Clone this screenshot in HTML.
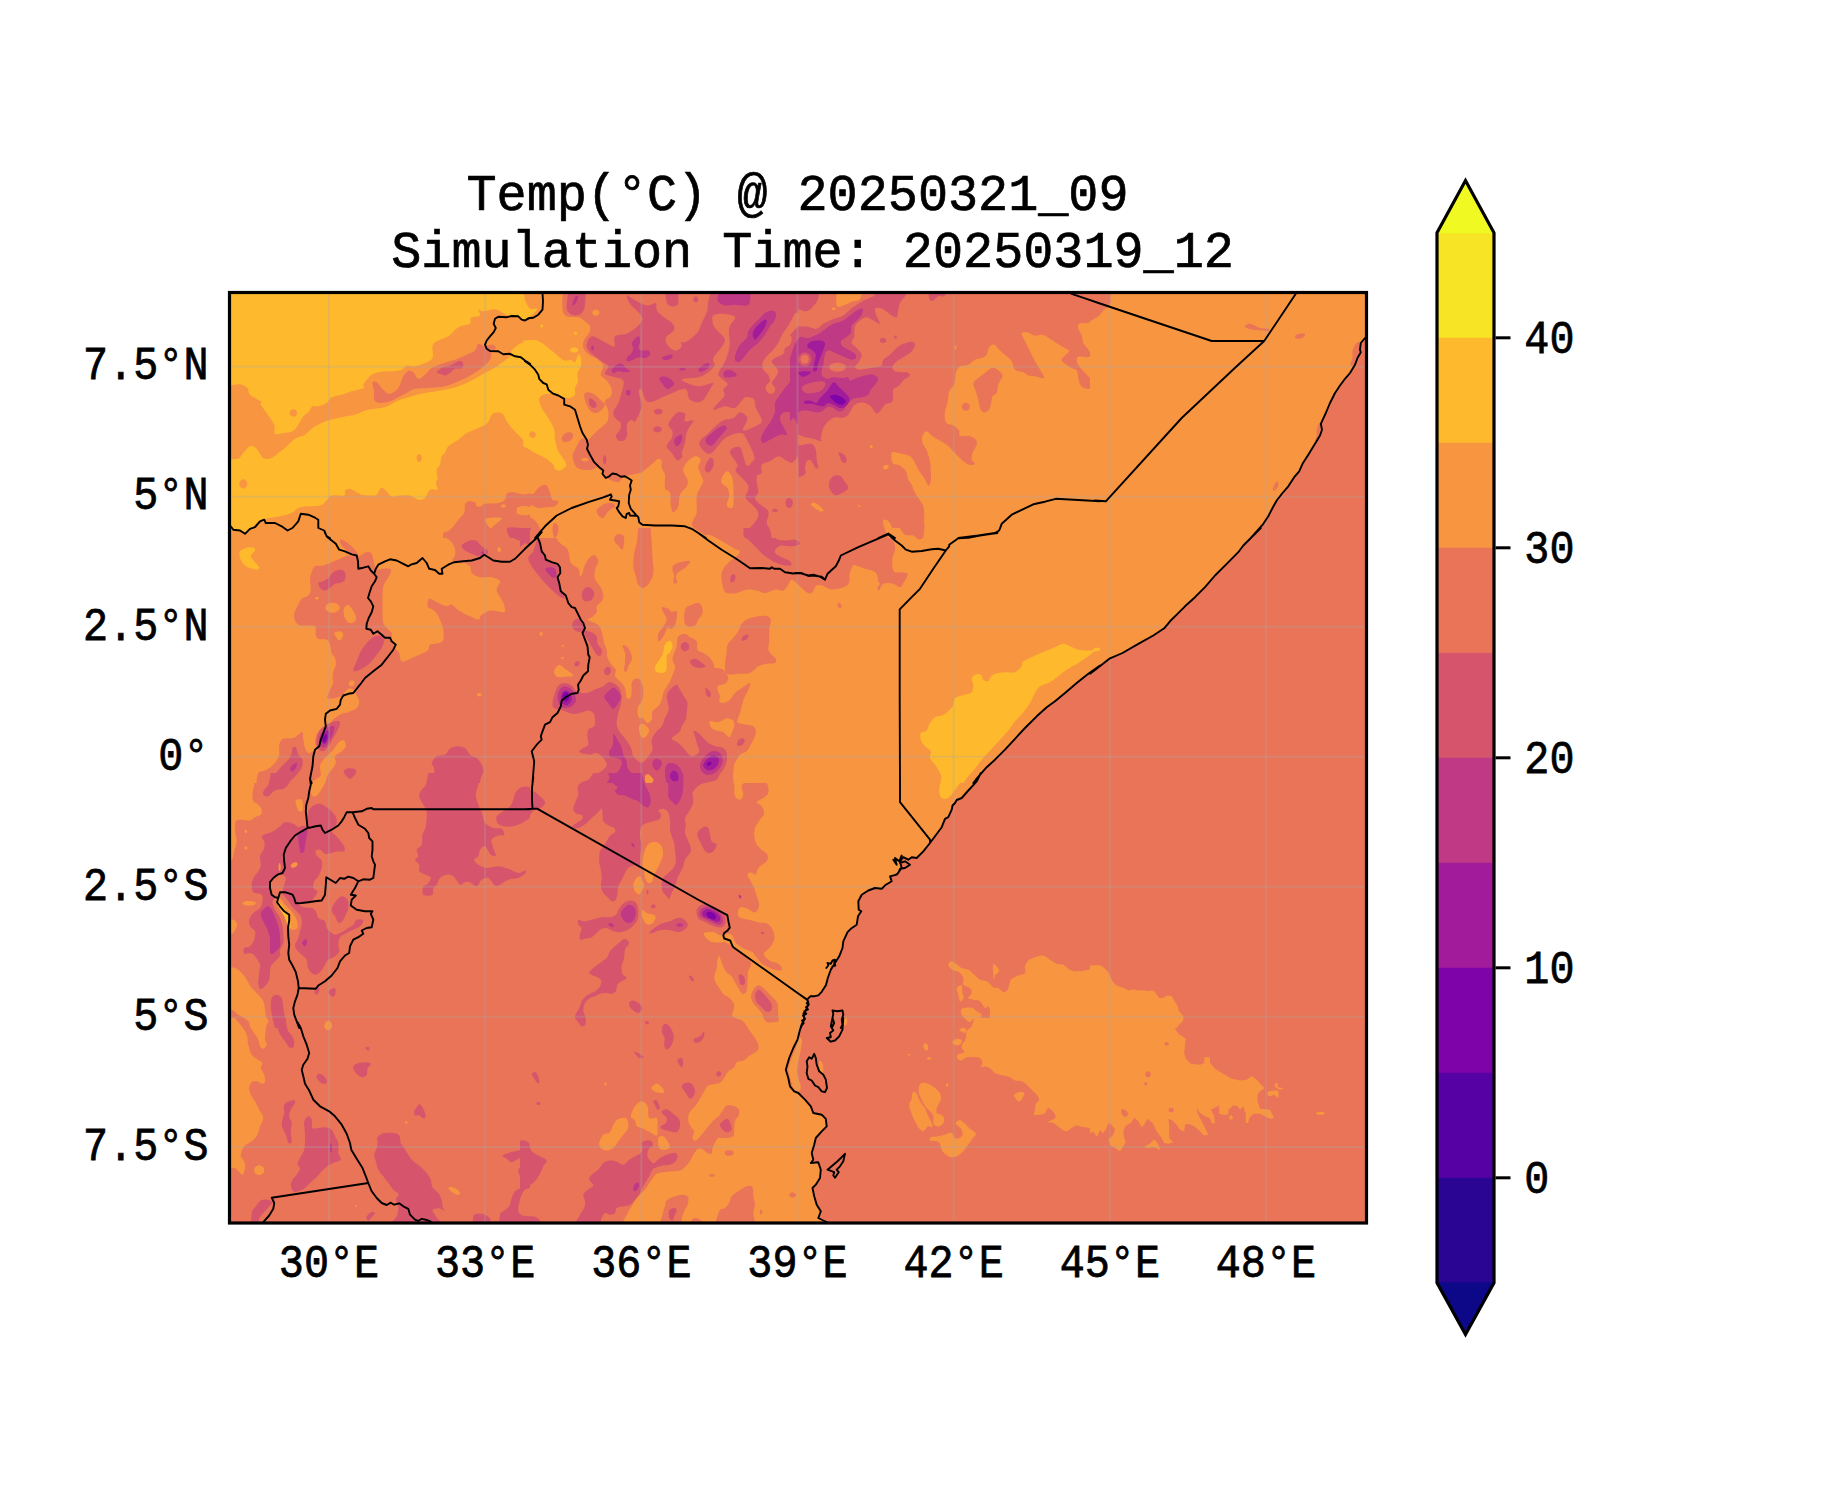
<!DOCTYPE html>
<html><head><meta charset="utf-8"><title>Temp</title>
<style>
html,body{margin:0;padding:0;background:#fff;}
svg{display:block}
text{font-family:"Liberation Mono",monospace;fill:#000;stroke:#000;stroke-width:0.7px}
</style></head><body>
<svg width="1833" height="1500" viewBox="0 0 1833 1500">
<rect x="0" y="0" width="1833" height="1500" fill="#ffffff"/>
<defs><clipPath id="cp"><rect x="229.5" y="292.5" width="1137.0" height="930.5"/></clipPath></defs>
<g clip-path="url(#cp)">
<rect x="229.5" y="292.5" width="1137.0" height="930.5" fill="#ea7457"/>
<g fill="#f89540"><path d="M220 283L530 283L530 538L220 538L220 283Z"/><path d="M520 283L563.3 283C563.3 283 561.9 302.4 562.5 308C563.1 313.6 564 314.8 566.7 316.3C569.3 317.9 575.3 316.3 578.3 317.2C581.4 318 583.1 319.8 585 321.3C586.9 322.9 589.3 324.4 590 326.3C590.7 328.3 590.1 330.8 589.2 333C588.2 335.2 585.1 337.2 584.2 339.7C583.2 342.2 582.5 345.5 583.3 348C584.2 350.5 586.9 352.9 589.2 354.7C591.4 356.5 594.3 357 596.7 358.8C599 360.6 602.6 362.9 603.3 365.5C604 368.1 600.1 372 600.8 374.7C601.5 377.3 605.7 378.8 607.5 381.3C609.3 383.8 611.1 387.2 611.7 389.7C612.2 392.2 611.9 394.4 610.8 396.3C609.7 398.3 605.4 398.8 605 401.3C604.6 403.8 607.9 408 608.3 411.3C608.8 414.7 608.5 418.8 607.5 421.3C606.5 423.8 604.3 424.7 602.5 426.3C600.7 428 598.6 429.5 596.7 431.3C594.7 433.1 592.5 435.6 590.8 437.2C589.2 438.7 588.1 440.4 586.7 440.5C585.3 440.6 583.9 437.6 582.5 438C581.1 438.4 579.6 441.1 578.3 443C577.1 444.9 576 447.4 575 449.7C574 451.9 572.4 453.6 572.5 456.3C572.6 459.1 574.2 464.1 575.8 466.3C577.5 468.6 579.9 469.1 582.5 469.7C585.1 470.2 589 470.1 591.7 469.7C594.3 469.2 596.4 466.9 598.3 467.2C600.3 467.4 601.7 469.4 603.3 471.3C605 473.3 605.8 477 608.3 478.8C610.8 480.6 615.8 482.4 618.3 482.2C620.8 481.9 621.1 478.4 623.3 477.2C625.6 475.9 628.9 475.4 631.7 474.7C634.4 474 637.8 473.8 640 473C642.2 472.2 642.8 471.3 645 469.7C647.2 468 651.1 464.8 653.3 463C655.6 461.2 656.9 459.1 658.3 458.8C659.7 458.6 661.1 459.8 661.7 461.3C662.2 462.9 661.1 465.8 661.7 468C662.2 470.2 664.4 471.3 665 474.7C665.6 478 664.2 484.9 665 488C665.8 491.1 669 489.9 670 493C671 496.1 670.3 503.1 670.8 506.3C671.4 509.5 672.1 512.2 673.3 512.2C674.6 512.2 677.2 509.3 678.3 506.3C679.4 503.4 678.6 498 680 494.7C681.4 491.3 685.4 488.8 686.7 486.3C687.9 483.8 688.1 482.2 687.5 479.7C686.9 477.2 683.8 473.8 683.3 471.3C682.9 468.8 683.6 466.9 685 464.7C686.4 462.4 689.7 459.4 691.7 458C693.6 456.6 695.1 456.1 696.7 456.3C698.2 456.6 700.6 458 700.8 459.7C701.1 461.3 698.5 464.1 698.3 466.3C698.2 468.6 699.2 470.5 700 473C700.8 475.5 703.3 478.8 703.3 481.3C703.3 483.8 701.1 485.5 700 488C698.9 490.5 697.2 492.2 696.7 496.3C696.1 500.5 697.2 509.1 696.7 513C696.1 516.9 694 517.4 693.3 519.7C692.6 521.9 691.1 524.1 692.5 526.3C693.9 528.6 699 531.1 701.7 533C704.3 534.9 708.3 538 708.3 538L520 538L520 283Z"/><path d="M599.5 312.7C599.5 313.3 599.2 314 598.8 314.4C598.4 314.9 597.6 315.3 597 315.5C596.3 315.7 595.4 315.7 594.7 315.5C594 315.3 593.3 314.9 592.9 314.4C592.4 314 592.2 313.3 592.2 312.7C592.2 312.1 592.4 311.4 592.9 310.9C593.3 310.4 594 310 594.7 309.8C595.4 309.6 596.3 309.6 597 309.8C597.6 310 598.4 310.4 598.8 310.9C599.2 311.4 599.5 312.1 599.5 312.7Z"/><path d="M666.7 368.8C666.7 369.1 666.3 369.5 665.7 369.7C665.1 370 664.1 370.2 663.2 370.3C662.3 370.4 661.1 370.4 660.1 370.3C659.2 370.2 658.2 370 657.6 369.7C657 369.5 656.7 369.1 656.7 368.8C656.7 368.5 657 368.2 657.6 368C658.2 367.7 659.2 367.5 660.1 367.4C661.1 367.3 662.3 367.3 663.2 367.4C664.1 367.5 665.1 367.7 665.7 368C666.3 368.2 666.7 368.5 666.7 368.8Z"/><path d="M722.5 476.3C723.5 474.4 726 471.3 727.5 471.3C729 471.3 730.7 474.1 731.7 476.3C732.6 478.6 733.1 479.9 733.3 484.7C733.6 489.4 733.9 500.8 733.3 504.7C732.8 508.6 731.1 508 730 508C728.9 508 726.8 506.6 726.7 504.7C726.5 502.7 729 499.1 729.2 496.3C729.3 493.6 728.8 490.2 727.5 488C726.2 485.8 722.5 484.9 721.7 483C720.8 481.1 721.5 478.3 722.5 476.3Z"/><path d="M837.5 283L864.2 283C864.2 283 861.8 295.8 860 298.8C858.2 301.9 855.8 300.4 853.3 301.3C850.8 302.3 847.8 304 845 304.7C842.2 305.4 837.9 309.1 836.7 305.5C835.4 301.9 837.5 283 837.5 283Z"/><path d="M835.7 308.8C835.7 309.1 835.5 309.4 835.3 309.6C835.1 309.8 834.7 310 834.3 310.1C833.9 310.2 833.4 310.2 833 310.1C832.7 310 832.3 309.8 832 309.6C831.8 309.4 831.7 309.1 831.7 308.8C831.7 308.6 831.8 308.3 832 308C832.3 307.8 832.7 307.6 833 307.6C833.4 307.5 833.9 307.5 834.3 307.6C834.7 307.6 835.1 307.8 835.3 308C835.5 308.3 835.7 308.6 835.7 308.8Z"/><path d="M1100 317.2C1100 317.2 1097.2 320.4 1095 321.3C1092.8 322.3 1089.3 322.6 1086.7 323C1084 323.4 1080.6 322.9 1079.2 323.8C1077.8 324.8 1077.9 326.9 1078.3 328.8C1078.8 330.8 1080.8 333.1 1081.7 335.5C1082.5 337.9 1082.2 340.6 1083.3 343C1084.4 345.4 1086.9 347.6 1088.3 349.7C1089.7 351.8 1091.9 354.2 1091.7 355.5C1091.4 356.8 1088.9 357 1086.7 357.2C1084.4 357.4 1080 356 1078.3 356.7C1076.7 357.4 1076.5 359.7 1076.7 361.3C1076.8 362.9 1077.8 364.4 1079.2 366.3C1080.6 368.3 1082.9 370.8 1085 373C1087.1 375.2 1089.9 377.9 1091.7 379.7C1093.5 381.5 1095.7 382.5 1095.8 383.8C1096 385.2 1094 386.8 1092.5 387.7C1091 388.5 1088.6 389.2 1086.7 388.8C1084.7 388.5 1082.2 387.3 1080.8 385.5C1079.4 383.7 1079 380.5 1078.3 378C1077.6 375.5 1078.1 372.3 1076.7 370.5C1075.3 368.7 1072.5 368.8 1070 367.2C1067.5 365.5 1062.5 362.4 1061.7 360.5C1060.8 358.6 1063.8 357.1 1065 355.5C1066.2 353.9 1069.7 352.5 1069.2 351C1068.6 349.5 1064.6 348.2 1061.7 346.3C1058.8 344.5 1054.7 341.9 1051.7 340C1048.6 338.1 1046.1 335.7 1043.3 335C1040.6 334.3 1037.5 336.2 1035 335.8C1032.5 335.4 1030.6 333.1 1028.3 332.7C1026.1 332.2 1022.2 331.9 1021.7 333.3C1021.1 334.8 1023.6 338.3 1025 341.3C1026.4 344.3 1028.3 348 1030 351.3C1031.7 354.7 1033.3 358.3 1035 361.3C1036.7 364.4 1038.5 366.9 1040 369.7C1041.5 372.4 1045 376.9 1044.2 378C1043.3 379.1 1037.6 376.8 1035 376.3C1032.4 375.9 1030.3 376.2 1028.3 375.5C1026.4 374.8 1025.6 373.1 1023.3 372.2C1021.1 371.2 1016.9 371.5 1015 369.7C1013.1 367.9 1013.1 363.6 1011.7 361.3C1010.3 359.1 1008.6 358.1 1006.7 356.3C1004.7 354.5 1002.1 352.4 1000 350.5C997.9 348.6 996 345.2 994.2 344.7C992.4 344.1 990.4 345.5 989.2 347.2C987.9 348.8 987.9 352.9 986.7 354.7C985.4 356.5 983.6 357.2 981.7 358C979.7 358.8 977.2 358.6 975 359.7C972.8 360.8 970.8 363.6 968.3 364.7C965.8 365.8 962.1 364.9 960 366.3C957.9 367.7 956.8 369.9 955.8 373C954.9 376.1 955.3 381.6 954.2 384.7C953.1 387.7 950.3 388.3 949.2 391.3C948.1 394.4 948.2 399.7 947.5 403C946.8 406.3 945.4 408.6 945 411.3C944.6 414.1 944.6 417.6 945 419.7C945.4 421.8 946.1 422.9 947.5 423.8C948.9 424.8 951.4 424.4 953.3 425.5C955.3 426.6 958.1 428.8 959.2 430.5C960.3 432.2 958.2 434.5 960 435.5C961.8 436.5 967.4 435.6 970 436.3C972.6 437 974.7 438.3 975.8 439.7C976.9 441.1 977.2 442.4 976.7 444.7C976.1 446.9 973.3 450.5 972.5 453C971.7 455.5 971.2 457.9 971.7 459.7C972.1 461.5 975.3 462.9 975 463.8C974.7 464.7 971.9 465.4 970 465C968.1 464.6 965.8 463.3 963.3 461.3C960.8 459.3 957.8 455.8 955 453C952.2 450.2 949.4 446.9 946.7 444.7C943.9 442.4 940.8 441.2 938.3 439.7C935.8 438.1 933.6 436.9 931.7 435.5C929.7 434.1 928.2 431.3 926.7 431.3C925.1 431.3 923.2 433.6 922.5 435.5C921.8 437.4 921.8 440.5 922.5 443C923.2 445.5 925.4 447.4 926.7 450.5C927.9 453.6 929.3 457.9 930 461.3C930.7 464.8 930.7 468 930.8 471.3C931 474.7 931.2 479 930.8 481.3C930.4 483.7 929.4 486.1 928.3 485.5C927.2 484.9 925.8 480.6 924.2 478C922.5 475.4 920 472.4 918.3 469.7C916.7 466.9 915.6 463.6 914.2 461.3C912.8 459.1 912.1 457.6 910 456.3C907.9 455.1 904.6 454.5 901.7 453.8C898.8 453.1 894.2 451.5 892.5 452.2C890.8 452.9 891.2 456.1 891.3 458C891.5 459.9 891.9 462.6 893.3 463.8C894.8 465.1 897.9 464.2 900 465.5C902.1 466.8 904.4 469 905.8 471.3C907.2 473.7 907.4 477.4 908.3 479.7C909.3 481.9 910.6 482.4 911.7 484.7C912.8 486.9 913.6 490.4 915 493C916.4 495.6 918.6 498.3 920 500.5C921.4 502.7 922.6 504 923.3 506.3C924 508.7 924 511.9 924.2 514.7C924.3 517.4 924 520.2 924.2 523C924.3 525.8 925.1 528.8 925 531.3C924.9 533.8 923.3 538 923.3 538L1100 538L1100 317.2Z"/><path d="M956.5 347.7C956.5 348.1 956.4 348.5 956.3 348.8C956.2 349.2 956 349.4 955.8 349.6C955.6 349.7 955.4 349.7 955.2 349.6C955 349.4 954.8 349.2 954.7 348.8C954.6 348.5 954.5 348.1 954.5 347.7C954.5 347.3 954.6 346.8 954.7 346.5C954.8 346.2 955 345.9 955.2 345.8C955.4 345.6 955.6 345.6 955.8 345.8C956 345.9 956.2 346.2 956.3 346.5C956.4 346.8 956.5 347.3 956.5 347.7Z"/><path d="M872.8 446.7C872.8 447 872.7 447.4 872.5 447.6C872.4 447.9 872.1 448.2 871.8 448.3C871.5 448.4 871.1 448.4 870.9 448.3C870.6 448.2 870.3 447.9 870.1 447.6C869.9 447.4 869.8 447 869.8 446.7C869.8 446.3 869.9 446 870.1 445.7C870.3 445.4 870.6 445.2 870.9 445.1C871.1 445 871.5 445 871.8 445.1C872.1 445.2 872.4 445.4 872.5 445.7C872.7 446 872.8 446.3 872.8 446.7Z"/><path d="M888.7 466.1C888.8 466.5 888.8 467.1 888.5 467.5C888.3 468 887.9 468.5 887.4 468.8C886.9 469.1 886.2 469.4 885.7 469.4C885.1 469.5 884.4 469.4 884 469.2C883.5 469 883.2 468.6 883 468.2C882.9 467.8 882.9 467.2 883.1 466.8C883.3 466.4 883.8 465.9 884.3 465.5C884.7 465.2 885.4 465 886 464.9C886.6 464.8 887.2 464.9 887.7 465.1C888.1 465.3 888.5 465.7 888.7 466.1Z"/><path d="M860.5 506C860.5 506.2 860.4 506.4 860.2 506.5C860.1 506.6 859.8 506.7 859.6 506.8C859.3 506.8 859 506.8 858.8 506.8C858.5 506.7 858.2 506.6 858.1 506.5C857.9 506.4 857.8 506.2 857.8 506C857.8 505.8 857.9 505.6 858.1 505.5C858.2 505.4 858.5 505.3 858.8 505.2C859 505.2 859.3 505.2 859.6 505.2C859.8 505.3 860.1 505.4 860.2 505.5C860.4 505.6 860.5 505.8 860.5 506Z"/><path d="M810.8 504.7C810.7 503.7 812.6 502.2 814.2 502.5C815.7 502.8 818.4 505 820 506.3C821.6 507.7 823.7 509.7 823.7 510.5C823.7 511.3 821.4 511.8 820 511.3C818.6 510.9 816.5 509.1 815 508C813.5 506.9 811 505.6 810.8 504.7Z"/><path d="M882.8 521.3C883 519.7 884.6 519.4 885.8 519.7C887 519.9 888.8 521.3 890 523C891.2 524.7 891.9 527.7 893.3 529.7C894.7 531.6 896.9 533.3 898.3 534.7C899.7 536.1 901.7 538 901.7 538L888.3 538C888.3 538 885.9 532.4 885 529.7C884.1 526.9 882.7 523 882.8 521.3Z"/><path d="M1110.8 283L1368.3 283C1368.3 283 1368.9 326.3 1368.3 335.5C1367.8 344.7 1366.2 336.8 1365 338C1363.8 339.2 1361.7 341.1 1360.8 343C1360 344.9 1360 348.1 1360 349.7C1360 351.2 1361.2 350.8 1360.8 352.2C1360.4 353.6 1358.5 355.9 1357.5 358C1356.5 360.1 1356.2 362.2 1355 364.7C1353.8 367.2 1351.7 370.6 1350 373C1348.3 375.4 1346.7 376.8 1345 378.8C1343.3 380.9 1341.7 383.1 1340 385.5C1338.3 387.9 1336.7 390.1 1335 393C1333.3 395.9 1331.5 399.7 1330 403C1328.5 406.3 1327.4 409.5 1325.8 413C1324.3 416.5 1321.5 421.1 1320.8 423.8C1320.2 426.6 1322.1 427.7 1322 429.7C1321.9 431.6 1321.2 433.1 1320 435.5C1318.8 437.9 1316.9 440.6 1315 443.8C1313.1 447 1310.4 451.3 1308.3 454.7C1306.2 458 1304 461.1 1302.5 463.8C1301 466.6 1300.6 469.1 1299.2 471.3C1297.8 473.6 1296 474.7 1294.2 477.2C1292.4 479.7 1290.3 483.7 1288.3 486.3C1286.4 489 1284.4 490.6 1282.5 493C1280.6 495.4 1278.3 498 1276.7 500.5C1275 503 1273.9 505.4 1272.5 508C1271.1 510.6 1269.9 513.7 1268.3 516.3C1266.8 519 1265.3 521.3 1263.3 523.8C1261.4 526.3 1258.8 529 1256.7 531.3C1254.6 533.7 1250.8 538 1250.8 538L1090 538L1090 321.3C1090 321.3 1096.1 318.1 1098.3 316.3C1100.6 314.5 1101.5 312.3 1103.3 310.5C1105.1 308.7 1107.9 307.3 1109.2 305.5C1110.4 303.7 1110.6 303.4 1110.8 299.7C1111.1 295.9 1110.8 283 1110.8 283Z"/><path d="M220 528L443.3 528C443.3 528 443.8 534.1 445 536.3C446.2 538.6 449.2 539.4 450.8 541.3C452.4 543.3 454 545.6 454.7 548C455.4 550.4 455.4 553.4 455 555.5C454.6 557.6 451.4 559.5 452.5 560.5C453.6 561.5 458.7 560.7 461.7 561.7C464.6 562.6 468.3 564.4 470 566.3C471.7 568.2 470 571.2 471.7 573C473.3 574.8 476.7 576.5 480 577.2C483.3 577.9 488.3 576.5 491.7 577.2C495 577.9 499.2 579.2 500 581.3C500.8 583.4 496.4 586.6 496.7 589.7C496.9 592.7 500.4 597.2 501.7 599.7C502.9 602.2 503.8 602.6 504.2 604.7C504.6 606.8 506.2 611.2 504.2 612.2C502.1 613.1 495.4 610.1 491.7 610.5C487.9 610.9 483.9 613.1 481.7 614.7C479.4 616.2 480.3 619.4 478.3 619.7C476.4 619.9 473.1 617.7 470 616.3C466.9 614.9 463.1 613.3 460 611.3C456.9 609.4 453.9 605.5 451.7 604.7C449.4 603.8 448.9 606.6 446.7 606.3C444.4 606.1 441.1 604.2 438.3 603C435.6 601.8 431.8 598.8 430 598.8C428.2 598.8 427.8 601.6 427.5 603C427.2 604.4 427.1 605.8 428.3 607.2C429.6 608.6 433.1 609.2 435 611.3C436.9 613.4 438.6 616.6 440 619.7C441.4 622.7 442.8 626.3 443.3 629.7C443.9 633 444 637.4 443.3 639.7C442.6 641.9 441.4 642.2 439.2 643C436.9 643.8 431.8 643.6 430 644.7C428.2 645.8 429.4 648.3 428.3 649.7C427.2 651.1 426.1 651.6 423.3 653C420.6 654.4 414.7 656.6 411.7 658C408.6 659.4 406.8 660.9 405 661.3C403.2 661.8 401.8 661.9 400.8 660.5C399.9 659.1 400.1 655.1 399.2 653C398.2 650.9 396.2 650.2 395 648C393.8 645.8 392.2 642.2 391.7 639.7C391.1 637.2 392.5 634.9 391.7 633C390.8 631.1 388.1 629.7 386.7 628C385.3 626.3 384 625.5 383.3 623C382.6 620.5 382.6 616.9 382.5 613C382.4 609.1 382.4 604.1 382.5 599.7C382.6 595.2 382.5 589.8 383.3 586.3C384.2 582.9 386.2 581.2 387.5 578.8C388.8 576.5 390.4 573.8 390.8 572.2C391.3 570.5 391.5 569.4 390 568.8C388.5 568.3 384 568.8 381.7 568.8C379.3 568.8 377.5 571.3 375.8 568.8C374.2 566.3 373.2 556.6 371.7 553.8C370.1 551.1 368.3 552 366.7 552.2C365 552.3 363.1 554 361.7 554.7C360.3 555.4 360.6 556.2 358.3 556.3C356.1 556.5 351.1 555.2 348.3 555.5C345.6 555.8 344.4 556.9 341.7 558C338.9 559.1 334.7 560.9 331.7 562.2C328.6 563.4 326.1 564.8 323.3 565.5C320.6 566.2 316.9 565.2 315 566.3C313.1 567.4 312.5 569.9 311.7 572.2C310.8 574.4 310.1 576.8 310 579.7C309.9 582.6 311.1 587 310.8 589.7C310.6 592.3 309.9 594 308.3 595.5C306.8 597 303.3 597.3 301.7 598.8C300 600.4 299.4 602.6 298.3 604.7C297.2 606.8 295.7 609.1 295 611.3C294.3 613.6 293.6 615.8 294.2 618C294.7 620.2 296.2 623.4 298.3 624.7C300.4 625.9 303.9 625.2 306.7 625.5C309.4 625.8 313.5 624.8 315 626.3C316.5 627.9 315.3 632.6 315.8 634.7C316.4 636.8 316.5 638 318.3 638.8C320.1 639.7 324.7 638.7 326.7 639.7C328.6 640.6 329.2 642.4 330 644.7C330.8 646.9 330.8 650.8 331.7 653C332.5 655.2 334.3 656.1 335 658C335.7 659.9 336.1 662.4 335.8 664.7C335.6 666.9 333.9 669.1 333.3 671.3C332.8 673.6 332.5 676.1 332.5 678C332.5 679.9 333.8 681.1 333.3 683C332.9 684.9 331 687.2 330 689.7C329 692.2 326.7 696.6 327.5 698C328.3 699.4 332.6 698.4 335 698C337.4 697.6 339.4 697 341.7 695.5C343.9 694 346.4 689.8 348.3 688.8C350.3 687.9 351.9 688.6 353.3 689.7C354.7 690.8 355.7 693.6 356.7 695.5C357.6 697.4 359.2 699.2 359.2 701.3C359.2 703.4 358.5 706.2 356.7 708C354.9 709.8 350.8 711.2 348.3 712.2C345.8 713.1 343.9 712.9 341.7 713.8C339.4 714.8 336.7 716.8 335 718C333.3 719.2 332.8 719.9 331.7 721.3C330.6 722.7 329.7 724.9 328.3 726.3C326.9 727.7 325.1 728.6 323.3 729.7C321.5 730.8 318.9 730.8 317.5 733C316.1 735.2 314.9 740.2 315 743C315.1 745.8 318.6 748.3 318.3 749.7C318.1 751.1 315 750.8 313.3 751.3C311.7 751.9 309.7 753.6 308.3 753C306.9 752.4 305.8 750.2 305 748C304.2 745.8 303.8 742.3 303.3 739.7C302.9 737 303.3 733 302.5 732.2C301.7 731.3 299.9 733.7 298.3 734.7C296.8 735.6 295.8 737.3 293.3 738C290.8 738.7 285.7 737.7 283.3 738.8C281 739.9 279.9 742 279.2 744.7C278.5 747.3 279.9 751.6 279.2 754.7C278.5 757.7 277.1 760.5 275 763C272.9 765.5 269.4 768 266.7 769.7C263.9 771.3 260 770.8 258.3 773C256.7 775.2 256.7 783 256.7 783L220 783L220 528Z"/><path d="M339.7 607.7C339.7 608.6 339.1 609.8 338.3 610.6C337.5 611.4 336.1 612.1 334.7 612.4C333.4 612.7 331.6 612.7 330.3 612.4C328.9 612.1 327.5 611.4 326.7 610.6C325.9 609.8 325.3 608.6 325.3 607.7C325.3 606.7 325.9 605.5 326.7 604.7C327.5 603.9 328.9 603.2 330.3 602.9C331.6 602.6 333.4 602.6 334.7 602.9C336.1 603.2 337.5 603.9 338.3 604.7C339.1 605.5 339.7 606.7 339.7 607.7Z"/><path d="M344.2 608C344.9 606.7 346.9 604.7 348.3 605C349.7 605.3 351.2 607.8 352.5 609.7C353.8 611.6 355.4 614.4 355.8 616.3C356.3 618.3 356.1 620.2 355 621.3C353.9 622.4 350.8 623.6 349.2 623C347.5 622.4 345.9 619.7 345 618C344.1 616.3 343.8 614.7 343.7 613C343.5 611.3 343.4 609.3 344.2 608Z"/><path d="M334.2 633C334.8 632 338.5 631.2 340 631.3C341.5 631.5 343.1 632.6 343.3 633.8C343.6 635.1 342.4 637.7 341.7 638.8C341 639.9 340.1 640.8 339.2 640.5C338.3 640.2 337.2 638.4 336.3 637.2C335.5 635.9 333.6 634 334.2 633Z"/><path d="M353.6 685.2C353.1 685.6 352.5 686 351.9 686.1C351.4 686.2 350.7 686.2 350.2 685.9C349.8 685.7 349.3 685.2 349.1 684.8C348.8 684.3 348.8 683.6 348.9 683.1C349 682.5 349.4 681.9 349.8 681.4C350.2 681 350.8 680.7 351.4 680.6C351.9 680.4 352.6 680.5 353.1 680.7C353.6 681 354 681.4 354.3 681.9C354.5 682.4 354.6 683.1 354.4 683.6C354.3 684.2 354 684.8 353.6 685.2Z"/><path d="M319 598.3C319 598.6 318.8 598.9 318.6 599.1C318.4 599.3 318 599.5 317.6 599.6C317.2 599.7 316.8 599.7 316.4 599.6C316 599.5 315.6 599.3 315.4 599.1C315.2 598.9 315 598.6 315 598.3C315 598.1 315.2 597.8 315.4 597.5C315.6 597.3 316 597.1 316.4 597.1C316.8 597 317.2 597 317.6 597.1C318 597.1 318.4 597.3 318.6 597.5C318.8 597.8 319 598.1 319 598.3Z"/><path d="M481.7 694.7C481.7 695 481.5 695.4 481.2 695.6C480.9 695.9 480.4 696.2 479.9 696.3C479.5 696.4 478.9 696.4 478.4 696.3C477.9 696.2 477.4 695.9 477.1 695.6C476.9 695.4 476.7 695 476.7 694.7C476.7 694.3 476.9 694 477.1 693.7C477.4 693.4 477.9 693.2 478.4 693.1C478.9 693 479.5 693 479.9 693.1C480.4 693.2 480.9 693.4 481.2 693.7C481.5 694 481.7 694.3 481.7 694.7Z"/><path d="M500.8 549.7C500.8 550.2 500.7 550.8 500.5 551.2C500.3 551.7 500 552 499.7 552.2C499.4 552.4 499 552.4 498.7 552.2C498.3 552 498 551.7 497.8 551.2C497.6 550.8 497.5 550.2 497.5 549.7C497.5 549.1 497.6 548.5 497.8 548.1C498 547.7 498.3 547.3 498.7 547.1C499 547 499.4 547 499.7 547.1C500 547.3 500.3 547.7 500.5 548.1C500.7 548.5 500.8 549.1 500.8 549.7Z"/><path d="M323 704.2C323 704.4 322.9 704.7 322.7 704.9C322.5 705 322.2 705.2 321.8 705.3C321.5 705.3 321.1 705.3 320.8 705.3C320.5 705.2 320.2 705 320 704.9C319.8 704.7 319.7 704.4 319.7 704.2C319.7 703.9 319.8 703.7 320 703.5C320.2 703.3 320.5 703.1 320.8 703.1C321.1 703 321.5 703 321.8 703.1C322.2 703.1 322.5 703.3 322.7 703.5C322.9 703.7 323 703.9 323 704.2Z"/><path d="M340 741.3C341.2 740.6 343.2 739.7 344.2 740.5C345.1 741.3 346.2 744.5 345.8 746.3C345.4 748.1 343.5 749.7 341.7 751.3C339.9 753 336 754.4 335 756.3C334 758.3 336.4 760.8 335.8 763C335.3 765.2 333.2 767.4 331.7 769.7C330.1 771.9 327.8 774.1 326.7 776.3C325.6 778.6 325 783 325 783L318.3 783C318.3 783 320.6 777.4 320.8 774.7C321.1 771.9 319.6 768.8 320 766.3C320.4 763.8 321.9 761.6 323.3 759.7C324.7 757.7 326.7 756.3 328.3 754.7C330 753 331.9 751.3 333.3 749.7C334.7 748 335.6 746.1 336.7 744.7C337.8 743.3 338.8 742 340 741.3Z"/><path d="M556.7 528C556.7 528 556.1 535.5 556.7 538C557.2 540.5 558.3 541.3 560 543C561.7 544.7 565.1 546.1 566.7 548C568.2 549.9 568.5 552.2 569.2 554.7C569.9 557.2 569.3 560.6 570.8 563C572.4 565.4 576.8 566.6 578.3 568.8C579.9 571.1 579.3 575.6 580 576.3C580.7 577 581.7 574.9 582.5 573C583.3 571.1 583.8 567.3 585 564.7C586.2 562 588.3 558.7 590 557.2C591.7 555.6 593.6 554.8 595 555.5C596.4 556.2 598.3 559 598.3 561.3C598.3 563.7 595.6 566.8 595 569.7C594.4 572.6 594.2 576.1 595 578.8C595.8 581.6 598.6 583.7 600 586.3C601.4 589 603.1 592.2 603.3 594.7C603.6 597.2 602.8 599.4 601.7 601.3C600.6 603.3 597.5 604.5 596.7 606.3C595.8 608.1 597.5 610.4 596.7 612.2C595.8 614 593.2 615.9 591.7 617.2C590.1 618.4 586.9 618.7 587.5 619.7C588.1 620.6 592.9 621.8 595 623C597.1 624.2 598.8 625.2 600 627.2C601.2 629.1 601.8 632 602.5 634.7C603.2 637.3 603.5 640.5 604.2 643C604.9 645.5 606.1 647.2 606.7 649.7C607.2 652.2 606.7 655.5 607.5 658C608.3 660.5 610.3 662.7 611.7 664.7C613.1 666.6 615.3 667.7 615.8 669.7C616.4 671.6 614.3 674.4 615 676.3C615.7 678.3 618.3 679.4 620 681.3C621.7 683.3 623.9 685.2 625 688C626.1 690.8 625.7 696.5 626.7 698C627.6 699.5 630 698.6 630.8 697.2C631.7 695.8 631.5 692 631.7 689.7C631.8 687.3 631.1 684.8 631.7 683C632.2 681.2 633.6 679.4 635 678.8C636.4 678.3 638.8 678.4 640 679.7C641.2 680.9 641.9 684.1 642.5 686.3C643.1 688.6 643.5 690.5 643.3 693C643.2 695.5 642.5 699.1 641.7 701.3C640.8 703.6 639 704.4 638.3 706.3C637.6 708.3 637.4 711.1 637.5 713C637.6 714.9 638.3 717.2 639.2 718C640 718.8 641.1 717.2 642.5 718C643.9 718.8 646 722.7 647.5 723C649 723.3 650.8 721.6 651.7 719.7C652.5 717.7 651.4 713.6 652.5 711.3C653.6 709.1 656.8 708.3 658.3 706.3C659.9 704.4 660.8 701.9 661.7 699.7C662.5 697.4 662.6 694.9 663.3 693C664 691.1 664.7 689.9 665.8 688C666.9 686.1 668.8 683.8 670 681.3C671.2 678.8 672.5 675.5 673.3 673C674.2 670.5 675.1 668.6 675 666.3C674.9 664.1 672.6 661.9 672.5 659.7C672.4 657.4 673.5 655.2 674.2 653C674.9 650.8 676.1 648.8 676.7 646.3C677.2 643.8 676.8 639.9 677.5 638C678.2 636.1 679.6 635.4 680.8 634.7C682.1 634 683.5 633.4 685 633.8C686.5 634.2 688.1 635.9 690 637.2C691.9 638.4 695.4 639.2 696.7 641.3C697.9 643.4 696.4 647.7 697.5 649.7C698.6 651.6 701.5 651.9 703.3 653C705.1 654.1 706.7 654.7 708.3 656.3C710 658 712.2 661.1 713.3 663C714.4 664.9 713.3 666.9 715 668C716.7 669.1 721.1 668 723.3 669.7C725.6 671.3 728.1 675.6 728.3 678C728.6 680.4 726.7 682.6 725 683.8C723.3 685.1 719.6 684.5 718.3 685.5C717.1 686.5 717.2 687.9 717.5 689.7C717.8 691.5 719.7 694.4 720 696.3C720.3 698.3 718.6 700.2 719.2 701.3C719.7 702.4 721.5 703.3 723.3 703C725.1 702.7 728.1 701.3 730 699.7C731.9 698 733.1 694.9 735 693C736.9 691.1 739.2 689.7 741.7 688C744.2 686.3 748.9 682.7 750 683C751.1 683.3 749.3 687.2 748.3 689.7C747.4 692.2 745.3 695.2 744.2 698C743.1 700.8 742.4 703.8 741.7 706.3C741 708.8 740.7 710.8 740 713C739.3 715.2 737.8 718 737.5 719.7C737.2 721.3 736.8 722.2 738.3 723C739.9 723.8 744.2 724.1 746.7 724.7C749.2 725.2 751.8 725.2 753.3 726.3C754.9 727.4 755.7 729.4 755.8 731.3C756 733.3 755 735.8 754.2 738C753.3 740.2 752.1 742.4 750.8 744.7C749.6 746.9 748.5 749.7 746.7 751.3C744.9 753 741.7 753.3 740 754.7C738.3 756.1 737.6 758 736.7 759.7C735.7 761.3 734.7 762.4 734.2 764.7C733.6 766.9 733.5 769.9 733.3 773C733.2 776.1 733.3 783 733.3 783L830 783L830 589.7C830 589.7 825.6 587 823.3 586.3C821.1 585.6 818.3 584.7 816.7 585.5C815 586.3 814.7 589.9 813.3 591.3C811.9 592.7 810 594.1 808.3 593.8C806.7 593.6 805 591.2 803.3 589.7C801.7 588.1 800.3 586.3 798.3 584.7C796.4 583 793.3 579.7 791.7 579.7C790 579.7 789.7 582.9 788.3 584.7C786.9 586.5 785.6 589.7 783.3 590.5C781.1 591.3 778.1 589.2 775 589.7C771.9 590.1 768.1 592.9 765 593C761.9 593.1 759.7 591.1 756.7 590.5C753.6 589.9 750 589.2 746.7 589.7C743.3 590.1 740 592.4 736.7 593C733.3 593.6 728.9 593.8 726.7 593C724.4 592.2 724.2 590.2 723.3 588C722.5 585.8 721.9 582.2 721.7 579.7C721.4 577.2 721.1 575.2 721.7 573C722.2 570.8 723.6 568.3 725 566.3C726.4 564.4 728.1 563 730 561.3C731.9 559.7 735 558 736.7 556.3C738.3 554.7 740.6 552.7 740 551.3C739.4 549.9 735.8 549.4 733.3 548C730.8 546.6 727.8 544.7 725 543C722.2 541.3 719.4 539.4 716.7 538C713.9 536.6 711.1 534.9 708.3 534.7C705.6 534.4 702.5 536.3 700 536.3C697.5 536.3 694.7 536.1 693.3 534.7C691.9 533.3 691.7 528 691.7 528L556.7 528Z"/><path d="M710 721.3C711.2 720.5 715.6 722.7 718.3 722.2C721.1 721.7 724.2 718.6 726.7 718.3C729.2 718.1 732.1 719.2 733.3 720.5C734.6 721.8 734.4 724.2 734.2 726.3C733.9 728.4 732.5 731.2 731.7 733C730.8 734.8 730.6 737.3 729.2 737.2C727.8 737 725.4 733.3 723.3 732.2C721.2 731.1 718.8 731.3 716.7 730.5C714.6 729.7 711.9 728.7 710.8 727.2C709.7 725.6 708.8 722.2 710 721.3Z"/><path d="M554.2 670.5C554.9 668.8 557.4 664.9 559.2 664.7C561 664.4 562.6 667 565 668.8C567.4 670.6 573.1 674.2 573.3 675.5C573.6 676.8 569.2 676.4 566.7 676.7C564.2 676.9 560.3 677.5 558.3 677.2C556.4 676.8 555.7 675.8 555 674.7C554.3 673.6 553.5 672.2 554.2 670.5Z"/><path d="M542.7 633.8C542.7 634.2 542.6 634.7 542.4 635C542.2 635.3 541.9 635.6 541.6 635.7C541.4 635.9 541 635.9 540.7 635.7C540.4 635.6 540.1 635.3 540 635C539.8 634.7 539.7 634.2 539.7 633.8C539.7 633.4 539.8 633 540 632.7C540.1 632.3 540.4 632.1 540.7 631.9C541 631.8 541.4 631.8 541.6 631.9C541.9 632.1 542.2 632.3 542.4 632.7C542.6 633 542.7 633.4 542.7 633.8Z"/><path d="M564 658C564 658.2 563.9 658.4 563.7 658.6C563.5 658.7 563.2 658.9 563 659C562.7 659 562.3 659 562 659C561.8 658.9 561.5 658.7 561.3 658.6C561.1 658.4 561 658.2 561 658C561 657.8 561.1 657.6 561.3 657.4C561.5 657.3 561.8 657.1 562 657C562.3 657 562.7 657 563 657C563.2 657.1 563.5 657.3 563.7 657.4C563.9 657.6 564 657.8 564 658Z"/><path d="M564 646C564 646.2 563.9 646.4 563.8 646.6C563.6 646.7 563.4 646.9 563.2 647C563 647 562.7 647 562.5 647C562.3 646.9 562 646.7 561.9 646.6C561.8 646.4 561.7 646.2 561.7 646C561.7 645.8 561.8 645.6 561.9 645.4C562 645.3 562.3 645.1 562.5 645C562.7 645 563 645 563.2 645C563.4 645.1 563.6 645.3 563.8 645.4C563.9 645.6 564 645.8 564 646Z"/><path d="M553.7 534.7C553.7 535.1 553.4 535.7 553 536C552.5 536.4 551.8 536.7 551.1 536.9C550.4 537 549.6 537 548.9 536.9C548.2 536.7 547.5 536.4 547 536C546.6 535.7 546.3 535.1 546.3 534.7C546.3 534.2 546.6 533.7 547 533.3C547.5 532.9 548.2 532.6 548.9 532.4C549.6 532.3 550.4 532.3 551.1 532.4C551.8 532.6 552.5 532.9 553 533.3C553.4 533.7 553.7 534.2 553.7 534.7Z"/><path d="M889.2 528C889.2 528 888.9 532.2 889.2 533.8C889.4 535.5 890 536.5 890.8 538C891.7 539.5 893.5 541.1 894.2 543C894.9 544.9 895.3 547.2 895 549.7C894.7 552.2 892.9 555.1 892.5 558C892.1 560.9 892.1 564.8 892.5 567.2C892.9 569.5 893.5 571.3 895 572.2C896.5 573 899.6 571.9 901.7 572.2C903.8 572.4 906.7 573 907.5 573.8C908.3 574.7 907.4 575.6 906.7 577.2C906 578.7 904.4 581.3 903.3 583C902.2 584.7 901.7 587 900 587.2C898.3 587.3 895.6 584.5 893.3 583.8C891.1 583.1 888.6 582.7 886.7 583C884.7 583.3 882.9 584.2 881.7 585.5C880.4 586.8 879.9 590.1 879.2 590.5C878.5 590.9 877.4 589.1 877.5 588C877.6 586.9 879.9 584.9 880 583.8C880.1 582.7 878.9 583 878.3 581.3C877.8 579.7 877.8 575.6 876.7 573.8C875.6 572 873.6 571.3 871.7 570.5C869.7 569.7 867.2 569.5 865 568.8C862.8 568.1 860.3 566.9 858.3 566.3C856.4 565.8 854.8 564.2 853.3 565.5C851.9 566.8 850.4 571.1 849.7 573.8C849 576.6 849.8 580.1 849.2 582.2C848.5 584.2 847.6 585.2 845.8 586.3C844 587.4 841 588.3 838.3 588.8C835.7 589.3 832.8 589.9 830 589.3C827.2 588.8 824 586 821.7 585.5C819.3 585 817.5 584.9 815.8 586.3C814.2 587.7 813.2 592.9 811.7 593.8C810.1 594.8 808.6 593.3 806.7 592.2C804.7 591.1 802.8 588.4 800 587.2C797.2 585.9 790 584.7 790 584.7L790 783L973.3 783C973.3 783 974.6 781.2 975.8 779.7C977.1 778.1 979 775.9 980.8 773.8C982.6 771.8 984.3 769.5 986.7 767.2C989 764.8 991.9 762.6 995 759.7C998.1 756.8 1001.7 753.1 1005 749.7C1008.3 746.2 1011.7 742.4 1015 738.8C1018.3 735.2 1021.4 731.8 1025 728C1028.6 724.2 1033.1 719.8 1036.7 716.3C1040.3 712.9 1043.6 709.7 1046.7 707.2C1049.7 704.7 1051.9 703.7 1055 701.3C1058.1 699 1061.4 696.1 1065 693C1068.6 689.9 1072.8 686.2 1076.7 683C1080.6 679.8 1084.4 676.8 1088.3 673.8C1092.2 670.9 1100 665.5 1100 665.5L1100 528L889.2 528Z"/><path d="M1090 528L1260.8 528L1255.8 533C1255.8 533 1246.2 542.3 1243.3 545.5C1240.4 548.7 1241.1 549.1 1238.3 552.2C1235.6 555.2 1230.6 559.9 1226.7 563.8C1222.8 567.7 1218.6 571.6 1215 575.5C1211.4 579.4 1208.3 583.6 1205 587.2C1201.7 590.8 1198.3 594 1195 597.2C1191.7 600.4 1188.1 603.4 1185 606.3C1181.9 609.2 1179.2 612.2 1176.7 614.7C1174.2 617.2 1172.1 619.1 1170 621.3C1167.9 623.6 1166.9 626 1164.2 628.3C1161.4 630.7 1157.6 632.9 1153.3 635.5C1149 638.1 1143.5 640.9 1138.3 643.8C1133.2 646.8 1127.2 650.6 1122.5 653C1117.8 655.4 1114.6 655.5 1110 658.3C1105.4 661.2 1095 670 1095 670L1090 673.8L1090 528Z"/><path d="M220 773L255.8 773C255.8 773 254.7 781.1 254.2 784.7C253.6 788.3 252.6 791.9 252.5 794.7C252.4 797.4 252.4 799.7 253.3 801.3C254.3 803 256.9 803.3 258.3 804.7C259.7 806.1 261.2 808 261.7 809.7C262.1 811.3 261.9 813.4 260.8 814.7C259.7 815.9 256.8 816.2 255 817.2C253.2 818.1 252.2 820.1 250 820.5C247.8 820.9 244 819.5 241.7 819.7C239.3 819.8 236.9 819.4 235.8 821.3C234.7 823.3 234.9 828 235 831.3C235.1 834.7 236.8 838 236.7 841.3C236.5 844.7 235 848.3 234.2 851.3C233.3 854.4 234 858 231.7 859.7C229.3 861.3 220 861.3 220 861.3L220 773Z"/><path d="M311.7 783C312.8 780.2 318.3 778 318.3 778L325 773L328.3 773C328.3 773 326.2 780.1 325 783C323.8 785.9 322.4 788.3 320.8 790.5C319.3 792.7 317.4 795.6 315.8 796.3C314.3 797 312.4 796.9 311.7 794.7C311 792.4 310.6 785.8 311.7 783Z"/><path d="M220 964.7C220 964.7 231.4 966.6 235 968C238.6 969.4 239.7 971.1 241.7 973C243.6 974.9 245 977.2 246.7 979.7C248.3 982.2 249.7 985.5 251.7 988C253.6 990.5 256.4 992.4 258.3 994.7C260.3 996.9 262.2 998.8 263.3 1001.3C264.4 1003.8 264.6 1007.2 265 1009.7C265.4 1012.2 265.3 1014.4 265.8 1016.3C266.4 1018.3 268.5 1019.4 268.3 1021.3C268.2 1023.3 265 1028 265 1028L258.3 1028C258.3 1028 255.3 1027.7 253.3 1026.3C251.4 1024.9 249.2 1021.6 246.7 1019.7C244.2 1017.7 240.8 1016.3 238.3 1014.7C235.8 1013 234.7 1010.8 231.7 1009.7C228.6 1008.6 220 1008 220 1008L220 964.7Z"/><path d="M220 919.7C220 919.7 230.5 918.8 233.3 919.7C236.2 920.5 236.7 923 237 924.7C237.3 926.3 235.9 928.1 235 929.7C234.1 931.2 234.2 933 231.7 933.8C229.2 934.7 220 934.7 220 934.7L220 919.7Z"/><path d="M255.8 903.3C255.8 903.8 255.3 904.3 254.6 904.7C253.8 905.1 252.5 905.4 251.2 905.6C250 905.7 248.3 905.7 247.1 905.6C245.9 905.4 244.5 905.1 243.8 904.7C243 904.3 242.5 903.8 242.5 903.3C242.5 902.9 243 902.3 243.8 902C244.5 901.6 245.9 901.3 247.1 901.1C248.3 901 250 901 251.2 901.1C252.5 901.3 253.8 901.6 254.6 902C255.3 902.3 255.8 902.9 255.8 903.3Z"/><path d="M295.8 800.5C296.7 799.5 300.5 798.8 301.7 799.7C302.9 800.5 302.9 803.6 303 805.5C303.1 807.4 302.8 810.5 302 811.3C301.2 812.2 299.3 811.5 298.3 810.5C297.4 809.5 296.8 807.2 296.3 805.5C295.9 803.8 294.9 801.5 295.8 800.5Z"/><path d="M247.2 831.3C247.2 831.7 247.1 832 246.9 832.3C246.8 832.6 246.5 832.8 246.2 832.9C246 833 245.7 833 245.4 832.9C245.2 832.8 244.9 832.6 244.8 832.3C244.6 832 244.5 831.7 244.5 831.3C244.5 831 244.6 830.6 244.8 830.4C244.9 830.1 245.2 829.8 245.4 829.7C245.7 829.6 246 829.6 246.2 829.7C246.5 829.8 246.8 830.1 246.9 830.4C247.1 830.6 247.2 831 247.2 831.3Z"/><path d="M247.3 848C247.3 848.3 247.2 848.6 247 848.9C246.9 849.1 246.6 849.3 246.3 849.4C246 849.5 245.6 849.5 245.4 849.4C245.1 849.3 244.8 849.1 244.6 848.9C244.4 848.6 244.3 848.3 244.3 848C244.3 847.7 244.4 847.4 244.6 847.1C244.8 846.9 245.1 846.7 245.4 846.6C245.6 846.5 246 846.5 246.3 846.6C246.6 846.7 246.9 846.9 247 847.1C247.2 847.4 247.3 847.7 247.3 848Z"/><path d="M331.7 1026.3C331.7 1027 331.4 1027.8 331 1028.3C330.5 1028.8 329.8 1029.3 329.1 1029.5C328.4 1029.7 327.6 1029.7 326.9 1029.5C326.2 1029.3 325.5 1028.8 325 1028.3C324.6 1027.8 324.3 1027 324.3 1026.3C324.3 1025.7 324.6 1024.9 325 1024.4C325.5 1023.8 326.2 1023.4 326.9 1023.2C327.6 1023 328.4 1023 329.1 1023.2C329.8 1023.4 330.5 1023.8 331 1024.4C331.4 1024.9 331.7 1025.7 331.7 1026.3Z"/><path d="M733.3 773C733.3 773 733.9 780.8 734.2 784.7C734.4 788.6 734 793.8 735 796.3C736 798.8 738.6 799.9 740 799.7C741.4 799.4 743.1 796.9 743.3 794.7C743.6 792.4 741.1 788.6 741.7 786.3C742.2 784.1 744.4 782.4 746.7 781.3C748.9 780.2 752.2 780.2 755 779.7C757.8 779.1 763.3 778 763.3 778C763.3 778 766.7 782.2 767.5 784.7C768.3 787.2 769 790.8 768.3 793C767.6 795.2 765.3 796.5 763.3 798C761.4 799.5 756.9 800.8 756.7 802.2C756.4 803.6 760.4 804.4 761.7 806.3C762.9 808.3 764.4 811.6 764.2 813.8C763.9 816.1 761.4 817.6 760 819.7C758.6 821.8 756.8 824.1 755.8 826.3C754.9 828.6 754.2 830.2 754.2 833C754.2 835.8 754.6 840.2 755.8 843C757.1 845.8 759.7 847.7 761.7 849.7C763.6 851.6 766.7 852.7 767.5 854.7C768.3 856.6 767.9 859.4 766.7 861.3C765.4 863.3 761.7 864.7 760 866.3C758.3 868 757.4 869.9 756.7 871.3C756 872.7 756.9 874.5 755.8 874.7C754.7 874.8 751.4 872 750 872.2C748.6 872.3 747.4 874 747.5 875.5C747.6 877 749.7 879.2 750.8 881.3C751.9 883.4 753.2 885.5 754.2 888C755.1 890.5 755.8 893.6 756.7 896.3C757.5 899.1 759.2 902.2 759.2 904.7C759.2 907.2 757.6 910.1 756.7 911.3C755.7 912.6 754.6 912.5 753.3 912.2C752.1 911.9 750.9 910.4 749 909.5C747.1 908.6 743.8 907 742 907C740.2 907 739.1 908.1 738.5 909.5C737.9 910.9 737.6 914.2 738.2 915.7C738.8 917.1 739.9 917.4 742 918.2C744.1 918.9 747.8 919.6 750.7 920.3C753.6 921.1 756.7 922 759.3 922.5C761.9 923 764.3 922.5 766.3 923.3C768.4 924.2 770.1 925.5 771.5 927.7C772.9 929.8 774.4 933.6 774.5 936.3C774.6 939.1 773.4 942 772.3 944.2C771.2 946.3 769.4 947.8 768 949.3C766.6 950.9 763.9 952.2 763.7 953.7C763.4 955.1 765 956.7 766.3 958C767.6 959.3 769.6 960.6 771.5 961.5C773.4 962.4 775.8 962.3 777.5 963.3C779.2 964.4 781.2 966.5 781.8 967.7C782.4 968.8 781.9 969.8 781 970.2C780.1 970.6 778.6 970.6 776.7 970.2C774.8 969.8 772 968.7 769.7 967.7C767.4 966.7 764.7 965.5 762.8 964.2C761 962.9 759.8 961.3 758.5 959.8C757.2 958.4 756 956.8 755 955.5C754 954.2 753.9 953 752.3 952C750.8 951 747.7 950.3 745.5 949.3C743.3 948.3 741.1 947.3 739.3 946C737.6 944.7 736.1 943.4 735 941.7C733.9 939.9 733.5 936.8 732.5 935.5C731.5 934.2 730.7 934 729.2 933.8C727.6 933.7 725.1 934.5 723.3 934.7C721.6 934.8 720.3 935.1 718.7 934.7C717 934.2 715.8 932.3 713.3 932C710.9 931.7 705 932 703.8 933C702.7 934 705.3 936.7 706.5 938.2C707.7 939.6 709.2 940.9 710.8 941.7C712.4 942.4 714.4 942.4 716 942.5C717.6 942.6 718.8 942.6 720.3 942.5C721.8 942.4 723 941.5 725 942.2C727 942.8 729.7 944.5 732.5 946.3C735.3 948.1 738.6 950.3 741.7 953C744.7 955.7 749.3 959.9 750.7 962.3C752 964.8 750.3 966.1 749.8 967.7C749.4 969.3 748.4 970.3 748 972C747.6 973.7 747.8 975.6 747.7 978C747.5 980.4 747.4 984.4 747.2 986.7C746.9 989 746.9 990.6 746.3 991.8C745.8 993.1 744.5 993.9 743.7 994C742.8 994.1 742 993.6 741.2 992.7C740.3 991.7 739.5 990.1 738.5 988.3C737.5 986.6 736.1 984.3 735 982.3C733.9 980.3 733.1 978.1 731.7 976.3C730.2 974.6 727.8 973.8 726.3 972C724.9 970.2 724.1 968.3 723 965.8C721.9 963.4 720.6 958.8 719.8 957.2C719.1 955.6 719.1 955.8 718.7 956.3C718.2 956.9 717.6 958.8 717.3 960.7C717 962.6 717.2 965.6 716.8 967.7C716.5 969.7 715.6 971.1 715.2 972.8C714.8 974.6 714.2 976.3 714.3 978C714.5 979.7 715.1 981.4 716 983.2C716.9 984.9 718.3 986.6 719.5 988.3C720.7 990.1 721.6 992.2 723 993.7C724.4 995.1 726.4 995.6 728.2 997C729.9 998.4 732.3 1000.6 733.3 1002.3C734.3 1004.1 734.3 1005.8 734.2 1007.5C734 1009.2 732.8 1011.2 732.5 1012.7C732.2 1014.1 731.8 1015.2 732.5 1016.2C733.2 1017.2 735.4 1018 736.8 1018.7C738.3 1019.3 739.7 1019.1 741.2 1020C742.6 1020.9 744.2 1022.3 745.5 1024C746.8 1025.7 749 1030 749 1030L830 1030L830 773L733.3 773Z"/><path d="M642.5 909.7C643.3 909.2 644.9 912.2 646.7 913C648.5 913.8 651.8 914 653.3 914.7C654.9 915.4 655.8 915.9 655.8 917.2C655.8 918.4 654.6 920.9 653.3 922.2C652.1 923.4 649.9 924.8 648.3 924.7C646.8 924.5 645.2 922.9 644.2 921.3C643.1 919.8 642.3 917.4 642 915.5C641.7 913.6 641.7 910.1 642.5 909.7Z"/><path d="M790 773L980.8 773C980.8 773 978.8 778.4 976.7 781.3C974.6 784.2 970.8 787.7 968.3 790.5C965.8 793.3 963.6 796.4 961.7 798C959.7 799.6 957.8 799.2 956.7 800C955.6 800.8 955.7 802.1 955 803C954.3 803.9 953.1 804.4 952.5 805.5C951.9 806.6 952.4 807.7 951.7 809.7C951 811.6 949.4 815.6 948.3 817.2C947.2 818.7 946.1 817.2 945 818.8C943.9 820.5 943.3 824.2 941.7 827.2C940 830.1 936.9 833.7 935 836.3C933.1 839 931.9 840.5 930 843C928.1 845.5 925.6 848.8 923.3 851.3C921.1 853.8 918.6 857 916.7 858C914.7 859 913.1 856.9 911.7 857.2C910.3 857.4 909.7 859.7 908.3 859.7C906.9 859.7 904.7 856.9 903.3 857.2C901.9 857.4 900.3 859.5 900 861.3C899.7 863.1 902.2 865.8 901.7 868C901.1 870.2 898.6 873.3 896.7 874.7C894.7 876.1 890.8 875.2 890 876.3C889.2 877.4 892.4 879.9 891.7 881.3C891 882.7 887.5 883.4 885.8 884.7C884.2 885.9 883.5 888.3 881.7 888.8C879.9 889.4 877.2 887.7 875 888C872.8 888.3 870.6 889.4 868.3 890.5C866.1 891.6 863.3 892.9 861.7 894.7C860 896.5 858.8 898.8 858.3 901.3C857.8 903.8 858.2 908 858.7 909.7C859.2 911.3 861.4 910.2 861.3 911.3C861.2 912.4 858.8 914.1 858 916.3C857.2 918.6 857.9 922.6 856.7 924.7C855.5 926.8 852.4 927.6 850.8 928.8C849.3 930.1 848.8 930.1 847.5 932.2C846.2 934.2 844.2 938.7 843.3 941.3C842.5 944 843.2 945.5 842.5 948C841.8 950.5 840.4 953.8 839.2 956.3C837.9 958.8 836.4 960.8 835 963C833.6 965.2 831.7 968.2 830.8 969.7C830 971.2 830.1 962.3 830 972C829.9 981.7 830 1028 830 1028L790 1028L790 773Z"/><path d="M1100 965.5C1100 965.5 1095.8 967.2 1093.3 968C1090.8 968.8 1087.8 969.9 1085 970.5C1082.2 971.1 1079.2 971.5 1076.7 971.3C1074.2 971.2 1072.2 970.8 1070 969.7C1067.8 968.6 1065.6 965.6 1063.3 964.7C1061.1 963.7 1058.9 964.7 1056.7 963.8C1054.4 963 1052.2 961.1 1050 959.7C1047.8 958.3 1045.8 955.9 1043.3 955.5C1040.8 955.1 1037.5 956.3 1035 957.2C1032.5 958 1030 959 1028.3 960.5C1026.7 962 1025.6 964.2 1025 966.3C1024.4 968.4 1026.1 971.5 1025 973C1023.9 974.5 1020.6 974.5 1018.3 975.5C1016.1 976.5 1013.2 977.3 1011.7 978.8C1010.1 980.4 1009.9 982.9 1009.2 984.7C1008.5 986.5 1008.5 988.4 1007.5 989.7C1006.5 990.9 1004.9 992.4 1003.3 992.2C1001.8 991.9 1000 988.8 998.3 988C996.7 987.2 995.3 988.3 993.3 987.2C991.4 986.1 988.9 982.6 986.7 981.3C984.4 980.1 982.2 980.9 980 979.7C977.8 978.4 975.3 975.5 973.3 973.8C971.4 972.2 970.3 970.6 968.3 969.7C966.4 968.7 963.9 969.1 961.7 968C959.4 966.9 956.8 964.1 955 963C953.2 961.9 951.9 960.9 950.8 961.3C949.7 961.8 948.1 964.1 948.3 965.5C948.6 966.9 950.7 968.6 952.5 969.7C954.3 970.8 957.4 970.8 959.2 972.2C961 973.6 962.6 975.9 963.3 978C964 980.1 962.2 983 963.3 984.7C964.4 986.3 968.6 986.6 970 988C971.4 989.4 971.9 991.3 971.7 993C971.4 994.7 968.1 996.9 968.3 998C968.6 999.1 971.4 999.1 973.3 999.7C975.3 1000.2 978.1 999.9 980 1001.3C981.9 1002.7 983.6 1007.2 985 1008C986.4 1008.8 987.5 1005.8 988.3 1006.3C989.2 1006.9 989.7 1009.4 990 1011.3C990.3 1013.3 989.2 1016.3 990 1018C990.8 1019.7 993.1 1020.2 995 1021.3C996.9 1022.4 1000.3 1023.6 1001.7 1024.7C1003.1 1025.8 1003.3 1028 1003.3 1028L1100 1028L1100 965.5Z"/><path d="M956.7 988C957.2 986.5 960.7 984.7 961.7 985.5C962.6 986.3 962.2 990.9 962.5 993C962.8 995.1 964.1 996.6 963.7 998C963.2 999.4 960.9 1001.9 960 1001.3C959.1 1000.8 958.9 996.9 958.3 994.7C957.8 992.4 956.1 989.5 956.7 988Z"/><path d="M961.7 1008.8C963.3 1007.7 969.2 1007.2 971.7 1007.7C974.2 1008.1 975 1010.2 976.7 1011.3C978.3 1012.5 981.4 1013.3 981.7 1014.7C981.9 1016.1 979.6 1019.1 978.3 1019.7C977.1 1020.2 975.6 1017.6 974.2 1018C972.8 1018.4 971.5 1022 970 1022.2C968.5 1022.3 966.4 1020.1 965 1018.8C963.6 1017.6 962.2 1016.3 961.7 1014.7C961.1 1013 960 1010 961.7 1008.8Z"/><path d="M974.2 1024.7C975 1023.7 976.8 1022.4 978.3 1022.2C979.9 1021.9 981.4 1023.4 983.3 1023C985.3 1022.6 988.8 1018.8 990 1019.7C991.2 1020.5 990.8 1028 990.8 1028L973.3 1028C973.3 1028 973.3 1025.6 974.2 1024.7Z"/><path d="M993.3 964.3C994.2 962.8 998.9 968.6 999.2 970.5C999.4 972.4 995.9 973.9 995 975.5C994.1 977.1 993.9 981.9 993.7 980C993.4 978.1 992.4 965.9 993.3 964.3Z"/><path d="M847.3 1021.3C847.3 1022.1 847.2 1023.1 846.9 1023.8C846.6 1024.4 846.2 1025 845.7 1025.3C845.3 1025.5 844.7 1025.5 844.3 1025.3C843.8 1025 843.4 1024.4 843.1 1023.8C842.8 1023.1 842.7 1022.1 842.7 1021.3C842.7 1020.5 842.8 1019.5 843.1 1018.9C843.4 1018.2 843.8 1017.6 844.3 1017.4C844.7 1017.1 845.3 1017.1 845.7 1017.4C846.2 1017.6 846.6 1018.2 846.9 1018.9C847.2 1019.5 847.3 1020.5 847.3 1021.3Z"/><path d="M1090 965.5C1090 965.5 1097.5 964.9 1100 965.5C1102.5 966.1 1103.5 967.4 1105 968.8C1106.5 970.2 1108.1 972 1109.2 973.8C1110.3 975.6 1110.4 977.7 1111.7 979.7C1112.9 981.6 1114.6 984.1 1116.7 985.5C1118.8 986.9 1122.1 987.2 1124.2 988C1126.2 988.8 1127.6 990.3 1129.2 990.5C1130.7 990.7 1131.8 989.3 1133.3 989.3C1134.9 989.3 1136.4 990.3 1138.3 990.5C1140.3 990.7 1143.3 990.4 1145 990.5C1146.7 990.6 1147.1 991 1148.3 991C1149.6 991 1151.2 990.2 1152.5 990.5C1153.8 990.8 1154.7 991.8 1155.8 993C1156.9 994.2 1157.9 996.9 1159.2 997.7C1160.4 998.4 1161.9 998 1163.3 997.7C1164.7 997.3 1166.1 995.7 1167.5 995.5C1168.9 995.3 1170.6 995.5 1171.7 996.3C1172.8 997.2 1173.2 999 1174.2 1000.5C1175.1 1002 1176.7 1003.7 1177.5 1005.5C1178.3 1007.3 1178.2 1009.5 1179.2 1011.3C1180.1 1013.1 1182.8 1014.7 1183.3 1016.3C1183.9 1018 1183.2 1019.9 1182.5 1021.3C1181.8 1022.7 1180.1 1023.6 1179.2 1024.7C1178.2 1025.8 1176.7 1028 1176.7 1028L1090 1028L1090 965.5Z"/><path d="M220 1018L235 1018C235 1018 239.7 1023.6 241.7 1026.3C243.6 1029.1 245.6 1031.6 246.7 1034.7C247.8 1037.7 247.5 1041.3 248.3 1044.7C249.2 1048 250 1052.2 251.7 1054.7C253.3 1057.2 256.5 1058.3 258.3 1059.7C260.1 1061.1 262.1 1061.6 262.5 1063C262.9 1064.4 260.6 1066.1 260.8 1068C261.1 1069.9 263.5 1072.4 264.2 1074.7C264.9 1076.9 265.3 1079.8 265 1081.3C264.7 1082.9 263.9 1083.8 262.5 1083.8C261.1 1083.8 258.5 1081.6 256.7 1081.3C254.9 1081.1 252.9 1081.1 251.7 1082.2C250.4 1083.3 249.3 1085.9 249.2 1088C249 1090.1 249.9 1092.4 250.8 1094.7C251.8 1096.9 253.6 1098.8 255 1101.3C256.4 1103.8 257.8 1106.9 259.2 1109.7C260.6 1112.4 263.2 1115.2 263.3 1118C263.5 1120.8 261 1123.6 260 1126.3C259 1129.1 258.9 1132.2 257.5 1134.7C256.1 1137.2 253.8 1139.5 251.7 1141.3C249.6 1143.1 246.7 1143.8 245 1145.5C243.3 1147.2 242.4 1149.5 241.7 1151.3C241 1153.1 240.4 1154.7 240.8 1156.3C241.2 1158 243.5 1159.4 244.2 1161.3C244.9 1163.3 245.3 1165.8 245 1168C244.7 1170.2 243.6 1174.1 242.5 1174.7C241.4 1175.2 239.7 1172.4 238.3 1171.3C236.9 1170.2 237.2 1168.3 234.2 1168C231.1 1167.7 220 1169.7 220 1169.7L220 1018Z"/><path d="M249.2 1018L266.7 1018C266.7 1018 266.1 1026.1 265.8 1029.7C265.6 1033.3 264.9 1037.2 265 1039.7C265.1 1042.2 266.9 1043.1 266.7 1044.7C266.4 1046.2 264.4 1048.6 263.3 1048.8C262.2 1049.1 260.8 1047.9 260 1046.3C259.2 1044.8 259.3 1041.9 258.3 1039.7C257.4 1037.4 255.6 1035.2 254.2 1033C252.8 1030.8 250.8 1028.8 250 1026.3C249.2 1023.8 249.2 1018 249.2 1018Z"/><path d="M332 1025.5C332 1026.4 331.7 1027.5 331.3 1028.2C330.9 1029 330.1 1029.7 329.5 1029.9C328.8 1030.2 327.9 1030.2 327.2 1029.9C326.5 1029.7 325.8 1029 325.4 1028.2C324.9 1027.5 324.7 1026.4 324.7 1025.5C324.7 1024.6 324.9 1023.5 325.4 1022.8C325.8 1022 326.5 1021.3 327.2 1021.1C327.9 1020.8 328.8 1020.8 329.5 1021.1C330.1 1021.3 330.9 1022 331.3 1022.8C331.7 1023.5 332 1024.6 332 1025.5Z"/><path d="M264.2 1170.2C264.2 1171.1 263.8 1172.3 263.2 1173.1C262.6 1173.9 261.6 1174.6 260.7 1174.9C259.8 1175.2 258.6 1175.2 257.6 1174.9C256.7 1174.6 255.7 1173.9 255.1 1173.1C254.5 1172.3 254.2 1171.1 254.2 1170.2C254.2 1169.2 254.5 1168 255.1 1167.2C255.7 1166.4 256.7 1165.7 257.6 1165.4C258.6 1165.1 259.8 1165.1 260.7 1165.4C261.6 1165.7 262.6 1166.4 263.2 1167.2C263.8 1168 264.2 1169.2 264.2 1170.2Z"/><path d="M407.7 1122.5C407.7 1122.7 407.6 1123 407.4 1123.2C407.3 1123.4 407 1123.5 406.7 1123.6C406.5 1123.7 406.2 1123.7 405.9 1123.6C405.7 1123.5 405.4 1123.4 405.3 1123.2C405.1 1123 405 1122.7 405 1122.5C405 1122.3 405.1 1122 405.3 1121.8C405.4 1121.6 405.7 1121.5 405.9 1121.4C406.2 1121.3 406.5 1121.3 406.7 1121.4C407 1121.5 407.3 1121.6 407.4 1121.8C407.6 1122 407.7 1122.3 407.7 1122.5Z"/><path d="M356.8 1206C356.8 1206.2 356.8 1206.4 356.6 1206.6C356.5 1206.7 356.3 1206.9 356.1 1207C356 1207 355.7 1207 355.5 1207C355.3 1206.9 355.1 1206.7 355 1206.6C354.9 1206.4 354.8 1206.2 354.8 1206C354.8 1205.8 354.9 1205.6 355 1205.4C355.1 1205.3 355.3 1205.1 355.5 1205C355.7 1205 356 1205 356.1 1205C356.3 1205.1 356.5 1205.3 356.6 1205.4C356.8 1205.6 356.8 1205.8 356.8 1206Z"/><path d="M448.3 1188C448.3 1187.2 451 1186.9 452.5 1187.2C454 1187.4 456.2 1188.7 457.5 1189.7C458.8 1190.6 460 1192.2 460 1193C460 1193.8 458.8 1194.8 457.5 1194.7C456.2 1194.5 454 1193.3 452.5 1192.2C451 1191.1 448.3 1188.8 448.3 1188Z"/><path d="M745 1018C745 1018 746.7 1024.7 748.3 1028C750 1031.3 753.3 1035.2 755 1038C756.7 1040.8 757.9 1042.6 758.3 1044.7C758.8 1046.8 758.9 1048.7 757.5 1050.5C756.1 1052.3 752.4 1053.8 750 1055.5C747.6 1057.2 745.6 1059.4 743.3 1060.5C741.1 1061.6 738.2 1061.1 736.7 1062.2C735.1 1063.3 735.7 1065.5 734.2 1067.2C732.6 1068.8 729.2 1070.4 727.5 1072.2C725.8 1074 725.6 1076.2 724.2 1078C722.8 1079.8 721.8 1081.8 719.2 1083C716.5 1084.2 710.8 1084.1 708.3 1085.5C705.8 1086.9 705.6 1089.1 704.2 1091.3C702.8 1093.6 701.5 1096.3 700 1098.8C698.5 1101.3 696.8 1104 695 1106.3C693.2 1108.7 690.3 1110.5 689.2 1113C688.1 1115.5 687.9 1118.8 688.3 1121.3C688.8 1123.8 690.7 1126.3 691.7 1128C692.6 1129.7 694 1129.7 694.2 1131.3C694.3 1133 692.2 1136.5 692.5 1138C692.8 1139.5 694.3 1141.1 695.8 1140.5C697.4 1139.9 699.7 1136.9 701.7 1134.7C703.6 1132.4 705.6 1129.5 707.5 1127.2C709.4 1124.8 711.4 1122.4 713.3 1120.5C715.3 1118.6 717.5 1117.3 719.2 1115.5C720.8 1113.7 722.1 1111.3 723.3 1109.7C724.6 1108 724.7 1106.1 726.7 1105.5C728.6 1104.9 732.9 1105.5 735 1106.3C737.1 1107.2 738.6 1108.8 739.2 1110.5C739.7 1112.2 739 1114.5 738.3 1116.3C737.6 1118.1 735.7 1119.1 735 1121.3C734.3 1123.6 734.4 1127.2 734.2 1129.7C733.9 1132.2 734.6 1134.9 733.3 1136.3C732.1 1137.7 729.2 1137.7 726.7 1138C724.2 1138.3 720.3 1137.2 718.3 1138C716.4 1138.8 716 1141.3 715 1143C714 1144.7 713.1 1146.2 712.5 1148C711.9 1149.8 712.5 1153 711.7 1153.8C710.8 1154.7 708.9 1153.7 707.5 1153C706.1 1152.3 704.9 1150.4 703.3 1149.7C701.8 1149 700 1148 698.3 1148.8C696.7 1149.7 694.7 1152.6 693.3 1154.7C691.9 1156.8 691.4 1159.2 690 1161.3C688.6 1163.4 686.7 1165.6 685 1167.2C683.3 1168.7 682.2 1169.8 680 1170.5C677.8 1171.2 674.4 1171.1 671.7 1171.3C668.9 1171.6 665.8 1171.8 663.3 1172.2C660.8 1172.6 658.6 1172.6 656.7 1173.8C654.7 1175.1 653.3 1177.4 651.7 1179.7C650 1181.9 648.3 1184.9 646.7 1187.2C645 1189.4 643.5 1190.9 641.7 1193C639.9 1195.1 637.5 1197.4 635.8 1199.7C634.2 1201.9 633.2 1203.8 631.7 1206.3C630.1 1208.8 628.1 1212.2 626.7 1214.7C625.3 1217.2 624.2 1219.1 623.3 1221.3C622.5 1223.6 587.2 1226.9 621.7 1228C656.1 1229.1 830 1228 830 1228L830 1018L745 1018Z"/><path d="M599.2 1143C599.6 1140.8 601.5 1136.5 603.3 1134.7C605.1 1132.9 608.2 1134.1 610 1132.2C611.8 1130.2 612.5 1125.3 614.2 1123C615.8 1120.7 617.9 1119 620 1118.3C622.1 1117.6 625.3 1117.2 626.7 1118.8C628.1 1120.4 628.9 1125.4 628.3 1128C627.8 1130.6 625 1132.4 623.3 1134.7C621.7 1136.9 620 1139.1 618.3 1141.3C616.7 1143.6 615.3 1146.5 613.3 1148C611.4 1149.5 608.8 1150.5 606.7 1150.5C604.6 1150.5 602.1 1149.2 600.8 1148C599.6 1146.8 598.8 1145.2 599.2 1143Z"/><path d="M630.8 1116.3C630.8 1114 633.2 1108.8 635 1106.3C636.8 1103.8 639.6 1101.3 641.7 1101.3C643.8 1101.3 646.2 1103.6 647.5 1106.3C648.8 1109.1 647.6 1116.1 649.2 1118C650.7 1119.9 655.3 1116.6 656.7 1118C658.1 1119.4 657.5 1123.4 657.5 1126.3C657.5 1129.2 658.2 1134.7 656.7 1135.5C655.1 1136.3 650.8 1132.6 648.3 1131.3C645.8 1130.1 643.6 1128.8 641.7 1128C639.7 1127.2 637.8 1127.6 636.7 1126.3C635.6 1125.1 636 1122.2 635 1120.5C634 1118.8 630.8 1118.7 630.8 1116.3Z"/><path d="M658.3 1138C659 1136.1 661.8 1135.8 663.3 1136.3C664.9 1136.9 666.4 1139.5 667.5 1141.3C668.6 1143.1 670.4 1145.8 670 1147.2C669.6 1148.6 666.8 1149.5 665 1149.7C663.2 1149.8 660.3 1149.9 659.2 1148C658.1 1146.1 657.6 1139.9 658.3 1138Z"/><path d="M651.3 1088C651.3 1086.6 654.9 1084 656.7 1083.8C658.4 1083.7 660.4 1085.7 661.7 1087.2C662.9 1088.6 665 1091.8 664.2 1092.7C663.3 1093.5 658.8 1092.9 656.7 1092.2C654.5 1091.4 651.3 1089.4 651.3 1088Z"/><path d="M606.5 1083.8C606.5 1084.2 606.4 1084.5 606.3 1084.8C606.1 1085.1 605.9 1085.3 605.7 1085.4C605.5 1085.5 605.2 1085.5 605 1085.4C604.8 1085.3 604.5 1085.1 604.4 1084.8C604.3 1084.5 604.2 1084.2 604.2 1083.8C604.2 1083.5 604.3 1083.1 604.4 1082.9C604.5 1082.6 604.8 1082.3 605 1082.2C605.2 1082.1 605.5 1082.1 605.7 1082.2C605.9 1082.3 606.1 1082.6 606.3 1082.9C606.4 1083.1 606.5 1083.5 606.5 1083.8Z"/><path d="M974.2 1018C974.2 1018 972.9 1024.1 971.7 1026.3C970.4 1028.6 967.6 1029.2 966.7 1031.3C965.7 1033.4 966.5 1036.8 965.8 1038.8C965.1 1040.9 963.2 1042.3 962.5 1043.8C961.8 1045.4 961.4 1046.6 961.7 1048C961.9 1049.4 964.9 1051.1 964.2 1052.2C963.5 1053.3 958.6 1053.6 957.5 1054.7C956.4 1055.8 956.8 1057.9 957.5 1058.8C958.2 1059.8 960.1 1060.8 961.7 1060.5C963.2 1060.2 964.4 1057.7 966.7 1057.2C968.9 1056.6 972.8 1057 975 1057.2C977.2 1057.3 978.8 1057 980 1058C981.2 1059 982.4 1061.5 982.5 1063C982.6 1064.5 980.1 1066.6 980.8 1067.2C981.5 1067.8 984.9 1066.2 986.7 1066.7C988.5 1067.1 990.3 1068.6 991.7 1069.7C993.1 1070.7 993.1 1072 995 1073C996.9 1074 1000.8 1074.8 1003.3 1075.5C1005.8 1076.2 1008.1 1076.3 1010 1077.2C1011.9 1078 1013.1 1079.8 1015 1080.5C1016.9 1081.2 1019.7 1080.6 1021.7 1081.3C1023.6 1082 1025 1083.3 1026.7 1084.7C1028.3 1086.1 1030 1088 1031.7 1089.7C1033.3 1091.3 1035.4 1093 1036.7 1094.7C1037.9 1096.3 1039.3 1098.1 1039.2 1099.7C1039 1101.2 1036.5 1102.2 1035.8 1103.8C1035.1 1105.5 1035.3 1107.9 1035 1109.7C1034.7 1111.5 1033.3 1113.8 1034.2 1114.7C1035 1115.5 1038.2 1114.9 1040 1114.7C1041.8 1114.4 1043.6 1114.1 1045 1113C1046.4 1111.9 1046.8 1108 1048.3 1108C1049.9 1108 1053.1 1111.3 1054.2 1113C1055.3 1114.7 1056 1116.5 1055 1118C1054 1119.5 1048.6 1121.3 1048.3 1122.2C1048.1 1123 1051.4 1122 1053.3 1123C1055.3 1124 1057.9 1126.6 1060 1128C1062.1 1129.4 1063.9 1131.3 1065.8 1131.3C1067.8 1131.3 1069.9 1129 1071.7 1128C1073.5 1127 1074.7 1125.6 1076.7 1125.5C1078.6 1125.4 1081.2 1126.8 1083.3 1127.2C1085.4 1127.6 1087.5 1127.3 1089.2 1128C1090.8 1128.7 1092.1 1129.9 1093.3 1131.3C1094.6 1132.7 1095.6 1136.6 1096.7 1136.3C1097.8 1136.1 1100 1129.7 1100 1129.7L1100 1018L974.2 1018Z"/><path d="M952.5 1041.3C953.1 1040.4 956 1039 957.5 1038.8C959 1038.7 961.2 1039.5 961.7 1040.5C962.1 1041.5 961.2 1044 960 1044.7C958.8 1045.4 955.4 1045.2 954.2 1044.7C952.9 1044.1 951.9 1042.3 952.5 1041.3Z"/><path d="M959.2 1029.7C959.4 1029 962.1 1027.7 963.3 1027.7C964.5 1027.7 966.1 1028.8 966.3 1029.7C966.6 1030.5 965.8 1032.3 965 1032.7C964.2 1033 962.6 1032.2 961.7 1031.7C960.7 1031.2 958.9 1030.3 959.2 1029.7Z"/><path d="M1014.2 1094.7C1014.7 1093.6 1017.5 1092.4 1019.2 1092.2C1020.8 1091.9 1023.6 1092 1024.2 1093C1024.7 1094 1023.3 1096.6 1022.5 1098C1021.7 1099.4 1020.3 1101.5 1019.2 1101.7C1018.1 1101.8 1016.7 1100 1015.8 1098.8C1015 1097.7 1013.6 1095.8 1014.2 1094.7Z"/><path d="M923.3 1045.5C923.5 1044.4 925.1 1042.9 925.8 1043C926.6 1043.1 927.7 1045.1 928 1046.3C928.3 1047.6 928.1 1050 927.5 1050.5C926.9 1051 925.4 1050.2 924.7 1049.3C924 1048.5 923.1 1046.6 923.3 1045.5Z"/><path d="M931.5 1058.5C931.5 1058.7 931.3 1059 931.1 1059.2C930.8 1059.4 930.3 1059.5 929.9 1059.6C929.5 1059.7 928.9 1059.7 928.4 1059.6C928 1059.5 927.5 1059.4 927.3 1059.2C927 1059 926.8 1058.7 926.8 1058.5C926.8 1058.3 927 1058 927.3 1057.8C927.5 1057.6 928 1057.5 928.4 1057.4C928.9 1057.3 929.5 1057.3 929.9 1057.4C930.3 1057.5 930.8 1057.6 931.1 1057.8C931.3 1058 931.5 1058.3 931.5 1058.5Z"/><path d="M910.5 1054.7C910.5 1054.8 910.4 1055 910.2 1055.2C910.1 1055.3 909.8 1055.4 909.6 1055.5C909.3 1055.5 909 1055.5 908.8 1055.5C908.5 1055.4 908.2 1055.3 908.1 1055.2C907.9 1055 907.8 1054.8 907.8 1054.7C907.8 1054.5 907.9 1054.3 908.1 1054.2C908.2 1054 908.5 1053.9 908.8 1053.9C909 1053.8 909.3 1053.8 909.6 1053.9C909.8 1053.9 910.1 1054 910.2 1054.2C910.4 1054.3 910.5 1054.5 910.5 1054.7Z"/><path d="M948.3 1085C948.3 1085.3 948.2 1085.7 948.1 1086C948 1086.2 947.7 1086.5 947.5 1086.6C947.3 1086.7 947 1086.7 946.8 1086.6C946.6 1086.5 946.4 1086.2 946.2 1086C946.1 1085.7 946 1085.3 946 1085C946 1084.7 946.1 1084.3 946.2 1084C946.4 1083.8 946.6 1083.5 946.8 1083.4C947 1083.3 947.3 1083.3 947.5 1083.4C947.7 1083.5 948 1083.8 948.1 1084C948.2 1084.3 948.3 1084.7 948.3 1085Z"/><path d="M919.2 1086.3C919.7 1084.9 920.1 1083.4 921.7 1083C923.2 1082.6 926.1 1083 928.3 1083.8C930.6 1084.7 933.1 1086.5 935 1088C936.9 1089.5 939 1091.1 940 1093C941 1094.9 941.2 1097.4 940.8 1099.7C940.4 1101.9 938.2 1104.1 937.5 1106.3C936.8 1108.6 935.8 1111.5 936.7 1113C937.5 1114.5 941.2 1114.1 942.5 1115.5C943.8 1116.9 944.4 1119.7 944.2 1121.3C943.9 1123 942.1 1124.7 940.8 1125.5C939.6 1126.3 937.9 1126.8 936.7 1126.3C935.4 1125.9 933.9 1124.7 933.3 1123C932.8 1121.3 933.9 1118.3 933.3 1116.3C932.8 1114.4 931.1 1112.7 930 1111.3C928.9 1109.9 927.8 1109.4 926.7 1108C925.6 1106.6 924.4 1104.9 923.3 1103C922.2 1101.1 920.8 1098.3 920 1096.3C919.2 1094.4 918.8 1093 918.7 1091.3C918.5 1089.7 918.7 1087.7 919.2 1086.3Z"/><path d="M912.5 1093C913.2 1091.9 914.7 1091.1 915.8 1092.2C916.9 1093.3 918.1 1097.6 919.2 1099.7C920.3 1101.8 921.4 1103 922.5 1104.7C923.6 1106.3 924.9 1107.7 925.8 1109.7C926.8 1111.6 927.4 1114.1 928.3 1116.3C929.3 1118.6 931 1121.2 931.7 1123C932.4 1124.8 933.1 1126.6 932.5 1127.2C931.9 1127.7 929.6 1125.9 928.3 1126.3C927.1 1126.8 926 1128.8 925 1129.7C924 1130.5 923.6 1131.8 922.5 1131.3C921.4 1130.9 919.7 1129.1 918.3 1127.2C916.9 1125.2 915.4 1122.3 914.2 1119.7C912.9 1117 911.7 1113.8 910.8 1111.3C910 1108.8 909 1106.8 909.2 1104.7C909.3 1102.6 911.1 1100.8 911.7 1098.8C912.2 1096.9 911.8 1094.1 912.5 1093Z"/><path d="M955.8 1123C956.1 1121.9 958.5 1119.9 960 1120C961.5 1120.1 963.3 1122.4 965 1123.8C966.7 1125.3 968.2 1127.2 970 1128.8C971.8 1130.5 975.6 1132 975.8 1133.8C976.1 1135.6 973.1 1137.7 971.7 1139.7C970.3 1141.6 968.9 1143.6 967.5 1145.5C966.1 1147.4 965.1 1149.5 963.3 1151.3C961.5 1153.1 958.8 1155.4 956.7 1156.3C954.6 1157.3 952.8 1157.6 950.8 1157.2C948.9 1156.8 946.5 1155.1 945 1153.8C943.5 1152.6 942.5 1151.3 941.7 1149.7C940.8 1148 940.8 1145.2 940 1143.8C939.2 1142.4 938.3 1141.9 936.7 1141.3C935 1140.8 931 1141.2 930 1140.5C929 1139.8 929.4 1137.9 930.8 1137.2C932.2 1136.5 936 1136.8 938.3 1136.3C940.7 1135.9 942.8 1135.2 945 1134.7C947.2 1134.1 950 1132.4 951.7 1133C953.3 1133.6 953.8 1137.2 955 1138C956.2 1138.8 957.9 1138.6 959.2 1138C960.4 1137.4 962.1 1136.1 962.5 1134.7C962.9 1133.3 962.4 1131.1 961.7 1129.7C961 1128.3 959.3 1127.4 958.3 1126.3C957.4 1125.2 955.6 1124.1 955.8 1123Z"/><path d="M1090 1018L1180.8 1018L1175 1028.8L1178.3 1033.8L1185.8 1038.8L1185 1044.7L1184.2 1053L1185.8 1058.8L1190.8 1063.8L1200 1064.7L1204.2 1063L1204.2 1057.2L1210 1057.2L1210 1063L1215 1068.8L1223.3 1073.8L1231.7 1078.8L1240 1080.5L1246.7 1079.7L1251.7 1076L1257.5 1080.5L1261.7 1085.5L1265 1088L1260 1091.3L1257.5 1094.7L1257.5 1101.3L1260 1108.8L1270 1109.7L1274.2 1118L1270 1118.8L1265 1116.3L1260 1113.8L1253.3 1113.8L1249.2 1118L1248.3 1123L1245.8 1123L1245.8 1113.8L1243.3 1106.3L1240 1109.7L1237.5 1106.3L1233.3 1105.5L1228.3 1109.7L1228.3 1114.7L1223.3 1114.7L1219.2 1113.8L1219.2 1105.5L1214.2 1108L1210.8 1109.7L1214.2 1116.3L1214.7 1123.8L1211.7 1123L1210 1118L1205 1116.3L1200 1113L1196.7 1108L1197.5 1113L1201.7 1121.3L1205 1128L1208.3 1134.7L1204.2 1135.5L1199.2 1130.5L1194.2 1126.3L1188.3 1123.8L1185 1124.7L1184.2 1131.3L1180 1129.7L1176.7 1124.7L1172.5 1120.5L1168.3 1118.8L1169.2 1126.3L1169.2 1138L1173.3 1142.2L1168.3 1143.8L1164.2 1143L1161.7 1138L1156.7 1131.3L1152.5 1123L1147.5 1118.8L1144.2 1124.7L1141.7 1127.2L1138.3 1121.3L1134.2 1117.7L1130.8 1123L1125.8 1125.5L1123.3 1131.3L1124.2 1138L1125.8 1142.2L1123.3 1146.3L1120 1151.3L1115 1148L1110.8 1145.5L1108.3 1139.7L1113.3 1134.7L1115 1129.7L1111.7 1124.7L1108.3 1123L1106.7 1128L1103.3 1133L1099.2 1129.7L1090 1133Z"/><path d="M1145 1146.3C1145.6 1145.6 1148.5 1144.9 1150 1143.8C1151.5 1142.7 1152.8 1139.5 1154.2 1139.7C1155.6 1139.8 1157.4 1143 1158.3 1144.7C1159.2 1146.3 1160.5 1149.2 1159.7 1149.7C1158.8 1150.1 1155.5 1147.4 1153.3 1147.2C1151.2 1146.9 1148.1 1148.1 1146.7 1148C1145.3 1147.9 1144.4 1147 1145 1146.3Z"/><path d="M1267.5 1092.2C1268.3 1091.2 1272.4 1090.6 1274.2 1090.5C1276 1090.4 1277.7 1090.1 1278.3 1091.3C1279 1092.6 1278.7 1097.4 1278 1098C1277.3 1098.6 1275.6 1094.9 1274.2 1094.7C1272.7 1094.4 1270.3 1096.8 1269.2 1096.3C1268.1 1095.9 1266.7 1093.1 1267.5 1092.2Z"/><path d="M1274.7 1084.3C1274.9 1083.7 1276.9 1082.9 1277.5 1083.3C1278.1 1083.8 1277.4 1086.4 1278.3 1087.2C1279.3 1087.9 1283.1 1087.6 1283.3 1088C1283.6 1088.4 1281.2 1089.8 1280 1089.7C1278.8 1089.5 1276.7 1088.1 1275.8 1087.2C1274.9 1086.3 1274.4 1085 1274.7 1084.3Z"/><path d="M1325 1113.3C1325 1113.6 1324.7 1114 1324.1 1114.2C1323.6 1114.5 1322.7 1114.7 1321.9 1114.8C1321.1 1114.9 1319.9 1114.9 1319.1 1114.8C1318.3 1114.7 1317.4 1114.5 1316.9 1114.2C1316.3 1114 1316 1113.6 1316 1113.3C1316 1113 1316.3 1112.7 1316.9 1112.5C1317.4 1112.2 1318.3 1112 1319.1 1111.9C1319.9 1111.8 1321.1 1111.8 1321.9 1111.9C1322.7 1112 1323.6 1112.2 1324.1 1112.5C1324.7 1112.7 1325 1113 1325 1113.3Z"/><path d="M1232.8 1117.5C1232.8 1117.9 1232.7 1118.4 1232.5 1118.8C1232.3 1119.1 1231.9 1119.4 1231.6 1119.6C1231.2 1119.7 1230.8 1119.7 1230.4 1119.6C1230.1 1119.4 1229.7 1119.1 1229.5 1118.8C1229.3 1118.4 1229.2 1117.9 1229.2 1117.5C1229.2 1117.1 1229.3 1116.6 1229.5 1116.2C1229.7 1115.9 1230.1 1115.6 1230.4 1115.4C1230.8 1115.3 1231.2 1115.3 1231.6 1115.4C1231.9 1115.6 1232.3 1115.9 1232.5 1116.2C1232.7 1116.6 1232.8 1117.1 1232.8 1117.5Z"/></g>
<g fill="#feba2c"><path d="M220 283L523.3 283C523.3 283 523.9 295.4 525 299.7C526.1 304 530 308.8 530 308.8L530 317.7C530 317.7 526.1 320.3 524.2 320C522.2 319.7 521 316.8 518.3 316C515.7 315.2 510.8 316 508.3 315.5C505.8 315 505.6 314 503.3 313C501.1 312 498.3 309.6 495 309.3C491.7 309.1 486.1 311.3 483.3 311.3C480.6 311.4 478.9 309 478.3 309.7C477.8 310.4 481.2 314.1 480 315.5C478.8 316.9 472.5 316.6 470.8 318C469.2 319.4 472.1 322.3 470 323.8C467.9 325.4 461.9 325.1 458.3 327.2C454.7 329.2 451.9 334 448.3 336.3C444.7 338.7 439.3 339.7 436.7 341.3C434 343 433.2 343.6 432.5 346.3C431.8 349.1 433.8 355.2 432.5 358C431.2 360.8 427.9 361.6 425 363C422.1 364.4 418.1 365.9 415 366.3C411.9 366.8 408.9 364.9 406.7 365.5C404.4 366.1 404.2 368.7 401.7 369.7C399.2 370.6 394.4 371.1 391.7 371.3C388.9 371.6 388.1 370.9 385 371.3C381.9 371.8 376.4 372.4 373.3 373.8C370.3 375.2 368.3 377.9 366.7 379.7C365 381.5 363.9 383.3 363.3 384.7C362.8 386.1 365.3 386.9 363.3 388C361.4 389.1 355.3 390.2 351.7 391.3C348.1 392.4 345 393.7 341.7 394.7C338.3 395.6 334.2 395.8 331.7 397.2C329.2 398.6 328.9 401.5 326.7 403C324.4 404.5 320.7 405.8 318.3 406.3C316 406.9 314.2 405.4 312.5 406.3C310.8 407.3 309.9 410.5 308.3 412.2C306.8 413.8 305 414.3 303.3 416.3C301.7 418.4 300.1 422.2 298.3 424.7C296.5 427.2 295 429.9 292.5 431.3C290 432.7 286.2 432.6 283.3 433C280.4 433.4 276.5 435.2 275 433.8C273.5 432.4 275.6 428.1 274.2 424.7C272.8 421.2 268.9 416.3 266.7 413C264.4 409.7 261.8 406.6 260.8 404.7C259.9 402.7 262.6 403 260.8 401.3C259 399.7 252.2 396.9 250 394.7C247.8 392.4 248.9 389.7 247.5 388C246.1 386.3 243.8 385.2 241.7 384.7C239.6 384.1 238.6 384.4 235 384.7C231.4 384.9 220 386.3 220 386.3L220 283Z"/><path d="M220 458.8C220 458.8 233.6 459.8 237.5 458.8C241.4 457.9 241.2 455.1 243.3 453C245.4 450.9 247.8 447 250 446.3C252.2 445.6 254.4 446.9 256.7 448.8C258.9 450.8 260.8 456.5 263.3 458C265.8 459.5 269.2 458.8 271.7 458C274.2 457.2 276.1 454.7 278.3 453C280.6 451.3 282.2 450.4 285 448C287.8 445.6 291.7 441.1 295 438.8C298.3 436.6 301.7 436.7 305 434.7C308.3 432.6 311.1 428.7 315 426.3C318.9 424 323.9 422 328.3 420.5C332.8 419 337.2 418.1 341.7 417.2C346.1 416.2 350.6 415.9 355 414.7C359.4 413.4 363.3 410.9 368.3 409.7C373.3 408.4 380 408.7 385 407.2C390 405.6 393.9 402.3 398.3 400.5C402.8 398.7 407.2 397.6 411.7 396.3C416.1 395.1 419.4 394.1 425 393C430.6 391.9 439.4 390.8 445 389.7C450.6 388.6 453.9 387.9 458.3 386.3C462.8 384.8 467.2 382.7 471.7 380.5C476.1 378.3 480.6 375.5 485 373C489.4 370.5 494.4 368 498.3 365.5C502.2 363 505 360.4 508.3 358C511.7 355.6 514.7 353.8 518.3 351.3C521.9 348.8 530 343 530 343L530 444.7C530 444.7 526.9 443 525 441.3C523.1 439.7 520.3 436.6 518.3 434.7C516.4 432.7 515.3 431.9 513.3 429.7C511.4 427.4 508.3 423.8 506.7 421.3C505 418.8 504.7 416.2 503.3 414.7C501.9 413.1 500.3 412.2 498.3 412.2C496.4 412.2 493.5 412.9 491.7 414.7C489.9 416.5 489.7 420.8 487.5 423C485.3 425.2 481.8 426.3 478.3 428C474.9 429.7 470 431.1 466.7 433C463.3 434.9 461.4 437.4 458.3 439.7C455.3 441.9 450.6 444.1 448.3 446.3C446.1 448.6 446.1 451.3 445 453C443.9 454.7 442.5 454.4 441.7 456.3C440.8 458.3 440.8 462.4 440 464.7C439.2 466.9 437.1 467.4 436.7 469.7C436.2 471.9 437.6 475.8 437.5 478C437.4 480.2 435.8 481.1 435.8 483C435.8 484.9 438.5 488.6 437.5 489.7C436.5 490.8 432.1 488.3 430 489.7C427.9 491.1 426.9 496.3 425 498C423.1 499.7 420.8 500.1 418.3 499.7C415.8 499.2 413.1 496.2 410 495.5C406.9 494.8 403.1 495.4 400 495.5C396.9 495.6 394.2 497.3 391.7 496.3C389.2 495.4 386.8 491.1 385 489.7C383.2 488.3 382.2 487.2 380.8 488C379.4 488.8 378.5 493.4 376.7 494.7C374.9 495.9 372.5 495.5 370 495.5C367.5 495.5 363.9 495.2 361.7 494.7C359.4 494.1 358.6 493.1 356.7 492.2C354.7 491.2 351.9 489.1 350 488.8C348.1 488.6 346 489.4 345 490.5C344 491.6 346.4 494.7 344.2 495.5C341.9 496.3 334.6 494.7 331.7 495.5C328.8 496.3 328.6 498.8 326.7 500.5C324.7 502.2 323.3 504.5 320 505.5C316.7 506.5 310.3 505.9 306.7 506.3C303.1 506.8 300.8 506.9 298.3 508C295.8 509.1 294.7 511.6 291.7 513C288.6 514.4 284.4 515.4 280 516.3C275.6 517.3 268.6 518 265 518.8C261.4 519.7 260.6 519.8 258.3 521.3C256.1 522.9 253.9 525.9 251.7 528C249.4 530.1 246.9 533.4 245 533.8C243.1 534.2 241.9 531.2 240 530.5C238.1 529.8 236.7 530.4 233.3 529.7C230 529 220 526.3 220 526.3L220 458.8Z"/><path d="M530 341C530 341 524.2 342 521.7 343C519.2 344 516.8 345.6 515 347.2C513.2 348.7 510.7 350.7 510.8 352.2C511 353.6 513.7 355 515.8 356C517.9 357 521 356.8 523.3 358C525.7 359.2 530 363 530 363L530 341Z"/><path d="M523.3 303.8C523.3 303.8 527.7 308 530 308.8C532.3 309.7 536.6 307.9 537 308.8C537.4 309.8 534.5 312.9 532.5 314.7C530.5 316.5 525 319.7 525 319.7L523.3 319.7L523.3 303.8Z"/><path d="M523.3 340.5C523.3 340.5 531.9 339.6 535 340C538.1 340.4 539.4 341.7 541.7 343C543.9 344.3 545.8 346.1 548.3 348C550.8 349.9 554 352.6 556.7 354.7C559.3 356.8 561.8 359.7 564.2 360.5C566.5 361.3 569 359.4 570.8 359.7C572.6 359.9 573.8 363 575 362.2C576.2 361.3 577.4 355.4 578.3 354.7C579.3 354 580.4 356.1 580.8 358C581.2 359.9 581.4 363.8 580.8 366.3C580.3 368.8 578 370.5 577.5 373C577 375.5 578.4 378.8 578 381.3C577.6 383.8 575.5 385.8 575 388C574.5 390.2 575.8 393 575 394.7C574.2 396.3 571.8 397.6 570 398C568.2 398.4 566.1 397.7 564.2 397.2C562.2 396.6 560.7 395.2 558.3 394.7C556 394.1 552.5 393.8 550 393.8C547.5 393.8 545.1 393.8 543.3 394.7C541.5 395.5 539.4 396.6 539.2 398.8C538.9 401.1 540.1 404.8 541.7 408C543.2 411.2 546.2 414.4 548.3 418C550.4 421.6 553.1 426.1 554.2 429.7C555.3 433.3 554.3 436.1 555 439.7C555.7 443.3 556.7 447.7 558.3 451.3C560 454.9 563.8 458.8 565 461.3C566.2 463.8 566.7 464.8 565.8 466.3C565 467.9 561.8 470.1 560 470.5C558.2 470.9 556.1 469.8 555 468.8C553.9 467.9 555 466.5 553.3 464.7C551.7 462.9 548.1 459.9 545 458C541.9 456.1 537.5 454.4 535 453C532.5 451.6 531.9 450.8 530 449.7C528.1 448.6 523.3 446.3 523.3 446.3L523.3 340.5Z"/><path d="M578.3 350C578.3 350.5 578 351.1 577.5 351.5C577.1 351.9 576.2 352.2 575.5 352.4C574.7 352.5 573.7 352.5 572.9 352.4C572.1 352.2 571.3 351.9 570.8 351.5C570.3 351.1 570 350.5 570 350C570 349.5 570.3 348.9 570.8 348.5C571.3 348.1 572.1 347.8 572.9 347.6C573.7 347.5 574.7 347.5 575.5 347.6C576.2 347.8 577.1 348.1 577.5 348.5C578 348.9 578.3 349.5 578.3 350Z"/><path d="M543.2 326C543.2 326.3 543.1 326.6 542.9 326.9C542.7 327.1 542.4 327.3 542.1 327.4C541.9 327.5 541.5 327.5 541.2 327.4C540.9 327.3 540.6 327.1 540.5 326.9C540.3 326.6 540.2 326.3 540.2 326C540.2 325.7 540.3 325.4 540.5 325.1C540.6 324.9 540.9 324.7 541.2 324.6C541.5 324.5 541.9 324.5 542.1 324.6C542.4 324.7 542.7 324.9 542.9 325.1C543.1 325.4 543.2 325.7 543.2 326Z"/><path d="M577 333.3C577 333.6 576.9 334 576.7 334.2C576.5 334.5 576.2 334.7 576 334.8C575.7 334.9 575.3 334.9 575 334.8C574.8 334.7 574.5 334.5 574.3 334.2C574.1 334 574 333.6 574 333.3C574 333 574.1 332.7 574.3 332.5C574.5 332.2 574.8 332 575 331.9C575.3 331.8 575.7 331.8 576 331.9C576.2 332 576.5 332.2 576.7 332.5C576.9 332.7 577 333 577 333.3Z"/><path d="M240 551.3C241.1 549.6 244.4 548.3 246.7 547.7C248.9 547.1 251.9 547.2 253.3 547.7C254.7 548.1 255.4 549.1 255 550.5C254.6 551.9 250.8 554.4 250.8 556.3C250.8 558.3 253.6 560.4 255 562.2C256.4 564 258.9 565.9 259.2 567.2C259.4 568.4 258.2 569.5 256.7 569.7C255.1 569.8 252.1 568.8 250 568C247.9 567.2 245.8 566.3 244.2 564.7C242.5 563 240.7 560.2 240 558C239.3 555.8 238.9 553.1 240 551.3Z"/><path d="M664.2 646.3C664.7 645.1 665.6 643 666.7 642.2C667.8 641.3 669.9 640.6 670.8 641.3C671.8 642 672.6 644.5 672.5 646.3C672.4 648.1 671 650.5 670 652.2C669 653.8 667.2 654.2 666.7 656.3C666.1 658.4 666.8 662.2 666.7 664.7C666.5 667.2 666.8 669.9 665.8 671.3C664.9 672.7 662.5 673 660.8 673C659.2 673 656.8 672.3 655.8 671.3C654.9 670.4 654.6 668.8 655 667.2C655.4 665.5 657.1 663.4 658.3 661.3C659.6 659.2 661.6 656.6 662.5 654.7C663.4 652.7 663.4 651.1 663.7 649.7C663.9 648.3 663.7 647.6 664.2 646.3Z"/><path d="M1100 648C1100 648 1096.4 647.6 1095 648C1093.6 648.4 1094.4 650.2 1091.7 650.5C1088.9 650.8 1081.9 650.4 1078.3 649.7C1074.7 649 1072.5 647.3 1070 646.3C1067.5 645.4 1065.8 643.7 1063.3 643.8C1060.8 644 1058.1 645.9 1055 647.2C1051.9 648.4 1048.3 649.9 1045 651.3C1041.7 652.7 1037.8 654.2 1035 655.5C1032.2 656.8 1030.4 657.7 1028.3 658.8C1026.2 659.9 1023.6 660.9 1022.5 662.2C1021.4 663.4 1022.9 664.7 1021.7 666.3C1020.4 668 1017.8 671.2 1015 672.2C1012.2 673.1 1008.3 671.9 1005 672.2C1001.7 672.4 997.5 672.9 995 673.8C992.5 674.8 991.1 676.8 990 678C988.9 679.2 989.4 681.1 988.3 681.3C987.2 681.6 984.6 680.8 983.3 679.7C982.1 678.6 982.2 675.5 980.8 674.7C979.4 673.8 976.5 674 975 674.7C973.5 675.4 971.9 677.2 971.7 678.8C971.4 680.5 973.3 682.4 973.3 684.7C973.3 686.9 973.1 690.5 971.7 692.2C970.3 693.8 967.8 693.7 965 694.7C962.2 695.6 956.9 696.3 955 698C953.1 699.7 954.4 702.4 953.3 704.7C952.2 706.9 950.3 709.5 948.3 711.3C946.4 713.1 943.9 714.5 941.7 715.5C939.4 716.5 936.9 715.9 935 717.2C933.1 718.4 931.4 720.8 930 723C928.6 725.2 928.2 728.8 926.7 730.5C925.1 732.2 921.8 731.5 920.8 733C919.9 734.5 920.1 737.4 920.8 739.7C921.5 741.9 923.3 744.4 925 746.3C926.7 748.3 930 749.4 930.8 751.3C931.7 753.3 929.3 755.8 930 758C930.7 760.2 933.5 762.4 935 764.7C936.5 766.9 938.1 769.1 939.2 771.3C940.3 773.6 941.2 776.1 941.7 778C942.1 779.9 941.7 783 941.7 783L963.3 783C963.3 783 966.4 778.7 968.3 776.3C970.3 774 972.8 771.6 975 768.8C977.2 766.1 978.9 763 981.7 759.7C984.4 756.3 988.6 752.2 991.7 748.8C994.7 745.5 997.2 742.7 1000 739.7C1002.8 736.6 1005.8 733.6 1008.3 730.5C1010.8 727.4 1012.5 724.4 1015 721.3C1017.5 718.3 1020.8 715.2 1023.3 712.2C1025.8 709.1 1028.1 706.2 1030 703C1031.9 699.8 1033.3 695.8 1035 693C1036.7 690.2 1037.5 688.1 1040 686.3C1042.5 684.5 1046.9 683.8 1050 682.2C1053.1 680.5 1055.6 678.4 1058.3 676.3C1061.1 674.2 1063.3 671.9 1066.7 669.7C1070 667.4 1074.7 665.2 1078.3 663C1081.9 660.8 1085.8 658.1 1088.3 656.3C1090.8 654.5 1091.4 653.1 1093.3 652.2C1095.3 651.2 1100 650.5 1100 650.5L1100 648Z"/><path d="M1100 649.3C1100 649.6 1099.7 649.8 1099.4 650C1099 650.2 1098.3 650.4 1097.7 650.4C1097.1 650.5 1096.3 650.5 1095.6 650.4C1095 650.4 1094.4 650.2 1094 650C1093.6 649.8 1093.3 649.6 1093.3 649.3C1093.3 649.1 1093.6 648.8 1094 648.6C1094.4 648.5 1095 648.3 1095.6 648.2C1096.3 648.2 1097.1 648.2 1097.7 648.2C1098.3 648.3 1099 648.5 1099.4 648.6C1099.7 648.8 1100 649.1 1100 649.3Z"/><path d="M942.5 773L965 773C965 773 961.7 780.2 960 783C958.3 785.8 956.5 787.6 955 789.7C953.5 791.8 952.4 794 950.8 795.5C949.3 797 947.5 798.6 945.8 798.8C944.2 799.1 941.9 798.7 940.8 797.2C939.7 795.6 939.2 792.3 939.2 789.7C939.2 787 940.3 784.1 940.8 781.3C941.4 778.6 942.5 773 942.5 773Z"/></g>
<g fill="#f89540"><path d="M297 413C297 413.7 296.7 414.6 296.3 415.2C295.9 415.7 295.1 416.3 294.5 416.5C293.8 416.7 292.9 416.7 292.2 416.5C291.5 416.3 290.8 415.7 290.4 415.2C289.9 414.6 289.7 413.7 289.7 413C289.7 412.3 289.9 411.4 290.4 410.8C290.8 410.3 291.5 409.7 292.2 409.5C292.9 409.3 293.8 409.3 294.5 409.5C295.1 409.7 295.9 410.3 296.3 410.8C296.7 411.4 297 412.3 297 413Z"/><path d="M421.7 458C421.7 458.8 421.5 459.7 421.2 460.4C420.9 461 420.4 461.6 419.9 461.8C419.5 462 418.9 462 418.4 461.8C417.9 461.6 417.4 461 417.1 460.4C416.9 459.7 416.7 458.8 416.7 458C416.7 457.2 416.9 456.3 417.1 455.6C417.4 455 417.9 454.4 418.4 454.2C418.9 454 419.5 454 419.9 454.2C420.4 454.4 420.9 455 421.2 455.6C421.5 456.3 421.7 457.2 421.7 458Z"/><path d="M247.3 483.8C247.3 484.7 247 485.8 246.6 486.6C246.1 487.3 245.3 488 244.6 488.3C243.8 488.6 242.8 488.6 242.1 488.3C241.4 488 240.6 487.3 240.1 486.6C239.6 485.8 239.3 484.7 239.3 483.8C239.3 482.9 239.6 481.8 240.1 481.1C240.6 480.4 241.4 479.7 242.1 479.4C242.8 479.1 243.8 479.1 244.6 479.4C245.3 479.7 246.1 480.4 246.6 481.1C247 481.8 247.3 482.9 247.3 483.8Z"/><path d="M264.2 443.3C264.2 443.7 264 444 263.8 444.3C263.7 444.6 263.3 444.8 263 444.9C262.7 445 262.3 445 262 444.9C261.7 444.8 261.3 444.6 261.2 444.3C261 444 260.8 443.7 260.8 443.3C260.8 443 261 442.6 261.2 442.4C261.3 442.1 261.7 441.8 262 441.7C262.3 441.6 262.7 441.6 263 441.7C263.3 441.8 263.7 442.1 263.8 442.4C264 442.6 264.2 443 264.2 443.3Z"/><path d="M285.2 438.3C285.2 438.6 285.1 439 284.9 439.2C284.7 439.5 284.4 439.7 284.1 439.8C283.9 439.9 283.5 439.9 283.2 439.8C282.9 439.7 282.6 439.5 282.5 439.2C282.3 439 282.2 438.6 282.2 438.3C282.2 438 282.3 437.7 282.5 437.5C282.6 437.2 282.9 437 283.2 436.9C283.5 436.8 283.9 436.8 284.1 436.9C284.4 437 284.7 437.2 284.9 437.5C285.1 437.7 285.2 438 285.2 438.3Z"/><path d="M535.8 434.7C535.8 435.3 535.6 436.1 535.2 436.6C534.8 437.2 534.2 437.6 533.5 437.8C532.9 438 532.1 438 531.5 437.8C530.8 437.6 530.2 437.2 529.8 436.6C529.4 436.1 529.2 435.3 529.2 434.7C529.2 434 529.4 433.2 529.8 432.7C530.2 432.2 530.8 431.7 531.5 431.5C532.1 431.3 532.9 431.3 533.5 431.5C534.2 431.7 534.8 432.2 535.2 432.7C535.6 433.2 535.8 434 535.8 434.7Z"/></g>
<g fill="#ea7457"><path d="M372.5 383C372.9 381.5 374.9 381.1 376.7 382.2C378.5 383.3 381.1 387.7 383.3 389.7C385.6 391.6 387.5 394.1 390 393.8C392.5 393.6 396.3 390.6 398.3 388C400.4 385.4 401 380.8 402.5 378C404 375.2 405.7 372.3 407.5 371.3C409.3 370.4 411.5 370.9 413.3 372.2C415.1 373.4 416.4 378.4 418.3 378.8C420.3 379.2 422.8 376.5 425 374.7C427.2 372.9 428.9 369.8 431.7 368C434.4 366.2 437.8 365.2 441.7 363.8C445.6 362.4 450.8 361.2 455 359.7C459.2 358.1 463.3 356.2 466.7 354.7C470 353.1 473.1 352.3 475 350.5C476.9 348.7 476.7 344.5 478.3 343.8C480 343.1 482.8 346.2 485 346.3C487.2 346.5 489.9 344.5 491.7 344.7C493.5 344.8 495.8 345.8 495.8 347.2C495.8 348.6 492.6 350.9 491.7 353C490.7 355.1 491.7 357.2 490 359.7C488.3 362.2 484.7 365.5 481.7 368C478.6 370.5 475.6 372.4 471.7 374.7C467.8 376.9 462.8 379.4 458.3 381.3C453.9 383.3 450 385.2 445 386.3C440 387.4 433.3 387.6 428.3 388C423.3 388.4 418.6 388 415 388.8C411.4 389.7 409.4 391.6 406.7 393C403.9 394.4 401.1 395.8 398.3 397.2C395.6 398.6 393.1 400.4 390 401.3C386.9 402.3 382.6 403.3 380 403C377.4 402.7 375.1 401.6 374.2 399.7C373.2 397.7 374.4 394.1 374.2 391.3C373.9 388.6 372.1 384.5 372.5 383Z"/><path d="M530 493C530 493 526.1 494.8 523.3 494.7C520.6 494.5 516.1 492.3 513.3 492.2C510.6 492 508.1 492.6 506.7 493.8C505.3 495.1 506.4 498.1 505 499.7C503.6 501.2 501.7 502.3 498.3 503C495 503.7 487.8 503.3 485 503.8C482.2 504.4 483.1 505.9 481.7 506.3C480.3 506.8 477.8 507 476.7 506.3C475.6 505.6 476.4 503 475 502.2C473.6 501.3 470 500.9 468.3 501.3C466.7 501.8 465.7 502.7 465 504.7C464.3 506.6 465.3 510.5 464.2 513C463.1 515.5 460.1 517.4 458.3 519.7C456.5 521.9 455 524.4 453.3 526.3C451.7 528.3 450 530.2 448.3 531.3C446.7 532.4 444.2 531.9 443.3 533C442.5 534.1 443.3 538 443.3 538L530 538L530 493Z"/><path d="M573 434C573.4 434.7 573.5 435.9 573.2 436.8C572.9 437.8 572.1 438.9 571.3 439.8C570.4 440.6 569 441.4 567.9 441.7C566.7 442.1 565.3 442.2 564.3 441.9C563.4 441.7 562.4 441.1 562 440.3C561.6 439.6 561.5 438.5 561.8 437.5C562.1 436.6 562.9 435.4 563.7 434.6C564.6 433.8 566 433 567.1 432.6C568.3 432.3 569.7 432.2 570.7 432.4C571.6 432.6 572.6 433.3 573 434Z"/><path d="M584.2 394.7C584.4 392.6 586.5 392.2 588.3 392.2C590.1 392.2 592.8 393.1 595 394.7C597.2 396.2 600 399.7 601.7 401.3C603.3 403 605 403.3 605 404.7C605 406.1 603.1 408.3 601.7 409.7C600.3 411.1 598.5 412.7 596.7 413C594.9 413.3 592.5 412.7 590.8 411.3C589.2 409.9 587.8 407.4 586.7 404.7C585.6 401.9 583.9 396.8 584.2 394.7Z"/><path d="M536.7 489.7C537.9 488.4 540 486.2 541.7 485.5C543.3 484.8 545.3 484.2 546.7 485.5C548.1 486.8 549 490.6 550 493C551 495.4 551.1 498.3 552.5 499.7C553.9 501.1 557.9 500.2 558.3 501.3C558.8 502.4 556.9 505.4 555 506.3C553.1 507.3 549.4 506.9 546.7 507.2C543.9 507.4 540.8 508.3 538.3 508C535.8 507.7 534.4 505.9 531.7 505.5C528.9 505.1 521.7 505.5 521.7 505.5L521.7 494.7C521.7 494.7 527.9 494.6 530 494.3C532.1 494.1 533.1 494.1 534.2 493.3C535.3 492.6 535.4 491 536.7 489.7Z"/><path d="M598.3 508C599.7 506.8 602.8 504.7 605 503.8C607.2 503 610 502.6 611.7 503C613.3 503.4 615.6 504.9 615 506.3C614.4 507.7 610.3 509.4 608.3 511.3C606.4 513.3 604.9 517.2 603.3 518C601.8 518.8 600.3 517.4 599.2 516.3C598.1 515.2 596.8 512.7 596.7 511.3C596.5 509.9 596.9 509.2 598.3 508Z"/><path d="M523.3 515.5C523.3 515.5 529.2 516.5 531.7 518C534.2 519.5 536.8 522.2 538.3 524.7C539.9 527.2 541.4 530.8 540.8 533C540.3 535.2 535 538 535 538L523.3 538L523.3 515.5Z"/><path d="M554.2 523C555.1 522.4 557.8 524.4 558.3 526.3C558.9 528.3 558.2 532.7 557.5 534.7C556.8 536.6 554.2 538 554.2 538C554.2 538 552.5 532.2 552.5 529.7C552.5 527.2 553.2 523.6 554.2 523Z"/><path d="M973.3 383C973.8 380.8 976.4 379.7 978.3 378C980.3 376.3 982.8 374.7 985 373C987.2 371.3 989.6 368.6 991.7 368C993.8 367.4 995.7 368.6 997.5 369.7C999.3 370.8 1001.9 373 1002.5 374.7C1003.1 376.3 1001.5 378 1000.8 379.7C1000.1 381.3 999 382.4 998.3 384.7C997.6 386.9 997.6 391.1 996.7 393C995.7 394.9 993.5 394.4 992.5 396.3C991.5 398.3 991.5 402.3 990.8 404.7C990.1 407 989.6 409.2 988.3 410.5C987.1 411.8 984.7 412.6 983.3 412.2C981.9 411.8 980.8 410.1 980 408C979.2 405.9 979 402.4 978.3 399.7C977.6 396.9 976.7 394.1 975.8 391.3C975 388.6 972.9 385.2 973.3 383Z"/><path d="M969.8 406.8C969.8 407.6 969.5 408.6 969.1 409.2C968.6 409.8 967.8 410.4 967.1 410.6C966.3 410.9 965.3 410.9 964.6 410.6C963.9 410.4 963.1 409.8 962.6 409.2C962.1 408.6 961.8 407.6 961.8 406.8C961.8 406 962.1 405.1 962.6 404.5C963.1 403.8 963.9 403.3 964.6 403C965.3 402.8 966.3 402.8 967.1 403C967.8 403.3 968.6 403.8 969.1 404.5C969.5 405.1 969.8 406 969.8 406.8Z"/><path d="M1360 342.2C1359.2 340.9 1356.2 343.1 1355 344.7C1353.8 346.2 1352.9 349.1 1352.5 351.3C1352.1 353.6 1352.9 355.8 1352.5 358C1352.1 360.2 1349.9 363.4 1350 364.7C1350.1 365.9 1352.2 366.3 1353.3 365.5C1354.4 364.7 1355.6 361.9 1356.7 359.7C1357.8 357.4 1359.4 355.1 1360 352.2C1360.6 349.2 1360.8 343.4 1360 342.2Z"/><path d="M1319.2 423C1318.6 423.8 1317.1 427.4 1316.7 429.7C1316.2 431.9 1317 434.5 1316.7 436.3C1316.3 438.1 1314.4 440.2 1314.7 440.5C1314.9 440.8 1317.3 439.5 1318.3 438C1319.4 436.5 1320.5 433.6 1320.8 431.3C1321.2 429.1 1320.6 426.1 1320.3 424.7C1320.1 423.3 1319.8 422.2 1319.2 423Z"/><path d="M1245 326.3C1245 325.5 1246.9 324.1 1248.3 323.8C1249.7 323.6 1251.4 324 1253.3 324.7C1255.3 325.4 1257.5 327.3 1260 328C1262.5 328.7 1266.9 328.3 1268.3 328.8C1269.7 329.3 1269.6 330.7 1268.3 331C1267.1 331.3 1263.3 330.7 1260.8 330.5C1258.3 330.3 1255.4 329.9 1253.3 329.7C1251.2 329.4 1249.7 329.4 1248.3 328.8C1246.9 328.3 1245 327.2 1245 326.3Z"/><path d="M1295 336.3C1295.1 335.6 1295.8 334.8 1297.5 334.3C1299.2 333.9 1304.2 333.3 1305 333.8C1305.8 334.4 1303.9 336.8 1302.5 337.7C1301.1 338.5 1297.9 339.1 1296.7 338.8C1295.4 338.6 1294.9 337.1 1295 336.3Z"/><path d="M1277.5 481.3C1278.3 481.2 1278.6 484.1 1278.3 485.5C1278.1 486.9 1276.7 488.8 1275.8 489.7C1274.9 490.5 1273.4 491.1 1273 490.5C1272.6 489.9 1272.9 487.9 1273.7 486.3C1274.4 484.8 1276.7 481.5 1277.5 481.3Z"/><path d="M340 539.7C340.8 539.1 344.4 540.8 346.7 542.2C348.9 543.6 351.4 545.9 353.3 548C355.3 550.1 358.1 553.3 358.3 554.7C358.6 556.1 356.7 556.9 355 556.3C353.3 555.8 350.6 553.1 348.3 551.3C346.1 549.5 343.1 547.4 341.7 545.5C340.3 543.6 339.2 540.2 340 539.7Z"/><path d="M614.2 538C614.6 536.7 616 534.8 617.5 534.3C619 533.9 622.2 534.3 623.3 535.5C624.4 536.7 624.3 539 624.2 541.3C624 543.7 623.5 549 622.5 549.7C621.5 550.4 619.6 546.8 618.3 545.5C617.1 544.2 615.7 543.4 615 542.2C614.3 540.9 613.8 539.3 614.2 538Z"/><path d="M638.3 528L650.8 528C650.8 528 651.4 538 651.7 543C651.9 548 652.2 553 652.5 558C652.8 563 653.9 568.8 653.3 573C652.8 577.2 650.8 580.5 649.2 583C647.5 585.5 645.1 587.7 643.3 588C641.5 588.3 639.6 586.6 638.3 584.7C637.1 582.7 636.7 579.4 635.8 576.3C635 573.3 633.6 570.2 633.3 566.3C633.1 562.4 633.6 556.9 634.2 553C634.7 549.1 636 547.2 636.7 543C637.4 538.8 638.3 528 638.3 528Z"/><path d="M673.3 565.5C674.6 564.1 677.2 562.9 680 562.2C682.8 561.4 689 560.2 690 561C691 561.8 687.8 565.3 685.8 567.2C683.9 569 680 570.6 678.3 572.2C676.7 573.7 676.1 574.6 675.8 576.3C675.6 578.1 677.4 581.6 677 582.7C676.6 583.7 673.8 583.9 673.3 582.7C672.9 581.5 674.3 577.5 674.2 575.5C674 573.5 672.6 572.2 672.5 570.5C672.4 568.8 672.1 566.9 673.3 565.5Z"/><path d="M661.7 607.2C662.4 606.3 666.7 608 668.3 608.8C670 609.7 670.3 611.8 671.7 612.2C673.1 612.6 676 609.5 676.7 611.3C677.4 613.1 676.7 620.1 675.8 623C675 625.9 673.1 628 671.7 628.8C670.3 629.7 668.6 627.3 667.5 628C666.4 628.7 666 631.2 665 633C664 634.8 662.8 637.5 661.7 638.8C660.6 640.2 658.9 641.8 658.3 641C657.8 640.2 657.6 636 658.3 633.8C659 631.7 661.1 630.4 662.5 628C663.9 625.6 666.4 622 666.7 619.7C666.9 617.3 665 615.9 664.2 613.8C663.3 611.8 661 608 661.7 607.2Z"/><path d="M685.8 608C687.1 606.1 689.6 605.6 691.7 604.7C693.8 603.8 696.7 602.4 698.3 602.7C700 602.9 701 604.6 701.7 606.3C702.4 608.1 703.1 610.8 702.5 613C701.9 615.2 699.6 617.6 698.3 619.7C697.1 621.8 696.5 624.3 695 625.5C693.5 626.7 690.8 626.9 689.2 626.7C687.5 626.4 685.8 625.6 685 623.8C684.2 622.1 684 619 684.2 616.3C684.3 613.7 684.6 609.9 685.8 608Z"/><path d="M622.5 645.5C622.8 644.4 625.3 645.1 626.7 646.3C628.1 647.6 630 650.8 630.8 653C631.7 655.2 632.1 657.4 631.7 659.7C631.2 661.9 629.2 664.4 628.3 666.3C627.5 668.3 627.4 670.6 626.7 671.3C626 672 624.4 672.2 624.2 670.5C623.9 668.8 624.9 664.2 625 661.3C625.1 658.4 625.4 655.6 625 653C624.6 650.4 622.2 646.6 622.5 645.5Z"/><path d="M741.7 623.8C743.3 621.8 745.6 620.1 748.3 618.8C751.1 617.6 755.3 616.8 758.3 616.3C761.4 615.9 764.6 615.4 766.7 616C768.8 616.6 770.4 617.4 770.8 619.7C771.2 621.9 769.4 626.1 769.2 629.7C768.9 633.3 769.3 638 769.2 641.3C769 644.7 767.9 647.4 768.3 649.7C768.8 651.9 770.4 653.1 771.7 654.7C772.9 656.2 775.3 657.4 775.8 658.8C776.4 660.2 776.5 662.2 775 663C773.5 663.8 769.4 663.3 766.7 663.8C763.9 664.4 761.1 664.8 758.3 666.3C755.6 667.9 753.3 671.8 750 673C746.7 674.2 742.2 673.7 738.3 673.8C734.4 674 728.9 675.4 726.7 673.8C724.4 672.3 725 668.1 725 664.7C725 661.2 726.2 656.3 726.7 653C727.1 649.7 726.4 647.2 727.5 644.7C728.6 642.2 731.5 640.2 733.3 638C735.1 635.8 736.9 633.7 738.3 631.3C739.7 629 740 625.9 741.7 623.8Z"/><path d="M900 528L924.2 528C924.2 528 924.3 535.3 923.3 537.2C922.4 539.1 920 539.6 918.3 539.3C916.7 539.1 915.6 536.3 913.3 535.5C911.1 534.7 907.2 535.9 905 534.7C902.8 533.4 900 528 900 528Z"/><path d="M841.1 604.6C841.4 605.1 841.6 605.7 841.6 606.2C841.7 606.7 841.5 607.2 841.3 607.6C841.1 607.9 840.7 608.1 840.4 608.1C840 608.1 839.5 608 839 607.7C838.6 607.4 838.2 606.9 837.9 606.4C837.6 605.9 837.4 605.3 837.4 604.8C837.3 604.3 837.5 603.8 837.7 603.4C837.9 603.1 838.3 602.9 838.6 602.9C839 602.9 839.5 603 840 603.3C840.4 603.6 840.8 604.1 841.1 604.6Z"/><path d="M830 972C830 972 828.5 975.8 827.8 978C827.2 980.2 827 982.7 826 985C825 987.3 822.9 990.1 821.7 991.8C820.4 993.6 819.5 994.6 818.3 995.3C817.2 996.1 816.1 996 814.8 996.2C813.5 996.3 811.8 995.6 810.5 996.2C809.2 996.8 807.3 998.4 807 999.7C806.7 1001 808.8 1002.4 808.7 1004C808.5 1005.6 807 1007.6 806.2 1009.2C805.3 1010.8 803.8 1011.8 803.5 1013.5C803.2 1015.2 804.6 1017.9 804.3 1019.7C804.1 1021.4 802.6 1022.3 801.8 1024C801.1 1025.7 800 1030 800 1030L830 1030L830 972Z"/><path d="M751.5 993.7C752 992.1 753 989.7 754.2 988.3C755.3 986.9 757.1 985.5 758.5 985.3C759.9 985.2 761.2 986.3 762.8 987.5C764.4 988.7 766.3 990.9 768 992.7C769.7 994.4 771.6 996.2 773.2 998C774.8 999.8 776.7 1001 777.5 1003.2C778.3 1005.3 777.9 1008.8 778 1011C778.1 1013.2 778.3 1014.4 778.3 1016.2C778.4 1017.9 779.2 1020.3 778.3 1021.3C777.5 1022.3 775 1022 773.2 1022.2C771.3 1022.3 768.8 1022.8 767.2 1022.2C765.6 1021.6 764.5 1020.1 763.7 1018.7C762.8 1017.2 763 1015.2 762 1013.5C761 1011.8 759.1 1010.1 757.7 1008.3C756.2 1006.6 754.4 1004.9 753.3 1003.2C752.2 1001.4 751.5 999.6 751.2 998C750.9 996.4 751 995.3 751.5 993.7Z"/><path d="M803.3 1018L803.3 1022.2C803.3 1022.2 801 1026.8 800 1029.7C799 1032.6 798.6 1036.6 797.5 1039.7C796.4 1042.7 794.7 1044.9 793.3 1048C791.9 1051.1 790.4 1054.4 789.2 1058C787.9 1061.6 786 1066.3 785.8 1069.7C785.7 1073 787.6 1075.2 788.3 1078C789 1080.8 789 1084.1 790 1086.3C791 1088.6 792.8 1090.2 794.2 1091.3C795.6 1092.4 796.5 1091.6 798.3 1093C800.1 1094.4 802.9 1097.4 805 1099.7C807.1 1101.9 809.4 1104.1 810.8 1106.3C812.2 1108.6 811.5 1111.6 813.3 1113C815.1 1114.4 819.6 1113.7 821.7 1114.7C823.8 1115.6 825 1116.9 825.8 1118.8C826.7 1120.8 827.4 1124.2 826.7 1126.3C826 1128.4 823.5 1129.4 821.7 1131.3C819.9 1133.3 817.1 1135.8 815.8 1138C814.6 1140.2 814.9 1142.2 814.2 1144.7C813.5 1147.2 811.8 1150.5 811.7 1153C811.5 1155.5 813.5 1158 813.3 1159.7C813.2 1161.3 810 1162.6 810.8 1163C811.7 1163.4 816.7 1161.1 818.3 1162.2C820 1163.3 820.6 1167 820.8 1169.7C821.1 1172.3 820.8 1175.5 820 1178C819.2 1180.5 817.1 1183 815.8 1184.7C814.6 1186.3 812.8 1186.1 812.5 1188C812.2 1189.9 813.5 1193.6 814.2 1196.3C814.9 1199.1 815.6 1202.2 816.7 1204.7C817.8 1207.2 820.6 1209.1 820.8 1211.3C821.1 1213.6 817.9 1216.5 818.3 1218C818.7 1219.5 821.9 1219.8 823.3 1220.5C824.7 1221.2 826 1220.9 826.7 1222.2C827.4 1223.4 826.9 1227 827.5 1228C828.1 1229 830 1228 830 1228L830 1018L803.3 1018Z"/><path d="M731.7 1196.3C733.2 1194.4 735.8 1193 738.3 1191.3C740.8 1189.7 744.3 1187 746.7 1186.3C749 1185.6 751.4 1185.5 752.5 1187.2C753.6 1188.8 752.9 1193.4 753.3 1196.3C753.8 1199.2 755 1201.9 755 1204.7C755 1207.4 753.8 1209.1 753.3 1213C752.9 1216.9 758.3 1225.5 752.5 1228C746.7 1230.5 723.9 1230.8 718.3 1228C712.8 1225.2 718.1 1214.7 719.2 1211.3C720.3 1208 723.3 1209.4 725 1208C726.7 1206.6 728.1 1204.9 729.2 1203C730.3 1201.1 730.1 1198.3 731.7 1196.3Z"/><path d="M666.7 1200.5C668.3 1198.8 672.2 1197.3 675 1196.3C677.8 1195.4 681.1 1194.5 683.3 1194.7C685.6 1194.8 687.6 1195.5 688.3 1197.2C689 1198.8 688.2 1202.3 687.5 1204.7C686.8 1207 685.1 1208.8 684.2 1211.3C683.2 1213.8 682.2 1216.9 681.7 1219.7C681.1 1222.4 684.3 1226.6 680.8 1228C677.4 1229.4 663.9 1230.2 660.8 1228C657.8 1225.8 661.8 1218.3 662.5 1214.7C663.2 1211.1 664.3 1208.7 665 1206.3C665.7 1204 665 1202.2 666.7 1200.5Z"/><path d="M733.7 1153C733.7 1153.6 733.3 1154.2 732.8 1154.7C732.3 1155.1 731.4 1155.5 730.6 1155.7C729.7 1155.9 728.6 1155.9 727.8 1155.7C726.9 1155.5 726 1155.1 725.5 1154.7C725 1154.2 724.7 1153.6 724.7 1153C724.7 1152.4 725 1151.8 725.5 1151.3C726 1150.9 726.9 1150.5 727.8 1150.3C728.6 1150.1 729.7 1150.1 730.6 1150.3C731.4 1150.5 732.3 1150.9 732.8 1151.3C733.3 1151.8 733.7 1152.4 733.7 1153Z"/><path d="M795.8 1195C795.8 1195.5 795.6 1196.1 795.2 1196.5C794.8 1196.9 794.2 1197.2 793.5 1197.4C792.9 1197.5 792.1 1197.5 791.5 1197.4C790.8 1197.2 790.2 1196.9 789.8 1196.5C789.4 1196.1 789.2 1195.5 789.2 1195C789.2 1194.5 789.4 1193.9 789.8 1193.5C790.2 1193.1 790.8 1192.8 791.5 1192.6C792.1 1192.5 792.9 1192.5 793.5 1192.6C794.2 1192.8 794.8 1193.1 795.2 1193.5C795.6 1193.9 795.8 1194.5 795.8 1195Z"/><path d="M715 1175.5C715 1175.8 714.8 1176.1 714.4 1176.3C714.1 1176.5 713.5 1176.7 712.9 1176.8C712.4 1176.8 711.6 1176.8 711.1 1176.8C710.5 1176.7 709.9 1176.5 709.6 1176.3C709.2 1176.1 709 1175.8 709 1175.5C709 1175.2 709.2 1174.9 709.6 1174.7C709.9 1174.5 710.5 1174.3 711.1 1174.2C711.6 1174.2 712.4 1174.2 712.9 1174.2C713.5 1174.3 714.1 1174.5 714.4 1174.7C714.8 1174.9 715 1175.2 715 1175.5Z"/><path d="M762.5 1212.2C762.5 1212.6 762.4 1213.2 762.2 1213.5C762.1 1213.9 761.8 1214.2 761.6 1214.4C761.3 1214.5 761 1214.5 760.8 1214.4C760.5 1214.2 760.2 1213.9 760.1 1213.5C759.9 1213.2 759.8 1212.6 759.8 1212.2C759.8 1211.7 759.9 1211.2 760.1 1210.8C760.2 1210.4 760.5 1210.1 760.8 1209.9C761 1209.8 761.3 1209.8 761.6 1209.9C761.8 1210.1 762.1 1210.4 762.2 1210.8C762.4 1211.2 762.5 1211.7 762.5 1212.2Z"/><path d="M691.7 1219.7C692.5 1218 695 1217.7 696.7 1218C698.3 1218.3 701.1 1219.7 701.7 1221.3C702.2 1223 701.7 1226.9 700 1228C698.3 1229.1 693.1 1229.4 691.7 1228C690.3 1226.6 690.8 1221.3 691.7 1219.7Z"/><path d="M1121.3 1109.7C1121.9 1109 1123.8 1109.3 1125 1110C1126.2 1110.7 1128.3 1112.6 1128.3 1113.8C1128.3 1115 1126.1 1117.2 1125 1117.2C1123.9 1117.2 1122.3 1115.1 1121.7 1113.8C1121.1 1112.6 1120.8 1110.3 1121.3 1109.7Z"/><path d="M1150.7 1074.3C1150.7 1074.9 1150.5 1075.6 1150.2 1076.1C1149.9 1076.6 1149.3 1077 1148.8 1077.2C1148.3 1077.4 1147.7 1077.4 1147.2 1077.2C1146.7 1077 1146.1 1076.6 1145.8 1076.1C1145.5 1075.6 1145.3 1074.9 1145.3 1074.3C1145.3 1073.7 1145.5 1073 1145.8 1072.6C1146.1 1072.1 1146.7 1071.7 1147.2 1071.5C1147.7 1071.3 1148.3 1071.3 1148.8 1071.5C1149.3 1071.7 1149.9 1072.1 1150.2 1072.6C1150.5 1073 1150.7 1073.7 1150.7 1074.3Z"/><path d="M1173.8 1110C1173.8 1110.5 1173.6 1111 1173.3 1111.4C1173 1111.7 1172.5 1112.1 1172 1112.2C1171.5 1112.4 1170.8 1112.4 1170.3 1112.2C1169.8 1112.1 1169.3 1111.7 1169 1111.4C1168.7 1111 1168.5 1110.5 1168.5 1110C1168.5 1109.5 1168.7 1109 1169 1108.6C1169.3 1108.3 1169.8 1107.9 1170.3 1107.8C1170.8 1107.6 1171.5 1107.6 1172 1107.8C1172.5 1107.9 1173 1108.3 1173.3 1108.6C1173.6 1109 1173.8 1109.5 1173.8 1110Z"/><path d="M1169 1043.8C1169 1044.2 1168.8 1044.5 1168.6 1044.8C1168.3 1045.1 1167.8 1045.3 1167.4 1045.4C1167 1045.5 1166.4 1045.5 1165.9 1045.4C1165.5 1045.3 1165 1045.1 1164.8 1044.8C1164.5 1044.5 1164.3 1044.2 1164.3 1043.8C1164.3 1043.5 1164.5 1043.1 1164.8 1042.9C1165 1042.6 1165.5 1042.3 1165.9 1042.2C1166.4 1042.1 1167 1042.1 1167.4 1042.2C1167.8 1042.3 1168.3 1042.6 1168.6 1042.9C1168.8 1043.1 1169 1043.5 1169 1043.8Z"/><path d="M1147.5 1083.8C1147.5 1084.2 1147.4 1084.5 1147.2 1084.8C1147 1085.1 1146.7 1085.3 1146.3 1085.4C1146 1085.5 1145.6 1085.5 1145.3 1085.4C1145 1085.3 1144.7 1085.1 1144.5 1084.8C1144.3 1084.5 1144.2 1084.2 1144.2 1083.8C1144.2 1083.5 1144.3 1083.1 1144.5 1082.9C1144.7 1082.6 1145 1082.3 1145.3 1082.2C1145.6 1082.1 1146 1082.1 1146.3 1082.2C1146.7 1082.3 1147 1082.6 1147.2 1082.9C1147.4 1083.1 1147.5 1083.5 1147.5 1083.8Z"/></g>
<g fill="#f89540"><path d="M485.8 518.8C487.8 517.2 500.1 517 501.7 518C503.2 519 496.9 523 495 524.7C493.1 526.3 491.5 529 490 528C488.5 527 483.9 520.5 485.8 518.8Z"/><path d="M506 506C506 506.3 505.8 506.7 505.5 507C505.2 507.2 504.7 507.5 504.2 507.6C503.7 507.7 503 507.7 502.5 507.6C502 507.5 501.5 507.2 501.2 507C500.9 506.7 500.7 506.3 500.7 506C500.7 505.7 500.9 505.3 501.2 505C501.5 504.8 502 504.5 502.5 504.4C503 504.3 503.7 504.3 504.2 504.4C504.7 504.5 505.2 504.8 505.5 505C505.8 505.3 506 505.7 506 506Z"/><path d="M516.7 507.7L521.7 506C521.7 506 526.5 505.9 528.3 506.7C530.1 507.4 532.5 509.1 532.5 510.5C532.5 511.9 530.1 514.2 528.3 515C526.5 515.8 521.7 515 521.7 515L516.7 513.8L516.7 507.7Z"/><path d="M588.7 459.7C588.7 460 588.4 460.4 588 460.6C587.5 460.9 586.8 461.2 586.1 461.3C585.4 461.4 584.6 461.4 583.9 461.3C583.2 461.2 582.5 460.9 582 460.6C581.6 460.4 581.3 460 581.3 459.7C581.3 459.3 581.6 459 582 458.7C582.5 458.4 583.2 458.2 583.9 458.1C584.6 458 585.4 458 586.1 458.1C586.8 458.2 587.5 458.4 588 458.7C588.4 459 588.7 459.3 588.7 459.7Z"/><path d="M819.2 1061.3C819.6 1060.5 821.8 1061.3 822.5 1063C823.2 1064.7 823.6 1069.7 823.3 1071.3C823.1 1073 821.4 1073.6 820.8 1073C820.2 1072.4 819.9 1069.9 819.7 1068C819.4 1066.1 818.7 1062.2 819.2 1061.3Z"/><path d="M798.3 1038C797.3 1039.4 796.9 1044.7 795.8 1048C794.7 1051.3 792.9 1054.4 791.7 1058C790.4 1061.6 788.5 1066.1 788.3 1069.7C788.2 1073.3 790 1076.6 790.8 1079.7C791.7 1082.7 792.1 1086 793.3 1088C794.6 1090 797.1 1091.8 798.3 1091.7C799.6 1091.5 800.8 1089.4 800.8 1087.2C800.8 1084.9 799 1080.9 798.3 1078C797.7 1075.1 796.9 1072.7 797 1069.7C797.1 1066.6 798 1063 798.7 1059.7C799.3 1056.3 800.3 1053 800.8 1049.7C801.4 1046.3 802.4 1041.6 802 1039.7C801.6 1037.7 799.4 1036.6 798.3 1038Z"/></g>
<g fill="#d6556d"><path d="M436.7 372.2C436.9 371.2 439.4 369.1 441.7 368C443.9 366.9 447.2 366.6 450 365.5C452.8 364.4 456.3 361.9 458.3 361.3C460.4 360.8 461.8 361.1 462.5 362.2C463.2 363.3 463.8 366.9 462.5 368C461.2 369.1 457.1 368 455 368.8C452.9 369.7 451.7 371.9 450 373C448.3 374.1 446.7 375.4 445 375.5C443.3 375.6 441.4 374.4 440 373.8C438.6 373.3 436.4 373.1 436.7 372.2Z"/><path d="M506.7 529.7C506.9 527.9 508.9 527.3 511.7 527.2C514.4 527 520.3 528 523.3 528.8C526.4 529.7 530 532.2 530 532.2L530 538L510 538C510 538 506.4 531.5 506.7 529.7Z"/><path d="M589.2 398.8C589.7 397.9 592.1 398.7 593.3 399.7C594.6 400.6 596.5 403.3 596.7 404.7C596.8 406.1 595.3 407.9 594.2 408C593.1 408.1 590.8 407 590 405.5C589.2 404 588.6 399.8 589.2 398.8Z"/><path d="M569.2 283L585.8 283C585.8 283 585.7 299.7 585 304.7C584.3 309.7 583.3 311.2 581.7 313C580 314.8 577.1 315.5 575 315.5C572.9 315.5 570.6 314.5 569.2 313C567.8 311.5 566.7 311.3 566.7 306.3C566.7 301.3 569.2 283 569.2 283Z"/><path d="M664.2 283L679.2 283C679.2 283 678.6 294.4 678.3 298C678.1 301.6 678.6 303.3 677.5 304.7C676.4 306.1 673.5 306.8 671.7 306.3C669.9 305.9 667.9 306.1 666.7 302.2C665.4 298.3 664.2 283 664.2 283Z"/><path d="M698.3 299.3C698.3 299.9 698.1 300.6 697.9 301.1C697.6 301.6 697.1 302 696.6 302.2C696.1 302.4 695.5 302.4 695.1 302.2C694.6 302 694.1 301.6 693.8 301.1C693.5 300.6 693.3 299.9 693.3 299.3C693.3 298.7 693.5 298 693.8 297.6C694.1 297.1 694.6 296.7 695.1 296.5C695.5 296.3 696.1 296.3 696.6 296.5C697.1 296.7 697.6 297.1 697.9 297.6C698.1 298 698.3 298.7 698.3 299.3Z"/><path d="M713.3 283C713.3 283 709.3 296.9 708.3 301.3C707.4 305.8 708.1 307.2 707.5 309.7C706.9 312.2 706 314.1 705 316.3C704 318.6 702.8 320.5 701.7 323C700.6 325.5 700 328.8 698.3 331.3C696.7 333.8 693.9 336.2 691.7 338C689.4 339.8 686.8 341.5 685 342.2C683.2 342.9 681.4 341.5 680.8 342.2C680.3 342.9 682.4 344.9 681.7 346.3C681 347.7 678.6 350.2 676.7 350.5C674.7 350.8 671.8 349.5 670 348C668.2 346.5 666.4 343.3 665.8 341.3C665.3 339.4 665.4 338 666.7 336.3C667.9 334.7 672.1 333 673.3 331.3C674.6 329.7 674.7 328 674.2 326.3C673.6 324.7 672.1 323.1 670 321.3C667.9 319.5 663.9 317.4 661.7 315.5C659.4 313.6 657.6 311.8 656.7 309.7C655.7 307.6 657.2 303.7 655.8 303C654.4 302.3 651 305.5 648.3 305.5C645.7 305.5 642.8 304.2 640 303C637.2 301.8 633.9 299.2 631.7 298C629.4 296.8 626.9 294.5 626.7 295.5C626.4 296.5 627.5 300.4 630 303.8C632.5 307.3 640 313 641.7 316.3C643.3 319.7 642.2 321.1 640 323.8C637.8 326.6 632.5 330.9 628.3 333C624.2 335.1 617.4 334.1 615 336.3C612.6 338.6 616.1 345.5 614.2 346.3C612.2 347.2 606.9 343 603.3 341.3C599.7 339.7 595.2 336.1 592.5 336.3C589.8 336.6 587.6 340.5 587 343C586.4 345.5 586.7 348.3 589.2 351.3C591.6 354.4 598.5 358.8 601.7 361.3C604.9 363.8 607.8 364.2 608.3 366.3C608.9 368.4 603.9 372 605 373.8C606.1 375.6 612.1 376.2 615 377.2C617.9 378.1 621.1 378.1 622.5 379.7C623.9 381.2 624 382.4 623.3 386.3C622.6 390.2 620 398.7 618.3 403C616.7 407.3 613.8 409.5 613.3 412.2C612.9 414.8 614.6 417 615.8 418.8C617.1 420.6 620.2 421.1 620.8 423C621.5 424.9 620.5 428.4 619.7 430.5C618.8 432.6 616 433.8 615.8 435.5C615.7 437.2 617.4 439.7 618.7 440.5C620 441.3 622.3 441.3 623.7 440.5C625.1 439.7 626.4 438.3 627 435.5C627.6 432.7 626.2 426.5 627 423.8C627.8 421.2 630.3 420 631.7 419.7C633 419.3 633.6 423.2 635 421.8C636.4 420.4 639.2 414.2 640.3 411.3C641.4 408.5 641.9 408 641.7 404.7C641.4 401.3 638.7 393.8 638.7 391.3C638.7 388.8 640.1 387.9 641.7 389.7C643.3 391.5 643.9 401.3 648.3 402.2C652.8 403 662.2 396.9 668.3 394.7C674.4 392.4 681.4 388 685 388.8C688.6 389.7 687.2 397.6 690 399.7C692.8 401.8 698.1 403.6 701.7 401.3C705.3 399.1 709.9 389.4 711.7 386.3C713.5 383.3 714.7 383 712.5 383C710.3 383 703.2 386.6 698.3 386.3C693.5 386.1 685.7 382.6 683.3 381.3C681 380.1 681.1 379.7 684.2 378.8C687.2 378 696.7 378.4 701.7 376.3C706.7 374.2 712.2 369.4 714.2 366.3C716.1 363.3 711.8 361.6 713.3 358C714.9 354.4 721.5 348 723.3 344.7C725.1 341.3 725.6 340.8 724.2 338C722.8 335.2 716.9 330.8 715 328C713.1 325.2 712.8 323.4 712.5 321.3C712.2 319.2 711.8 316.8 713.3 315.5C714.9 314.2 718.1 313.6 721.7 313.8C725.3 314.1 733.8 314.8 735 317.2C736.2 319.5 730.1 323.4 729.2 328C728.3 332.6 730.2 339.4 729.7 344.7C729.1 349.9 727.6 355.2 725.8 359.7C724.1 364.1 720.3 368.6 719.2 371.3C718.1 374.1 717.8 374.2 719.2 376.3C720.6 378.4 726.8 381.6 727.5 383.8C728.2 386.1 723.9 387.6 723.3 389.7C722.8 391.8 725.7 393.4 724.2 396.3C722.6 399.2 715.7 404.9 714.2 407.2C712.6 409.4 713.2 409.8 715 409.7C716.8 409.5 721.7 406.6 725 406.3C728.3 406.1 731.9 409.2 735 408C738.1 406.8 741.1 400.6 743.3 398.8C745.6 397 746.5 397 748.3 397.2C750.1 397.3 752.9 397.9 754.2 399.7C755.4 401.5 754.6 404.7 755.8 408C757.1 411.3 761.2 416.9 761.7 419.7C762.1 422.4 761.4 422.9 758.3 424.7C755.3 426.5 745.3 431.1 743.3 430.5C741.4 429.9 746.1 423.7 746.7 421.3C747.2 419 747.8 417.9 746.7 416.3C745.6 414.8 742.2 411.9 740 412.2C737.8 412.4 736.4 416.5 733.3 418C730.3 419.5 726.1 418.6 721.7 421.3C717.2 424.1 710.1 431.6 706.7 434.7C703.2 437.7 701.9 437.7 700.8 439.7C699.7 441.6 698.5 444 700 446.3C701.5 448.7 706.1 454.9 710 453.8C713.9 452.7 719.7 442.9 723.3 439.7C726.9 436.5 728.9 435.8 731.7 434.7C734.4 433.6 737.8 432.7 740 433C742.2 433.3 742.6 432.4 745 436.3C747.4 440.2 753.1 452 754.2 456.3C755.3 460.6 752.9 460.6 751.7 462.2C750.4 463.7 748.2 467 746.7 465.5C745.1 464 743.6 456.1 742.5 453C741.4 449.9 741.5 448 740 447.2C738.5 446.3 735 447 733.3 448C731.7 449 729.3 450.2 730 453C730.7 455.8 736.5 461.6 737.5 464.7C738.5 467.7 734.3 468.3 735.8 471.3C737.4 474.4 744.6 479.9 746.7 483C748.8 486.1 748.5 487.2 748.3 489.7C748.2 492.2 744.4 494.7 745.8 498C747.2 501.3 754.7 506.3 756.7 509.7C758.6 513 758.9 514.7 757.5 518C756.1 521.3 750.7 527.2 748.3 529.7C746 532.2 743.9 531.6 743.3 533C742.8 534.4 745 538 745 538L798.3 538L798.3 283L713.3 283Z"/><path d="M662.7 411.7C662.7 412.2 662.3 412.9 661.8 413.3C661.3 413.8 660.5 414.2 659.7 414.4C658.9 414.5 657.8 414.5 657 414.4C656.2 414.2 655.3 413.8 654.8 413.3C654.3 412.9 654 412.2 654 411.7C654 411.1 654.3 410.5 654.8 410C655.3 409.6 656.2 409.1 657 409C657.8 408.8 658.9 408.8 659.7 409C660.5 409.1 661.3 409.6 661.8 410C662.3 410.5 662.7 411.1 662.7 411.7Z"/><path d="M661.8 429.3C661.8 429.9 661.5 430.6 661 431.1C660.5 431.6 659.6 432 658.8 432.2C658 432.4 657 432.4 656.2 432.2C655.4 432 654.5 431.6 654 431.1C653.5 430.6 653.2 429.9 653.2 429.3C653.2 428.7 653.5 428 654 427.6C654.5 427.1 655.4 426.7 656.2 426.5C657 426.3 658 426.3 658.8 426.5C659.6 426.7 660.5 427.1 661 427.6C661.5 428 661.8 428.7 661.8 429.3Z"/><path d="M606.3 459.7C606.3 460.6 606.2 461.7 606 462.4C605.8 463.1 605.5 463.8 605.2 464.1C604.9 464.4 604.5 464.4 604.2 464.1C603.8 463.8 603.5 463.1 603.3 462.4C603.1 461.7 603 460.6 603 459.7C603 458.8 603.1 457.7 603.3 456.9C603.5 456.2 603.8 455.5 604.2 455.2C604.5 454.9 604.9 454.9 605.2 455.2C605.5 455.5 605.8 456.2 606 456.9C606.2 457.7 606.3 458.8 606.3 459.7Z"/><path d="M673.3 416.3C675 414.3 676.4 412.6 678.3 412.2C680.3 411.8 683.9 412.3 685 413.8C686.1 415.4 683.6 420.2 685 421.3C686.4 422.4 692.5 419.7 693.3 420.5C694.2 421.3 691.1 424.3 690 426.3C688.9 428.4 687.5 430.2 686.7 433C685.8 435.8 685.8 439.7 685 443C684.2 446.3 682.1 450.8 681.7 453C681.2 455.2 683.2 455.1 682.5 456.3C681.8 457.6 679.3 461.1 677.5 460.5C675.7 459.9 673.5 455.4 671.7 453C669.9 450.6 666.7 448.8 666.7 446.3C666.7 443.8 670.7 440.5 671.7 438C672.6 435.5 673.1 433.6 672.5 431.3C671.9 429.1 668.2 427.2 668.3 424.7C668.5 422.2 671.7 418.4 673.3 416.3Z"/><path d="M705.8 464.7C706.7 462.6 708.8 458.8 710 458C711.2 457.2 712.8 458.3 713.3 459.7C713.9 461.1 714 464.3 713.3 466.3C712.6 468.4 710.6 471.5 709.2 472.2C707.8 472.9 705.6 471.8 705 470.5C704.4 469.2 705 466.7 705.8 464.7Z"/><path d="M790 283L820 283C820 283 819.4 294.1 818.3 298C817.2 301.9 815.3 304.1 813.3 306.3C811.4 308.6 808.9 310.8 806.7 311.3C804.4 311.9 802.8 310.5 800 309.7C797.2 308.8 790 306.3 790 306.3L790 283Z"/><path d="M790 328C790 328 798.3 326.5 801.7 326.3C805 326.2 807.5 326.8 810 327.2C812.5 327.6 814.4 329.4 816.7 328.8C818.9 328.3 820.8 325.4 823.3 323.8C825.8 322.3 828.6 320.9 831.7 319.7C834.7 318.4 838.6 318 841.7 316.3C844.7 314.7 847.5 311.6 850 309.7C852.5 307.7 854.2 306.3 856.7 304.7C859.2 303 861.9 301.3 865 299.7C868.1 298 872.8 297.4 875 294.7C877.2 291.9 878.3 283 878.3 283L911.7 283C911.7 283 906.9 293 905 296.3C903.1 299.7 901.1 300.8 900 303C898.9 305.2 898.9 307.3 898.3 309.7C897.8 312 897.8 316.2 896.7 317.2C895.6 318.1 893.6 316.6 891.7 315.5C889.7 314.4 886.9 311.8 885 310.5C883.1 309.2 881.7 308.3 880 308C878.3 307.7 875.6 307.4 875 308.8C874.4 310.2 875.8 313.8 876.7 316.3C877.5 318.8 880.6 323.1 880 323.8C879.4 324.5 875.6 321.6 873.3 320.5C871.1 319.4 868.9 317.2 866.7 317.2C864.4 317.2 861.9 319 860 320.5C858.1 322 856 323.7 855 326.3C854 329 854.7 333.6 854.2 336.3C853.6 339.1 851.2 341.1 851.7 343C852.1 344.9 855 346.1 856.7 348C858.3 349.9 861.2 352.4 861.7 354.7C862.1 356.9 860.3 359.2 859.2 361.3C858.1 363.4 854.9 365.8 855 367.2C855.1 368.6 858.1 369.4 860 369.7C861.9 369.9 864.2 369.2 866.7 368.8C869.2 368.4 872.5 367.7 875 367.2C877.5 366.6 880.3 366.8 881.7 365.5C883.1 364.2 881.9 361.5 883.3 359.7C884.7 357.9 887.8 356.6 890 354.7C892.2 352.7 894.4 349.8 896.7 348C898.9 346.2 900.8 344.9 903.3 343.8C905.8 342.8 909.7 341.5 911.7 341.7C913.6 341.8 915 343.1 915 344.7C915 346.3 913.3 349.4 911.7 351.3C910 353.3 907.5 354.7 905 356.3C902.5 358 898.8 359.5 896.7 361.3C894.6 363.1 892.8 365.5 892.5 367.2C892.2 368.8 893.5 370.5 895 371.3C896.5 372.2 899.7 372 901.7 372.2C903.6 372.3 905.3 371.6 906.7 372.2C908.1 372.7 910.4 374.2 910 375.5C909.6 376.8 906.1 377.9 904.2 379.7C902.2 381.5 900.1 384.7 898.3 386.3C896.5 388 894.3 387.2 893.3 389.7C892.4 392.2 893.9 398.8 892.5 401.3C891.1 403.8 887.1 403 885 404.7C882.9 406.3 881.5 409.9 880 411.3C878.5 412.7 877.4 413.8 875.8 413C874.3 412.2 872.6 408 870.8 406.3C869 404.7 867.1 403.6 865 403C862.9 402.4 860.3 402.4 858.3 403C856.4 403.6 855 404.4 853.3 406.3C851.7 408.3 850.3 412.7 848.3 414.7C846.4 416.6 843.9 417.6 841.7 418C839.4 418.4 837.2 416.6 835 417.2C832.8 417.7 830.3 419.5 828.3 421.3C826.4 423.1 824.6 425.2 823.3 428C822.1 430.8 821.2 435.8 820.8 438C820.4 440.2 822.1 441.2 820.8 441.3C819.6 441.5 816 439.5 813.3 438.8C810.7 438.1 807.5 437.9 805 437.2C802.5 436.5 800.8 435.1 798.3 434.7C795.8 434.2 790 434.7 790 434.7L790 328Z"/><path d="M790 446.3C790 446.3 799.7 445.1 803.3 444.7C806.9 444.2 809.6 443 811.7 443.8C813.8 444.7 815 447 815.8 449.7C816.7 452.3 816.2 456.6 816.7 459.7C817.1 462.7 818.6 466.8 818.3 468C818.1 469.2 816.2 468.4 815 467.2C813.8 465.9 812.2 461.5 810.8 460.5C809.4 459.5 807.6 460.1 806.7 461.3C805.7 462.6 805.1 466.1 805 468C804.9 469.9 806.4 471.6 805.8 473C805.3 474.4 803.2 475.8 801.7 476.3C800.1 476.9 798.6 477.2 796.7 476.3C794.7 475.5 790 471.3 790 471.3L790 446.3Z"/><path d="M886.3 340.5C886.3 341 886.1 341.6 885.7 342C885.3 342.4 884.7 342.7 884 342.9C883.4 343 882.6 343 882 342.9C881.3 342.7 880.7 342.4 880.3 342C879.9 341.6 879.7 341 879.7 340.5C879.7 340 879.9 339.4 880.3 339C880.7 338.6 881.3 338.3 882 338.1C882.6 338 883.4 338 884 338.1C884.7 338.3 885.3 338.6 885.7 339C886.1 339.4 886.3 340 886.3 340.5Z"/><path d="M896.8 337.2C896.8 337.5 896.7 337.9 896.6 338.1C896.4 338.4 896.2 338.7 895.9 338.8C895.7 338.9 895.3 338.9 895.1 338.8C894.8 338.7 894.6 338.4 894.4 338.1C894.3 337.9 894.2 337.5 894.2 337.2C894.2 336.8 894.3 336.5 894.4 336.2C894.6 335.9 894.8 335.7 895.1 335.6C895.3 335.5 895.7 335.5 895.9 335.6C896.2 335.7 896.4 335.9 896.6 336.2C896.7 336.5 896.8 336.8 896.8 337.2Z"/><path d="M830 479.7C831 477.6 833.2 476.1 835 475.5C836.8 474.9 839.2 475.2 840.8 476.3C842.5 477.4 843.8 480.4 845 482.2C846.2 484 848.3 485.6 848.3 487.2C848.3 488.7 846.7 490.1 845 491.3C843.3 492.6 840.1 494.1 838.3 494.7C836.5 495.2 835.7 495.8 834.2 494.7C832.6 493.6 829.9 490.5 829.2 488C828.5 485.5 829 481.7 830 479.7Z"/><path d="M838.3 452.2C839.1 451.9 842.8 453.4 844.2 454.7C845.6 455.9 846.5 458.3 846.7 459.7C846.8 461.1 845.8 462.7 845 463C844.2 463.3 842.6 462.4 841.7 461.3C840.8 460.2 840.2 457.9 839.7 456.3C839.1 454.8 837.6 452.4 838.3 452.2Z"/><path d="M928.3 283L947.5 283C947.5 283 946.5 293.3 945 295.5C943.5 297.7 940.3 295.5 938.3 296.3C936.4 297.2 934.9 300.1 933.3 300.5C931.8 300.9 930 301.8 929.2 298.8C928.3 295.9 928.3 283 928.3 283Z"/><path d="M318.3 583C318.8 581.8 321.7 582.2 323.3 581.3C325 580.5 326.7 579.5 328.3 578C330 576.5 331.4 573.6 333.3 572.2C335.3 570.8 338.1 569.7 340 569.7C341.9 569.7 344.2 570.5 345 572.2C345.8 573.8 345.8 577.9 345 579.7C344.2 581.5 341.7 582.3 340 583C338.3 583.7 336.7 583 335 583.8C333.3 584.7 331.7 586.9 330 588C328.3 589.1 326.5 590.4 325 590.5C323.5 590.6 321.9 590.1 320.8 588.8C319.7 587.6 317.9 584.2 318.3 583Z"/><path d="M353.3 669.7C353.3 668.1 355.4 664.4 356.7 661.3C357.9 658.3 359.2 654.4 360.8 651.3C362.5 648.3 364.6 645.4 366.7 643C368.7 640.6 371.1 638.4 373.3 637.2C375.6 635.9 378.2 635.1 380 635.5C381.8 635.9 383.9 637.6 384.2 639.7C384.4 641.8 382.9 645.5 381.7 648C380.4 650.5 378.6 652.2 376.7 654.7C374.7 657.2 372.2 660.8 370 663C367.8 665.2 365.6 666.7 363.3 668C361.1 669.3 358.3 670.7 356.7 671C355 671.3 353.3 671.3 353.3 669.7Z"/><path d="M461.7 545.5C462.5 543.8 467.5 541.2 470 540.5C472.5 539.8 474.7 540 476.7 541C478.6 542 479.7 544.6 481.7 546.3C483.6 548.1 487.8 549.8 488.3 551.3C488.9 552.9 486.7 554.7 485 555.5C483.3 556.3 480.6 556.6 478.3 556.3C476.1 556.1 473.9 554.8 471.7 553.8C469.4 552.9 466.7 551.9 465 550.5C463.3 549.1 460.8 547.2 461.7 545.5Z"/><path d="M508.3 528L530 528L530 545.5C530 545.5 525.8 543.3 523.3 542.2C520.8 541.1 517.2 540.1 515 538.8C512.8 537.6 511.1 536.5 510 534.7C508.9 532.9 508.3 528 508.3 528Z"/><path d="M431.7 763C432.1 761.1 434.4 757.7 436.7 756.3C438.9 754.9 442.8 755.9 445 754.7C447.2 753.4 448.1 750.2 450 748.8C451.9 747.4 454.2 746.5 456.7 746.3C459.2 746.2 462.8 746.6 465 748C467.2 749.4 468.1 753 470 754.7C471.9 756.3 474.7 756.3 476.7 758C478.6 759.7 480.6 762.4 481.7 764.7C482.8 766.9 483.5 769.1 483.3 771.3C483.2 773.6 481.4 776.1 480.8 778C480.3 779.9 480 783 480 783L426.7 783C426.7 783 432.1 777.2 433.3 774.7C434.6 772.2 434.4 769.9 434.2 768C433.9 766.1 431.2 764.9 431.7 763Z"/><path d="M343.7 771.3C344.1 770.1 346.3 768.6 348.3 768.3C350.4 768.1 354.7 768.6 355.8 769.7C356.9 770.7 356 773.1 355 774.7C354 776.2 351.5 778.7 350 778.8C348.5 779 346.9 776.8 345.8 775.5C344.8 774.2 343.2 772.5 343.7 771.3Z"/><path d="M270 783C270 783 273.1 777.4 275 774.7C276.9 771.9 279.4 768.8 281.7 766.3C283.9 763.8 286.7 761.9 288.3 759.7C290 757.4 291 754.9 291.7 753C292.4 751.1 291.8 749 292.5 748C293.2 747 294.9 746.1 295.8 747.2C296.8 748.3 297.2 752.6 298.3 754.7C299.4 756.8 301.9 757.4 302.5 759.7C303.1 761.9 302.6 765.5 301.7 768C300.7 770.5 298.3 772.7 296.7 774.7C295 776.6 293.1 778.3 291.7 779.7C290.3 781.1 288.3 783 288.3 783L270 783Z"/><path d="M316.7 738C317.1 734.9 318.3 731.9 320 729.7C321.7 727.4 324.2 726.1 326.7 724.7C329.2 723.3 332.8 721.8 335 721.3C337.2 720.9 339.4 720.9 340 722.2C340.6 723.4 339.4 726.2 338.3 728.8C337.2 731.5 335 735.1 333.3 738C331.7 740.9 330 744.1 328.3 746.3C326.7 748.6 325.1 751.1 323.3 751.3C321.5 751.6 318.6 750.2 317.5 748C316.4 745.8 316.2 741.1 316.7 738Z"/><path d="M748.2 635C748.5 635.3 748.5 635.9 748.4 636.5C748.3 637 747.8 637.8 747.3 638.4C746.8 639 746 639.7 745.3 640.1C744.7 640.5 743.8 640.8 743.2 640.8C742.6 640.9 742.1 640.7 741.8 640.3C741.5 640 741.5 639.4 741.6 638.9C741.7 638.3 742.2 637.5 742.7 636.9C743.2 636.3 744 635.7 744.7 635.3C745.3 634.9 746.2 634.6 746.8 634.5C747.4 634.5 747.9 634.7 748.2 635Z"/><path d="M528.3 558C528.6 555.5 531.8 554.4 533.3 551.3C534.9 548.3 536.1 539.9 537.5 539.7C538.9 539.4 540.1 546.3 541.7 549.7C543.2 553 544.7 557.4 546.7 559.7C548.6 561.9 551.2 561.9 553.3 563C555.4 564.1 558.5 564.1 559.2 566.3C559.9 568.6 557.5 573 557.5 576.3C557.5 579.7 558.2 583.6 559.2 586.3C560.1 589.1 562.5 590.9 563.3 593C564.2 595.1 565 598.4 564.2 598.8C563.3 599.2 560.4 597 558.3 595.5C556.2 594 554.2 592 551.7 589.7C549.2 587.3 545.8 584.1 543.3 581.3C540.8 578.6 538.6 575.5 536.7 573C534.7 570.5 533.1 568.8 531.7 566.3C530.3 563.8 528.1 560.5 528.3 558Z"/><path d="M520 528L530.8 528C530.8 528 529.3 536.5 527.5 539.7C525.7 542.9 520 547.2 520 547.2L520 528Z"/><path d="M582.5 591.3C583.3 589.7 585.1 587.6 586.7 587.2C588.2 586.8 590.4 587.7 591.7 588.8C592.9 589.9 594.2 592 594.2 593.8C594.2 595.6 593.2 598.4 591.7 599.7C590.1 600.9 586.6 601.8 585 601.3C583.4 600.9 582.4 598.8 582 597.2C581.6 595.5 581.7 593 582.5 591.3Z"/><path d="M572.5 623C573.1 621.5 575 619.1 576.7 618.8C578.3 618.6 581.1 619.5 582.5 621.3C583.9 623.1 583.5 627.9 585 629.7C586.5 631.5 589.7 631.1 591.7 632.2C593.6 633.3 595.7 634.4 596.7 636.3C597.6 638.3 596.7 641.6 597.5 643.8C598.3 646.1 601.1 647.7 601.7 649.7C602.2 651.6 601.7 654.7 600.8 655.5C600 656.3 598.1 655.9 596.7 654.7C595.3 653.4 594 650.5 592.5 648C591 645.5 589 642.2 587.5 639.7C586 637.2 585.1 634.4 583.3 633C581.5 631.6 578.4 632.2 576.7 631.3C574.9 630.5 573.7 629.4 573 628C572.3 626.6 571.9 624.5 572.5 623Z"/><path d="M579.3 661.9C579.6 662.3 579.8 662.8 579.7 663.3C579.7 663.8 579.5 664.5 579.1 664.9C578.8 665.4 578.2 665.9 577.7 666.1C577.2 666.4 576.5 666.5 576 666.4C575.5 666.4 575 666.1 574.7 665.8C574.4 665.4 574.2 664.8 574.3 664.3C574.3 663.8 574.5 663.2 574.9 662.7C575.2 662.3 575.8 661.8 576.3 661.5C576.8 661.3 577.5 661.2 578 661.2C578.5 661.3 579 661.6 579.3 661.9Z"/><path d="M610.7 671.9C610.5 672.7 610 673.6 609.4 674.2C608.9 674.7 608.1 675.2 607.4 675.2C606.8 675.3 606 675.1 605.4 674.7C604.9 674.3 604.4 673.5 604.2 672.8C604 672 604.1 671 604.3 670.1C604.5 669.3 605 668.4 605.6 667.8C606.1 667.3 606.9 666.8 607.6 666.8C608.2 666.7 609 666.9 609.6 667.3C610.1 667.7 610.6 668.5 610.8 669.2C611 670 610.9 671 610.7 671.9Z"/><path d="M689.2 646.7C689.2 647.6 688.9 648.7 688.4 649.4C687.9 650.1 687.1 650.8 686.3 651.1C685.5 651.4 684.5 651.4 683.7 651.1C682.9 650.8 682.1 650.1 681.6 649.4C681.1 648.7 680.8 647.6 680.8 646.7C680.8 645.8 681.1 644.7 681.6 643.9C682.1 643.2 682.9 642.5 683.7 642.2C684.5 641.9 685.5 641.9 686.3 642.2C687.1 642.5 687.9 643.2 688.4 643.9C688.9 644.7 689.2 645.8 689.2 646.7Z"/><path d="M690 661.3C690.3 660.1 693.2 658.7 695 658.8C696.8 659 699 660.9 700.8 662.2C702.6 663.4 706 665.4 705.8 666.3C705.7 667.3 702.1 668 700 668C697.9 668 695 667.4 693.3 666.3C691.7 665.2 689.7 662.6 690 661.3Z"/><path d="M705.3 688C705.6 687 707.4 688.7 708.3 689.7C709.2 690.6 710.6 692.6 710.8 693.8C711.1 695.1 710.7 696.9 710 697.2C709.3 697.4 707.4 697 706.7 695.5C705.9 694 705.1 689 705.3 688Z"/><path d="M735.2 579C735 579.8 734.6 580.7 734.1 581.3C733.7 581.9 733 582.4 732.5 582.5C732 582.6 731.4 582.5 731 582.1C730.6 581.7 730.3 581 730.2 580.3C730.1 579.5 730.2 578.5 730.4 577.7C730.6 576.9 731.1 575.9 731.5 575.3C732 574.8 732.6 574.3 733.2 574.2C733.7 574 734.3 574.2 734.6 574.6C735 574.9 735.3 575.7 735.4 576.4C735.5 577.1 735.5 578.2 735.2 579Z"/><path d="M743.3 528L771.7 528C771.7 528 772.8 535.9 775 538C777.2 540.1 781.7 540.2 785 540.5C788.3 540.8 792.5 539.1 795 539.7C797.5 540.2 800.6 542.7 800 543.8C799.4 544.9 794.7 546.1 791.7 546.3C788.6 546.6 784.2 545.2 781.7 545.5C779.2 545.8 777.8 546.8 776.7 548C775.6 549.2 774.2 551.5 775 553C775.8 554.5 779.2 555.8 781.7 557.2C784.2 558.6 788.5 559.9 790 561.3C791.5 562.7 792.2 564.9 790.8 565.5C789.4 566.1 784.9 565.5 781.7 564.7C778.5 563.8 774.7 562.2 771.7 560.5C768.6 558.8 765.8 556.8 763.3 554.7C760.8 552.6 758.9 550.2 756.7 548C754.4 545.8 751.9 543.3 750 541.3C748.1 539.4 746.1 538.6 745 536.3C743.9 534.1 743.3 528 743.3 528Z"/><path d="M744.1 738.9C744.5 739.3 744.8 740 744.7 740.7C744.7 741.5 744.4 742.4 743.9 743.2C743.4 743.9 742.6 744.7 741.8 745.2C741.1 745.7 740.1 746 739.4 746.1C738.7 746.1 737.9 745.9 737.5 745.5C737.1 745.1 736.9 744.3 736.9 743.6C737 742.9 737.3 741.9 737.8 741.2C738.3 740.4 739.1 739.6 739.8 739.1C740.6 738.6 741.5 738.3 742.3 738.3C743 738.2 743.7 738.5 744.1 738.9Z"/><path d="M552.5 703C552.6 700.5 554 695.9 555 693C556 690.1 556.7 687.2 558.3 685.5C560 683.8 562.8 683 565 683C567.2 683 569.7 684.1 571.7 685.5C573.6 686.9 574.2 690.1 576.7 691.3C579.2 692.6 583.3 693.4 586.7 693C590 692.6 593.9 689.9 596.7 688.8C599.4 687.7 601.4 687.4 603.3 686.3C605.3 685.2 606.7 682.7 608.3 682.2C610 681.6 611.5 682 613.3 683C615.1 684 617.8 685.8 619.2 688C620.6 690.2 621.4 693.6 621.7 696.3C621.9 699.1 621.4 701.9 620.8 704.7C620.3 707.4 619 709.9 618.3 713C617.6 716.1 616.7 720.2 616.7 723C616.7 725.8 617.2 727.4 618.3 729.7C619.4 731.9 621.7 734.1 623.3 736.3C625 738.6 626.9 740.8 628.3 743C629.7 745.2 630.8 747.4 631.7 749.7C632.5 751.9 631.9 754.2 633.3 756.3C634.7 758.4 638.1 761.5 640 762.2C641.9 762.9 643.6 761.5 645 760.5C646.4 759.5 647.1 758.1 648.3 756.3C649.6 754.5 651.9 752.4 652.5 749.7C653.1 746.9 651 742.7 651.7 739.7C652.4 736.6 655 733.6 656.7 731.3C658.3 729.1 660.3 728.6 661.7 726.3C663.1 724.1 663.9 720.5 665 718C666.1 715.5 667.8 713.6 668.3 711.3C668.9 709.1 668.6 707.2 668.3 704.7C668.1 702.2 666.4 698.8 666.7 696.3C666.9 693.8 668.3 691.6 670 689.7C671.7 687.7 675 684.7 676.7 684.7C678.3 684.7 678.6 687.4 680 689.7C681.4 691.9 683.8 695.8 685 698C686.2 700.2 687.2 700.5 687.5 703C687.8 705.5 686.9 710.2 686.7 713C686.4 715.8 686.7 717.4 685.8 719.7C685 721.9 682.6 724.4 681.7 726.3C680.7 728.3 681.1 729.8 680 731.3C678.9 732.9 676.4 734.2 675 735.5C673.6 736.8 671.1 737.6 671.7 738.8C672.2 740.1 676.1 741.2 678.3 743C680.6 744.8 683.1 747.6 685 749.7C686.9 751.8 688.3 754.5 690 755.5C691.7 756.5 693.5 756.2 695 755.5C696.5 754.8 698.9 753.4 699.2 751.3C699.4 749.2 697.4 745.5 696.7 743C696 740.5 695.6 738.4 695 736.3C694.4 734.2 692.8 731.1 693.3 730.5C693.9 729.9 696.7 731.8 698.3 733C700 734.2 701.7 736.3 703.3 738C705 739.7 706.4 741.6 708.3 743C710.3 744.4 712.5 745.5 715 746.3C717.5 747.2 721.4 746.9 723.3 748C725.3 749.1 726.1 750.8 726.7 753C727.2 755.2 727.1 758.8 726.7 761.3C726.2 763.8 725.1 766.1 724.2 768C723.2 769.9 722.6 771.3 720.8 773C719 774.7 716 776.9 713.3 778C710.7 779.1 707.8 779.4 705 779.7C702.2 779.9 698.9 779.1 696.7 779.7C694.4 780.2 691.7 783 691.7 783L591.7 783C591.7 783 592.2 779.7 593.3 778C594.4 776.3 596.7 774.4 598.3 773C600 771.6 601.9 771.1 603.3 769.7C604.7 768.3 606.7 766.6 606.7 764.7C606.7 762.7 605 759.9 603.3 758C601.7 756.1 598.9 753.6 596.7 753C594.4 752.4 592.2 754.5 590 754.7C587.8 754.8 585.1 754.4 583.3 753.8C581.5 753.3 579.2 752.3 579.2 751.3C579.2 750.4 581.8 749.1 583.3 748C584.9 746.9 587.6 746.3 588.3 744.7C589 743 587.5 740.5 587.5 738C587.5 735.5 587.2 731.6 588.3 729.7C589.4 727.7 593.1 728 594.2 726.3C595.3 724.7 595.1 721.9 595 719.7C594.9 717.4 594.4 714.5 593.3 713C592.2 711.5 590.6 710.5 588.3 710.5C586.1 710.5 582.8 712.4 580 713C577.2 713.6 574.4 714.2 571.7 713.8C568.9 713.4 566.2 711.5 563.3 710.5C560.4 709.5 556 709.2 554.2 708C552.4 706.8 552.4 705.5 552.5 703Z"/><path d="M799.2 543C799.2 543.5 798.9 544 798.5 544.4C798.1 544.7 797.5 545.1 796.9 545.2C796.2 545.4 795.4 545.4 794.8 545.2C794.2 545.1 793.5 544.7 793.1 544.4C792.8 544 792.5 543.5 792.5 543C792.5 542.5 792.8 542 793.1 541.6C793.5 541.3 794.2 540.9 794.8 540.8C795.4 540.6 796.2 540.6 796.9 540.8C797.5 540.9 798.1 541.3 798.5 541.6C798.9 542 799.2 542.5 799.2 543Z"/><path d="M270.8 773L291.7 773C291.7 773 290.6 780.4 289.2 783C287.8 785.6 285.7 787.6 283.3 788.8C281 790.1 277.5 789.2 275 790.5C272.5 791.8 270.3 795.6 268.3 796.3C266.4 797 264 795.8 263.3 794.7C262.6 793.6 263.3 791.3 264.2 789.7C265 788 267.2 787.4 268.3 784.7C269.4 781.9 270.8 773 270.8 773Z"/><path d="M313.3 805.5C315.3 804.2 317.8 803.6 320 803.8C322.2 804.1 324.4 805.6 326.7 807.2C328.9 808.7 331.7 810.9 333.3 813C335 815.1 336.2 817.4 336.7 819.7C337.1 821.9 336.7 824.4 335.8 826.3C335 828.3 331.8 829.9 331.7 831.3C331.5 832.7 333.6 833.1 335 834.7C336.4 836.2 338.5 838.6 340 840.5C341.5 842.4 343.5 844.5 344.2 846.3C344.9 848.1 345.1 850.5 344.2 851.3C343.2 852.2 340.4 851.1 338.3 851.3C336.2 851.6 333.9 852.6 331.7 853C329.4 853.4 326.9 854.4 325 853.8C323.1 853.3 321.5 850.2 320 849.7C318.5 849.1 316.4 849.5 315.8 850.5C315.3 851.5 315.7 853.8 316.7 855.5C317.6 857.2 320.8 858.4 321.7 860.5C322.5 862.6 322.2 865.4 321.7 868C321.1 870.6 319.6 874.1 318.3 876.3C317.1 878.6 315 879.4 314.2 881.3C313.3 883.3 312.8 886.3 313.3 888C313.9 889.7 317.2 889.9 317.5 891.3C317.8 892.7 316 894.8 315 896.3C314 897.9 313.3 899.5 311.7 900.5C310 901.5 307.2 901.8 305 902.2C302.8 902.6 298.6 902.2 298.3 903C298.1 903.8 301.1 906.3 303.3 907.2C305.6 908 309.6 907.3 311.7 908C313.8 908.7 314.7 909.7 315.8 911.3C316.9 913 316.8 916.3 318.3 918C319.9 919.7 323.6 919.7 325 921.3C326.4 923 325.6 926.1 326.7 928C327.8 929.9 330.1 931.9 331.7 933C333.2 934.1 334.2 934.8 335.8 934.7C337.5 934.5 339.6 933.3 341.7 932.2C343.8 931.1 346.4 929.2 348.3 928C350.3 926.8 351.9 926.1 353.3 924.7C354.7 923.3 355 920.4 356.7 919.7C358.3 919 362.8 919.4 363.3 920.5C363.9 921.6 361.7 924.8 360 926.3C358.3 927.9 355.6 928.6 353.3 929.7C351.1 930.8 348.9 931.8 346.7 933C344.4 934.2 341.4 935.2 340 937.2C338.6 939.1 338.5 942.3 338.3 944.7C338.2 947 339.7 949.4 339.2 951.3C338.6 953.3 336.8 954.9 335 956.3C333.2 957.7 330 958.3 328.3 959.7C326.7 961.1 326.2 962.7 325 964.7C323.8 966.6 322.4 969.7 320.8 971.3C319.3 973 317.5 974.5 315.8 974.7C314.2 974.8 312.2 973.6 310.8 972.2C309.4 970.8 308.2 968.4 307.5 966.3C306.8 964.2 307.6 961.6 306.7 959.7C305.7 957.7 303.3 956.3 301.7 954.7C300 953 297.8 951.3 296.7 949.7C295.6 948 294.7 946.6 295 944.7C295.3 942.7 297.5 940.2 298.3 938C299.2 935.8 299.4 933.6 300 931.3C300.6 929.1 301.5 927.2 301.7 924.7C301.8 922.2 301.9 918.8 300.8 916.3C299.7 913.8 296.5 911.3 295 909.7C293.5 908 292.8 907.7 291.7 906.3C290.6 904.9 289.7 903.3 288.3 901.3C286.9 899.4 285 896.1 283.3 894.7C281.7 893.3 279.7 892.4 278.3 893C276.9 893.6 276 896.5 275 898C274 899.5 272.5 900.2 272.5 902.2C272.5 904.1 273.8 907 275 909.7C276.2 912.3 278.8 915.2 280 918C281.2 920.8 281.9 923.6 282.5 926.3C283.1 929.1 283.2 931.9 283.3 934.7C283.5 937.4 283.9 940.5 283.3 943C282.8 945.5 280.6 947.6 280 949.7C279.4 951.8 280.8 953.6 280 955.5C279.2 957.4 276.5 959.5 275 961.3C273.5 963.1 271.7 964.4 270.8 966.3C270 968.3 270.3 970.8 270 973C269.7 975.2 270 977.4 269.2 979.7C268.3 981.9 266.5 984.8 265 986.3C263.5 987.9 261.1 989.4 260 988.8C258.9 988.3 258.5 985.6 258.3 983C258.2 980.4 258.9 976.1 259.2 973C259.4 969.9 260.7 967.4 260 964.7C259.3 961.9 256.7 958.3 255 956.3C253.3 954.4 251.8 953.4 250 953C248.2 952.6 245.1 954.7 244.2 953.8C243.2 953 243.2 949.2 244.2 948C245.1 946.8 248.3 947.7 250 946.3C251.7 944.9 253.3 942.2 254.2 939.7C255 937.2 255.7 933.6 255 931.3C254.3 929.1 251 928.3 250 926.3C249 924.4 248.6 921.9 249.2 919.7C249.7 917.4 251.5 914.9 253.3 913C255.1 911.1 258.5 909.9 260 908C261.5 906.1 262.2 903.6 262.5 901.3C262.8 899.1 263.2 896.2 261.7 894.7C260.1 893.1 255 893.8 253.3 892.2C251.7 890.5 251.7 887 251.7 884.7C251.7 882.3 252.2 880.2 253.3 878C254.4 875.8 257.1 873.6 258.3 871.3C259.6 869.1 260.6 867.2 260.8 864.7C261.1 862.2 259.4 859.1 260 856.3C260.6 853.6 263.5 850.5 264.2 848C264.9 845.5 264.6 843.3 264.2 841.3C263.8 839.4 261.2 837.6 261.7 836.3C262.1 835.1 264.7 834.7 266.7 833.8C268.6 833 271.1 832.6 273.3 831.3C275.6 830.1 278.1 827.9 280 826.3C281.9 824.8 282.8 822.6 285 822.2C287.2 821.8 291.1 823 293.3 823.8C295.6 824.7 296.7 826.9 298.3 827.2C300 827.4 301.8 825.5 303.3 825.5C304.9 825.5 306.8 828.1 307.5 827.2C308.2 826.2 307.4 822.3 307.5 819.7C307.6 817 307.4 813.7 308.3 811.3C309.3 809 311.4 806.8 313.3 805.5Z"/><path d="M331.7 909.7C331.8 907.2 334.2 903.6 335.8 901.3C337.5 899.1 339.7 896.6 341.7 896.3C343.6 896.1 346.4 897.7 347.5 899.7C348.6 901.6 348.8 905.2 348.3 908C347.9 910.8 346 914.1 345 916.3C344 918.6 343.6 920.3 342.5 921.3C341.4 922.4 339.6 923.5 338.3 922.7C337.1 921.8 336.1 918.5 335 916.3C333.9 914.2 331.5 912.2 331.7 909.7Z"/><path d="M428.3 773L480 773C480 773 479 781.1 478.3 784.7C477.6 788.3 475.8 791.3 475.8 794.7C475.8 798 477.2 801.3 478.3 804.7C479.4 808 481.4 811.6 482.5 814.7C483.6 817.7 483.2 820.8 485 823C486.8 825.2 490.6 827 493.3 828C496.1 829 499.9 827.7 501.7 828.8C503.5 829.9 504.7 833.6 504.2 834.7C503.6 835.8 500.4 834.7 498.3 835.5C496.2 836.3 492.5 837.6 491.7 839.7C490.8 841.8 492.6 845.4 493.3 848C494 850.6 496.2 854.4 495.8 855.5C495.4 856.6 492.6 856.2 490.8 854.7C489 853.1 486.8 847.2 485 846.3C483.2 845.5 481.1 848 480 849.7C478.9 851.3 479.3 854.7 478.3 856.3C477.4 858 474.2 858.3 474.2 859.7C474.2 861.1 476.2 863.3 478.3 864.7C480.4 866.1 483.3 867.7 486.7 868C490 868.3 494.7 866.2 498.3 866.3C501.9 866.5 505 867.7 508.3 868.8C511.7 869.9 515.6 872.7 518.3 873C521.1 873.3 523.9 870.4 525 870.5C526.1 870.6 526.1 872.6 525 873.8C523.9 875.1 521.1 877 518.3 878C515.6 879 511.4 878.6 508.3 879.7C505.3 880.8 502.2 883.7 500 884.7C497.8 885.6 496.9 886.6 495 885.5C493.1 884.4 490.6 879 488.3 878C486.1 877 483.6 878.3 481.7 879.7C479.7 881.1 478.6 885.9 476.7 886.3C474.7 886.8 471.9 882.9 470 882.2C468.1 881.5 466.7 881.8 465 882.2C463.3 882.6 461.9 885.6 460 884.7C458.1 883.7 455.6 878 453.3 876.3C451.1 874.7 448.9 874.4 446.7 874.7C444.4 874.9 441.7 876.3 440 878C438.3 879.7 437.8 883 436.7 884.7C435.6 886.3 434 886.3 433.3 888C432.6 889.7 434.2 893.6 432.5 894.7C430.8 895.8 424.9 896.1 423.3 894.7C421.8 893.3 422.8 888 423.3 886.3C423.9 884.7 425.4 886.1 426.7 884.7C427.9 883.3 431 879.7 430.8 878C430.7 876.3 427.8 875.8 425.8 874.7C423.9 873.6 420.3 873 419.2 871.3C418.1 869.7 419.9 866.6 419.2 864.7C418.5 862.7 415.1 861.1 415 859.7C414.9 858.3 418.1 858 418.3 856.3C418.6 854.7 416.1 851.6 416.7 849.7C417.2 847.7 420.7 847.2 421.7 844.7C422.6 842.2 421.8 837.7 422.5 834.7C423.2 831.6 425.1 830.2 425.8 826.3C426.5 822.4 427.1 814.9 426.7 811.3C426.2 807.7 424.6 807.2 423.3 804.7C422.1 802.2 419.4 798.8 419.2 796.3C418.9 793.8 420.6 791.6 421.7 789.7C422.8 787.7 424.7 787.4 425.8 784.7C426.9 781.9 428.3 773 428.3 773Z"/><path d="M530 787.2C530 787.2 524 786.3 521.7 787.2C519.3 788 517.2 790.1 515.8 792.2C514.4 794.2 514.3 797.3 513.3 799.7C512.4 802 511.7 804.4 510 806.3C508.3 808.3 505.6 809.7 503.3 811.3C501.1 813 497.6 814.4 496.7 816.3C495.7 818.3 496.4 821.3 497.5 823C498.6 824.7 500.7 825.8 503.3 826.3C506 826.9 510 827 513.3 826.3C516.7 825.6 520.6 823.6 523.3 822.2C526.1 820.8 530 818 530 818L530 787.2Z"/><path d="M271.7 998C272.6 995.8 275 994.7 276.7 994.7C278.3 994.7 280.6 995.8 281.7 998C282.8 1000.2 282.8 1004.7 283.3 1008C283.9 1011.3 284.6 1014.7 285 1018C285.4 1021.3 285.8 1028 285.8 1028L275 1028C275 1028 273.2 1021.3 272.5 1018C271.8 1014.7 271 1011.3 270.8 1008C270.7 1004.7 270.7 1000.2 271.7 998Z"/><path d="M319.2 991.3C318.9 992.1 318.4 992.9 317.9 993.4C317.5 994 316.8 994.4 316.3 994.5C315.8 994.6 315.3 994.4 315 994C314.6 993.6 314.4 992.9 314.4 992.2C314.4 991.4 314.5 990.5 314.8 989.7C315.1 988.9 315.6 988.1 316.1 987.6C316.5 987 317.2 986.6 317.7 986.5C318.2 986.4 318.7 986.6 319 987C319.4 987.4 319.6 988.1 319.6 988.8C319.6 989.6 319.5 990.5 319.2 991.3Z"/><path d="M328.3 991.3C328.9 989.9 333.9 987.4 335 988C336.1 988.6 335.6 993.2 335 994.7C334.4 996.1 332.8 997.2 331.7 996.7C330.6 996.1 327.8 992.8 328.3 991.3Z"/><path d="M755 996.2C755 994.3 755.9 992.1 756.7 991C757.4 989.9 758.2 989.2 759.3 989.7C760.5 990.1 762.2 992.1 763.7 993.7C765.1 995.2 766.7 997.1 768 998.8C769.3 1000.6 770.9 1002.3 771.5 1004C772.1 1005.7 771.9 1007.9 771.5 1009.2C771.1 1010.5 769.9 1011.5 768.8 1011.8C767.8 1012.1 766.6 1011.9 765.3 1011C764 1010.1 762.4 1008.1 761 1006.7C759.6 1005.2 757.7 1004.1 756.7 1002.3C755.7 1000.6 755 998.1 755 996.2Z"/><path d="M738.5 975.3C738.8 974.6 739.8 974 740.7 974.2C741.5 974.3 742.9 975.4 743.7 976.3C744.4 977.2 744.8 978.4 745 979.7C745.2 980.9 745.2 982.8 744.7 983.7C744.2 984.6 742.8 985.1 742 985C741.2 984.9 740.3 983.9 739.8 982.8C739.3 981.8 739.2 980.1 739 978.8C738.8 977.6 738.2 976.1 738.5 975.3Z"/><path d="M696.5 911.3C696.6 909.2 698 907.2 699.5 906C701 904.8 703.5 904.3 705.7 904.3C707.8 904.3 710.2 905.1 712.5 906C714.8 906.9 717.5 907.9 719.5 909.5C721.5 911.1 723.7 913.5 724.7 915.7C725.7 917.8 725.8 920.6 725.5 922.5C725.2 924.4 724.3 926 723 926.8C721.7 927.6 719.6 927.6 717.7 927.3C715.8 927.1 713.8 926.1 711.7 925.2C709.5 924.2 706.8 922.7 704.7 921.7C702.5 920.6 700 920.7 698.7 919C697.3 917.3 696.4 913.5 696.5 911.3Z"/><path d="M593.3 773C593.3 773 590.3 778.1 588.3 779.7C586.4 781.2 583.5 780.9 581.7 782.2C579.9 783.4 578.1 785.1 577.5 787.2C576.9 789.2 578.8 792 578.3 794.7C577.9 797.3 575.8 800.5 575 803C574.2 805.5 573.1 807.9 573.3 809.7C573.6 811.5 575.1 812.9 576.7 813.8C578.2 814.8 581.7 814.5 582.5 815.5C583.3 816.5 582.9 818.3 581.7 819.7C580.4 821.1 576.5 822.6 575 823.8C573.5 825.1 571.9 826.5 572.5 827.2C573.1 827.9 576 828.7 578.3 828C580.7 827.3 584.4 824.7 586.7 823C588.9 821.3 590 819.5 591.7 818C593.3 816.5 595 815.4 596.7 813.8C598.3 812.3 600.7 808.7 601.7 808.8C602.6 809 602.2 812.6 602.5 814.7C602.8 816.8 602.4 819.5 603.3 821.3C604.3 823.1 606.5 824.4 608.3 825.5C610.1 826.6 613.1 826.9 614.2 828C615.3 829.1 615.7 830.9 615 832.2C614.3 833.4 611.4 834 610 835.5C608.6 837 607.8 839.5 606.7 841.3C605.6 843.1 604.4 844.7 603.3 846.3C602.2 848 600.7 848.8 600 851.3C599.3 853.8 599 858.3 599.2 861.3C599.3 864.4 600.4 866.9 600.8 869.7C601.2 872.4 601.7 875.2 601.7 878C601.7 880.8 600.6 883.8 600.8 886.3C601.1 888.8 602.1 891.1 603.3 893C604.6 894.9 606.9 896.6 608.3 898C609.7 899.4 610.4 901.1 611.7 901.3C612.9 901.6 614.9 901.1 615.8 899.7C616.8 898.3 617.1 895.2 617.5 893C617.9 890.8 617.6 888.6 618.3 886.3C619 884.1 620.6 881.9 621.7 879.7C622.8 877.4 623.9 874.9 625 873C626.1 871.1 626.9 869.2 628.3 868C629.7 866.8 631.4 866.1 633.3 865.5C635.3 864.9 638.9 865.9 640 864.7C641.1 863.4 639.9 860.2 640 858C640.1 855.8 640.6 853.6 640.8 851.3C641.1 849.1 641.8 847.2 641.7 844.7C641.5 842.2 640.1 839.1 640 836.3C639.9 833.6 640 830.1 640.8 828C641.7 825.9 642.9 824.9 645 823.8C647.1 822.7 650.8 822.2 653.3 821.3C655.8 820.5 658.8 820.1 660 818.8C661.2 817.6 661.1 815.2 660.8 813.8C660.6 812.4 657.9 811.3 658.3 810.5C658.8 809.7 661.7 808.4 663.3 808.8C665 809.2 667.2 810.9 668.3 813C669.4 815.1 669.7 818.6 670 821.3C670.3 824.1 669.7 827.2 670 829.7C670.3 832.2 671 834.1 671.7 836.3C672.4 838.6 673.6 840.5 674.2 843C674.7 845.5 674.7 848.3 675 851.3C675.3 854.4 676.1 858.6 675.8 861.3C675.6 864.1 674.6 866.1 673.3 868C672.1 869.9 670 871.3 668.3 873C666.7 874.7 664.4 876.1 663.3 878C662.2 879.9 661.8 882.4 661.7 884.7C661.5 886.9 661.7 889.4 662.5 891.3C663.3 893.3 665.6 895.1 666.7 896.3C667.8 897.6 668.3 899.4 669.2 898.8C670 898.3 670.7 895.1 671.7 893C672.6 890.9 674 888.8 675 886.3C676 883.8 676.7 880.2 677.5 878C678.3 875.8 679 874.9 680 873C681 871.1 682.5 868.6 683.3 866.3C684.2 864.1 683.9 861.9 685 859.7C686.1 857.4 689 854.9 690 853C691 851.1 691.1 849.9 690.8 848C690.6 846.1 689.3 843.8 688.3 841.3C687.4 838.8 685.4 835.8 685 833C684.6 830.2 685.8 827.2 685.8 824.7C685.8 822.2 684.4 820.2 685 818C685.6 815.8 687.9 813.6 689.2 811.3C690.4 809.1 691.8 806.9 692.5 804.7C693.2 802.4 693.3 799.9 693.3 798C693.3 796.1 691.9 794.8 692.5 793C693.1 791.2 695.1 788.7 696.7 787.2C698.2 785.6 699.7 784.7 701.7 783.8C703.6 783 705.8 782.9 708.3 782.2C710.8 781.5 714.7 781.2 716.7 779.7C718.6 778.1 720 773 720 773L593.3 773Z"/><path d="M520 788C520 788 528.6 789.4 531.7 790.5C534.7 791.6 536.1 792.7 538.3 794.7C540.6 796.6 544.6 799.9 545 802.2C545.4 804.4 542.5 806.8 540.8 808C539.2 809.2 536.5 808.8 535 809.7C533.5 810.5 533.3 811.3 531.7 813C530 814.7 525 819.7 525 819.7L520 819.7L520 788Z"/><path d="M698.3 831.3C699.3 829.8 701.7 827.7 703.3 827.2C705 826.6 707.2 826.8 708.3 828C709.4 829.2 709.4 832.4 710 834.7C710.6 836.9 710.6 839.7 711.7 841.3C712.8 843 716.4 843 716.7 844.7C716.9 846.3 714.7 849.9 713.3 851.3C711.9 852.7 709.9 853.3 708.3 853C706.8 852.7 705.4 851.3 704.2 849.7C702.9 848 701.9 845.2 700.8 843C699.7 840.8 697.9 838.3 697.5 836.3C697.1 834.4 697.4 832.9 698.3 831.3Z"/><path d="M648.5 892.2C648.5 892.6 648.4 893.2 648.3 893.5C648.2 893.9 648 894.2 647.8 894.4C647.6 894.5 647.4 894.5 647.2 894.4C647 894.2 646.8 893.9 646.7 893.5C646.6 893.2 646.5 892.6 646.5 892.2C646.5 891.7 646.6 891.2 646.7 890.8C646.8 890.4 647 890.1 647.2 889.9C647.4 889.8 647.6 889.8 647.8 889.9C648 890.1 648.2 890.4 648.3 890.8C648.4 891.2 648.5 891.7 648.5 892.2Z"/><path d="M655.7 906.3C655.7 906.7 655.5 907.2 655.2 907.5C655 907.8 654.5 908.1 654.1 908.2C653.6 908.4 653 908.4 652.6 908.2C652.2 908.1 651.7 907.8 651.4 907.5C651.2 907.2 651 906.7 651 906.3C651 905.9 651.2 905.5 651.4 905.2C651.7 904.8 652.2 904.6 652.6 904.4C653 904.3 653.6 904.3 654.1 904.4C654.5 904.6 655 904.8 655.2 905.2C655.5 905.5 655.7 905.9 655.7 906.3Z"/><path d="M578.3 919.7C579.2 919.1 581.1 921.3 583.3 921.3C585.6 921.3 588.6 920.4 591.7 919.7C594.7 919 598.6 917.6 601.7 917.2C604.7 916.8 607.6 917.6 610 917.2C612.4 916.8 614.2 916.3 615.8 914.7C617.5 913 618.5 909.2 620 907.2C621.5 905.1 623.1 903.3 625 902.2C626.9 901.1 629.7 900.2 631.7 900.5C633.6 900.8 635.6 902 636.7 903.8C637.8 905.6 638.2 908.7 638.3 911.3C638.5 914 638.3 917.3 637.5 919.7C636.7 922 635.1 923.7 633.3 925.5C631.5 927.3 629.2 929.4 626.7 930.5C624.2 931.6 620.8 932.2 618.3 932.2C615.8 932.2 613.6 931.2 611.7 930.5C609.7 929.8 608.3 928.3 606.7 928C605 927.7 603.3 928 601.7 928.8C600 929.7 598.3 931.6 596.7 933C595 934.4 593.6 936.2 591.7 937.2C589.7 938.1 586.9 938.4 585 938.8C583.1 939.2 580.8 940.5 580 939.7C579.2 938.8 579.7 935.8 580 933.8C580.3 931.9 581.9 929.5 581.7 928C581.4 926.5 578.9 926.1 578.3 924.7C577.8 923.3 577.5 920.2 578.3 919.7Z"/><path d="M649.2 932.7C649.7 931.6 654.3 927.9 656.7 926.3C659 924.7 661.1 923.8 663.3 923C665.6 922.2 668.1 922 670 921.3C671.9 920.6 673.1 919.4 675 918.8C676.9 918.3 679.7 917.4 681.7 918C683.6 918.6 685.7 920.8 686.7 922.2C687.6 923.6 688.1 924.9 687.5 926.3C686.9 927.7 684.9 929.5 683.3 930.5C681.8 931.5 680.3 932.2 678.3 932.2C676.4 932.2 673.9 930.9 671.7 930.5C669.4 930.1 667.2 929.7 665 929.7C662.8 929.7 660.3 930 658.3 930.5C656.4 931 654.9 932.3 653.3 932.7C651.8 933 648.6 933.7 649.2 932.7Z"/><path d="M621.7 940.5C623.3 939.2 623.8 938.4 625 938.8C626.2 939.2 629.2 941.2 629.2 943C629.2 944.8 625.8 947.2 625 949.7C624.2 952.2 624.7 955.2 624.2 958C623.6 960.8 621.9 963.7 621.7 966.3C621.4 969 621.7 971.9 622.5 973.8C623.3 975.8 626.8 976.8 626.7 978C626.5 979.2 623.2 980.2 621.7 981.3C620.1 982.4 618.5 983 617.5 984.7C616.5 986.3 616.8 989.8 615.8 991.3C614.9 992.9 613.2 993.6 611.7 993.8C610.1 994.1 608.6 993 606.7 993C604.7 993 601.9 993.3 600 993.8C598.1 994.4 596.7 995.6 595 996.3C593.3 997 591.7 996.9 590 998C588.3 999.1 586.1 1000.8 585 1003C583.9 1005.2 583.2 1008.8 583.3 1011.3C583.5 1013.8 585.6 1015.8 585.8 1018C586.1 1020.2 585.7 1023.3 585 1024.7C584.3 1026.1 582.9 1026.9 581.7 1026.3C580.4 1025.8 578.6 1023 577.5 1021.3C576.4 1019.7 574.7 1018.6 575 1016.3C575.3 1014.1 577.9 1010.8 579.2 1008C580.4 1005.2 581 1001.9 582.5 999.7C584 997.4 586.2 996.1 588.3 994.7C590.4 993.3 593.1 992.7 595 991.3C596.9 989.9 599 988.3 600 986.3C601 984.4 601.7 981.3 600.8 979.7C600 978 596.9 977.4 595 976.3C593.1 975.2 589.4 974.4 589.2 973C588.9 971.6 591.5 969.7 593.3 968C595.1 966.3 597.8 964.7 600 963C602.2 961.3 605 959.9 606.7 958C608.3 956.1 608.6 953.3 610 951.3C611.4 949.4 613.1 948.1 615 946.3C616.9 944.5 620 941.8 621.7 940.5Z"/><path d="M629.2 1003C629.6 1001.9 631 1000.5 632.5 1000.5C634 1000.5 636.7 1001.8 638.3 1003C640 1004.2 642.5 1006.3 642.5 1008C642.5 1009.7 639.9 1012.6 638.3 1013C636.8 1013.4 634.7 1011.5 633.3 1010.5C631.9 1009.5 630.7 1008.4 630 1007.2C629.3 1005.9 628.8 1004.1 629.2 1003Z"/><path d="M689.2 975.5C689.5 975.2 690.8 975.5 691.7 976.3C692.5 977.2 694.2 979.7 694.2 980.5C694.2 981.3 692.4 981.4 691.7 981C690.9 980.6 690.1 978.9 689.7 978C689.2 977.1 688.8 975.8 689.2 975.5Z"/><path d="M649 1022.7C649 1023 648.8 1023.4 648.6 1023.6C648.4 1023.9 648 1024.2 647.6 1024.3C647.2 1024.4 646.8 1024.4 646.4 1024.3C646 1024.2 645.6 1023.9 645.4 1023.6C645.2 1023.4 645 1023 645 1022.7C645 1022.3 645.2 1022 645.4 1021.7C645.6 1021.4 646 1021.2 646.4 1021.1C646.8 1021 647.2 1021 647.6 1021.1C648 1021.2 648.4 1021.4 648.6 1021.7C648.8 1022 649 1022.3 649 1022.7Z"/><path d="M661.7 1028C661.7 1028 663.6 1023.8 665 1023.8C666.4 1023.8 670 1028 670 1028L661.7 1028Z"/><path d="M275.8 1018L285.8 1018C285.8 1018 286.5 1026.8 287.5 1029.7C288.5 1032.6 290.6 1033.6 291.7 1035.5C292.8 1037.4 293.9 1039.4 294.2 1041.3C294.4 1043.3 294.2 1046.2 293.3 1047.2C292.5 1048.1 290.6 1048.1 289.2 1047.2C287.8 1046.2 286.4 1043.3 285 1041.3C283.6 1039.4 282.1 1037.7 280.8 1035.5C279.6 1033.3 278.3 1030.9 277.5 1028C276.7 1025.1 275.8 1018 275.8 1018Z"/><path d="M353.3 1066.3C354 1065.1 356.1 1063.7 358.3 1063C360.6 1062.3 364.6 1062 366.7 1062.2C368.7 1062.3 370.7 1062.7 370.8 1063.8C371 1064.9 368.2 1067 367.5 1068.8C366.8 1070.6 367.5 1073.3 366.7 1074.7C365.8 1076.1 364 1077.2 362.5 1077.2C361 1077.2 358.9 1075.8 357.5 1074.7C356.1 1073.6 354.9 1071.9 354.2 1070.5C353.5 1069.1 352.6 1067.6 353.3 1066.3Z"/><path d="M365 1047.7C365.1 1047.1 368.6 1046.7 369.2 1047.2C369.8 1047.6 369.4 1050.4 368.7 1050.5C368 1050.6 364.9 1048.2 365 1047.7Z"/><path d="M316.3 1076.3C316.5 1075.1 318.6 1073.7 320 1073.8C321.4 1074 323.8 1075.8 325 1077.2C326.2 1078.6 327.3 1081.1 327 1082.2C326.7 1083.3 324.6 1084 323.3 1083.8C322 1083.7 320.3 1082.6 319.2 1081.3C318 1080.1 316.2 1077.6 316.3 1076.3Z"/><path d="M414.2 1111.3C414.4 1109.9 415.7 1108.3 416.7 1107.2C417.6 1106 418.6 1104.1 419.7 1104.3C420.8 1104.6 422.3 1106.8 423.3 1108.8C424.4 1110.8 425.8 1114.8 425.8 1116.3C425.8 1117.9 424.4 1118.5 423.3 1118.3C422.2 1118.2 420.6 1116 419.2 1115.5C417.8 1115 415.8 1116.2 415 1115.5C414.2 1114.8 413.9 1112.7 414.2 1111.3Z"/><path d="M284.2 1104.7C285 1102.7 287.5 1102.1 289.2 1101.3C290.8 1100.6 293.2 1099.7 294.2 1100C295.1 1100.3 295.6 1101.4 295 1103C294.4 1104.6 291.8 1107.4 290.8 1109.7C289.9 1111.9 289 1114.1 289.2 1116.3C289.3 1118.6 291.4 1120.5 291.7 1123C291.9 1125.5 290.8 1128.1 290.8 1131.3C290.8 1134.5 292.1 1140.3 291.7 1142.2C291.2 1144.1 289.3 1143.9 288.3 1142.7C287.4 1141.4 286.8 1137.1 285.8 1134.7C284.9 1132.2 283.1 1130.2 282.5 1128C281.9 1125.8 281.7 1123.8 282 1121.3C282.3 1118.8 283.8 1115.8 284.2 1113C284.5 1110.2 283.3 1106.6 284.2 1104.7Z"/><path d="M304.2 1121.3C304.8 1119.1 307.1 1116.6 308.3 1116.3C309.6 1116.1 311 1117.7 311.7 1119.7C312.4 1121.6 311.4 1126.6 312.5 1128C313.6 1129.4 316.2 1128.1 318.3 1128C320.4 1127.9 322.8 1126.9 325 1127.2C327.2 1127.4 330 1128.1 331.7 1129.7C333.3 1131.2 333.9 1134.1 335 1136.3C336.1 1138.6 337.8 1140.2 338.3 1143C338.9 1145.8 337.9 1150.2 338.3 1153C338.8 1155.8 341.4 1158.1 340.8 1159.7C340.3 1161.2 337.1 1161.2 335 1162.2C332.9 1163.1 330.6 1164 328.3 1165.5C326.1 1167 323.8 1169.2 321.7 1171.3C319.6 1173.4 317.8 1176.1 315.8 1178C313.9 1179.9 311.8 1181.3 310 1183C308.2 1184.7 306.9 1186.6 305 1188C303.1 1189.4 300.3 1190.8 298.3 1191.3C296.4 1191.9 294.6 1192.3 293.3 1191.3C292.1 1190.4 291 1187.4 290.8 1185.5C290.7 1183.6 291.5 1181.5 292.5 1179.7C293.5 1177.9 295.4 1176.5 296.7 1174.7C297.9 1172.9 299.9 1170.6 300 1168.8C300.1 1167 297.4 1165.9 297.5 1163.8C297.6 1161.8 299.7 1158.7 300.8 1156.3C301.9 1154 303.5 1152.4 304.2 1149.7C304.9 1146.9 304.9 1143 305 1139.7C305.1 1136.3 304.8 1132.7 304.7 1129.7C304.5 1126.6 303.6 1123.6 304.2 1121.3Z"/><path d="M377.5 1137.2C378.5 1135.7 380.7 1134 383.3 1133.3C386 1132.6 390.7 1132.6 393.3 1133C396 1133.4 397.9 1133.8 399.2 1135.5C400.4 1137.2 400 1140.9 400.8 1143C401.7 1145.1 402.9 1146.1 404.2 1148C405.4 1149.9 406.8 1152.4 408.3 1154.7C409.9 1156.9 411.4 1159.4 413.3 1161.3C415.3 1163.3 417.8 1164.4 420 1166.3C422.2 1168.3 424.9 1170.8 426.7 1173C428.5 1175.2 429.9 1177.3 430.8 1179.7C431.8 1182 431.2 1184.9 432.5 1187.2C433.8 1189.4 436.8 1190.9 438.3 1193C439.9 1195.1 441 1197.4 441.7 1199.7C442.4 1201.9 442.1 1204.5 442.5 1206.3C442.9 1208.1 444.9 1210.2 444.2 1210.5C443.5 1210.8 440.3 1208.3 438.3 1208.3C436.4 1208.3 432.9 1209.2 432.5 1210.5C432.1 1211.8 434.6 1213.4 435.8 1216.3C437.1 1219.2 447.4 1226.1 440 1228C432.6 1229.9 398.9 1229.9 391.7 1228C384.4 1226.1 395.6 1219.7 396.7 1216.3C397.8 1213 398.5 1210.8 398.3 1208C398.2 1205.2 395.8 1202 395.8 1199.7C395.8 1197.3 398.8 1195.5 398.3 1193.8C397.9 1192.2 395 1191.5 393.3 1189.7C391.7 1187.9 390 1185.2 388.3 1183C386.7 1180.8 385 1178.6 383.3 1176.3C381.7 1174.1 379.6 1172.2 378.3 1169.7C377.1 1167.2 376.5 1163.8 375.8 1161.3C375.1 1158.8 374 1156.9 374.2 1154.7C374.3 1152.4 376.1 1150.1 376.7 1148C377.2 1145.9 377.4 1144 377.5 1142.2C377.6 1140.4 376.5 1138.6 377.5 1137.2Z"/><path d="M251.7 1213C252.4 1209.4 254.3 1208.4 255.8 1206.3C257.4 1204.2 258.9 1201.6 260.8 1200.5C262.8 1199.4 265.6 1199.4 267.5 1199.7C269.4 1199.9 272.2 1201.1 272.5 1202.2C272.8 1203.3 270.4 1204.8 269.2 1206.3C267.9 1207.9 266.5 1209.5 265 1211.3C263.5 1213.1 261.5 1214.4 260 1217.2C258.5 1219.9 257.2 1226.2 255.8 1228C254.4 1229.8 252.4 1230.5 251.7 1228C251 1225.5 251 1216.6 251.7 1213Z"/><path d="M366.3 1217.2C366.8 1215.8 369.4 1212.9 370.8 1212.2C372.3 1211.5 374.9 1212.2 375 1213C375.1 1213.8 372.8 1215.9 371.7 1217.2C370.6 1218.4 369.2 1220.5 368.3 1220.5C367.4 1220.5 365.9 1218.6 366.3 1217.2Z"/><path d="M473.3 1216.3C473.9 1214 476.4 1214.1 478.3 1213.8C480.3 1213.6 483.1 1213.8 485 1214.7C486.9 1215.5 489.2 1216.6 490 1218.8C490.8 1221.1 492.5 1226.5 490 1228C487.5 1229.5 477.8 1229.9 475 1228C472.2 1226.1 472.8 1218.7 473.3 1216.3Z"/><path d="M530 1146.3C530 1146.3 526.2 1141.1 525 1140.5C523.8 1139.9 522.8 1141.6 522.5 1143C522.2 1144.4 524.6 1147.4 523.3 1148.8C522.1 1150.2 517.5 1150.6 515 1151.3C512.5 1152 510.4 1152.3 508.3 1153C506.2 1153.7 502.8 1154.5 502.5 1155.5C502.2 1156.5 505.1 1157.7 506.7 1158.8C508.2 1159.9 509.7 1162.2 511.7 1162.2C513.6 1162.2 516.4 1159.7 518.3 1158.8C520.3 1158 521.9 1156.8 523.3 1157.2C524.7 1157.6 526.7 1159.8 526.7 1161.3C526.7 1162.9 524.7 1164.9 523.3 1166.3C521.9 1167.7 518.9 1168 518.3 1169.7C517.8 1171.3 519.2 1174.1 520 1176.3C520.8 1178.6 523.3 1181.1 523.3 1183C523.3 1184.9 521.4 1186.6 520 1188C518.6 1189.4 516.4 1189.7 515 1191.3C513.6 1193 512.6 1195.5 511.7 1198C510.7 1200.5 510.6 1204.1 509.2 1206.3C507.8 1208.6 504.9 1209.9 503.3 1211.3C501.8 1212.7 500.1 1211.9 500 1214.7C499.9 1217.4 497.5 1225.8 502.5 1228C507.5 1230.2 530 1228 530 1228L530 1146.3Z"/><path d="M669.2 1210.5C669.9 1208.8 672.1 1208.1 673.3 1208C674.6 1207.9 676.5 1208.3 676.7 1209.7C676.8 1211.1 674.9 1214.5 674.2 1216.3C673.5 1218.1 673.3 1220.2 672.5 1220.5C671.7 1220.8 669.7 1219.7 669.2 1218C668.6 1216.3 668.5 1212.2 669.2 1210.5Z"/><path d="M662.5 1028C663.3 1026.6 665.1 1024.1 666.7 1024.3C668.2 1024.6 670.5 1027.5 671.7 1029.7C672.8 1031.8 673.7 1034.7 673.7 1037.2C673.7 1039.7 672.8 1042.6 671.7 1044.7C670.5 1046.8 667.9 1049.7 666.7 1049.7C665.4 1049.7 664.5 1046.6 664.2 1044.7C663.8 1042.7 665 1039.9 664.7 1038C664.3 1036.1 662.4 1034.7 662 1033C661.6 1031.3 661.7 1029.4 662.5 1028Z"/><path d="M694.2 1038.8C695.1 1037.8 698.4 1037.5 700 1036.3C701.6 1035.1 703 1031.7 703.7 1031.7C704.4 1031.7 704.8 1034.7 704.2 1036.3C703.6 1038 701.6 1040.6 700 1041.7C698.4 1042.7 695.6 1043.1 694.7 1042.7C693.7 1042.2 693.3 1039.9 694.2 1038.8Z"/><path d="M634.2 1051.7C634.3 1051.1 637.7 1053.1 639.2 1053.8C640.6 1054.6 642.4 1055.6 643 1056.3C643.6 1057.1 643.3 1058.2 642.5 1058.3C641.7 1058.5 639.7 1058.3 638.3 1057.2C636.9 1056.1 634 1052.2 634.2 1051.7Z"/><path d="M677.5 1059.7C678.1 1058.8 680.7 1057.4 681.7 1058C682.6 1058.6 683.3 1061.5 683.3 1063C683.3 1064.5 682.5 1067.2 681.7 1067.2C680.8 1067.2 679 1064.2 678.3 1063C677.6 1061.8 676.9 1060.5 677.5 1059.7Z"/><path d="M721.2 1073.8C721.2 1074.4 721 1075 720.7 1075.4C720.4 1075.8 719.9 1076.2 719.4 1076.4C719 1076.5 718.4 1076.5 717.9 1076.4C717.4 1076.2 716.9 1075.8 716.6 1075.4C716.4 1075 716.2 1074.4 716.2 1073.8C716.2 1073.3 716.4 1072.7 716.6 1072.3C716.9 1071.8 717.4 1071.5 717.9 1071.3C718.4 1071.1 719 1071.1 719.4 1071.3C719.9 1071.5 720.4 1071.8 720.7 1072.3C721 1072.7 721.2 1073.3 721.2 1073.8Z"/><path d="M681.7 1086.3C681.7 1084.6 684.2 1083.1 685.8 1082.7C687.5 1082.2 690.1 1082.7 691.7 1083.8C693.2 1085 694.6 1087.9 695 1089.7C695.4 1091.5 695 1093.1 694.2 1094.7C693.3 1096.2 691.4 1099.1 690 1098.8C688.6 1098.6 687.2 1095.1 685.8 1093C684.4 1090.9 681.7 1088.1 681.7 1086.3Z"/><path d="M653.3 1101.3C653.6 1100.5 655.6 1099.4 656.7 1100.5C657.8 1101.6 659.9 1106.5 660 1108C660.1 1109.5 658.3 1110.1 657.5 1109.7C656.7 1109.2 655.7 1106.9 655 1105.5C654.3 1104.1 653.1 1102.2 653.3 1101.3Z"/><path d="M661.7 1111.3C662.2 1110.4 664.7 1108.9 666.7 1109.3C668.6 1109.8 671.2 1112.1 673.3 1113.8C675.4 1115.6 678.1 1117.6 679.2 1119.7C680.3 1121.8 680.4 1124.2 680 1126.3C679.6 1128.4 678.3 1131.3 676.7 1132.2C675 1133 672.5 1131.9 670 1131.3C667.5 1130.8 663.2 1129.7 661.7 1128.8C660.1 1128 660.1 1127.3 660.8 1126.3C661.5 1125.4 664.9 1124.4 665.8 1123C666.8 1121.6 667.1 1119.4 666.7 1118C666.2 1116.6 664.2 1115.8 663.3 1114.7C662.5 1113.6 661.1 1112.2 661.7 1111.3Z"/><path d="M720.8 1123C722 1121.8 725.8 1118.6 727.5 1118.8C729.2 1119.1 730.1 1122.9 730.8 1124.7C731.5 1126.5 732.2 1128.4 731.7 1129.7C731.1 1130.9 728.9 1132 727.5 1132.2C726.1 1132.3 724.5 1131.5 723.3 1130.5C722.1 1129.5 720.8 1127.6 720.3 1126.3C719.9 1125.1 719.6 1124.2 720.8 1123Z"/><path d="M531.7 1073.8C532.1 1073 534.7 1071.5 535.8 1072.2C537 1072.9 538.1 1076.1 538.7 1078C539.2 1079.9 539.5 1082.6 539.2 1083.3C538.8 1084 537.6 1083.2 536.7 1082.2C535.7 1081.1 534.2 1078.6 533.3 1077.2C532.5 1075.8 531.2 1074.7 531.7 1073.8Z"/><path d="M540.3 1103.5C540.3 1103.8 540.2 1104.2 540 1104.5C539.7 1104.7 539.3 1105 539 1105.1C538.6 1105.2 538.1 1105.2 537.7 1105.1C537.3 1105 536.9 1104.7 536.7 1104.5C536.5 1104.2 536.3 1103.8 536.3 1103.5C536.3 1103.2 536.5 1102.8 536.7 1102.5C536.9 1102.3 537.3 1102 537.7 1101.9C538.1 1101.8 538.6 1101.8 539 1101.9C539.3 1102 539.7 1102.3 540 1102.5C540.2 1102.8 540.3 1103.2 540.3 1103.5Z"/><path d="M585.7 1023.8C585.7 1024.2 585.5 1024.5 585.2 1024.8C585 1025.1 584.5 1025.3 584.1 1025.4C583.6 1025.5 583 1025.5 582.6 1025.4C582.2 1025.3 581.7 1025.1 581.4 1024.8C581.2 1024.5 581 1024.2 581 1023.8C581 1023.5 581.2 1023.1 581.4 1022.9C581.7 1022.6 582.2 1022.3 582.6 1022.2C583 1022.1 583.6 1022.1 584.1 1022.2C584.5 1022.3 585 1022.6 585.2 1022.9C585.5 1023.1 585.7 1023.5 585.7 1023.8Z"/><path d="M520 1140.5C520 1140.5 526.4 1140.4 528.3 1142.2C530.3 1144 529.7 1149 531.7 1151.3C533.6 1153.7 537.5 1154.8 540 1156.3C542.5 1157.9 546.1 1158.8 546.7 1160.5C547.2 1162.2 544.4 1164.1 543.3 1166.3C542.2 1168.6 541.4 1171.3 540 1173.8C538.6 1176.3 536.8 1179.4 535 1181.3C533.2 1183.3 531.7 1184.4 529.2 1185.5C526.7 1186.6 520 1188 520 1188L520 1140.5Z"/><path d="M575 1228C572.2 1225.8 578.5 1218 580 1214.7C581.5 1211.3 583.3 1210.2 584.2 1208C585 1205.8 585.1 1203.6 585 1201.3C584.9 1199.1 583.1 1196.5 583.3 1194.7C583.6 1192.9 585 1192 586.7 1190.5C588.3 1189 592.9 1187.3 593.3 1185.5C593.8 1183.7 589.4 1181.5 589.2 1179.7C588.9 1177.9 590.1 1176.3 591.7 1174.7C593.2 1173 596.4 1171.6 598.3 1169.7C600.3 1167.7 601.4 1164.5 603.3 1163C605.3 1161.5 607.9 1160.8 610 1160.5C612.1 1160.2 613.6 1160.6 615.8 1161.3C618.1 1162 621.2 1164.8 623.3 1164.7C625.4 1164.5 626.4 1161.9 628.3 1160.5C630.3 1159.1 633.1 1157.4 635 1156.3C636.9 1155.2 638.8 1154.9 640 1153.8C641.2 1152.7 642.2 1151.5 642.5 1149.7C642.8 1147.9 641 1144.5 641.7 1143C642.4 1141.5 645 1140.8 646.7 1140.5C648.3 1140.2 650.7 1140.4 651.7 1141.3C652.6 1142.3 653.1 1144.9 652.5 1146.3C651.9 1147.7 649.2 1148 648.3 1149.7C647.5 1151.3 647.1 1154.4 647.5 1156.3C647.9 1158.3 649.7 1160.2 650.8 1161.3C651.9 1162.4 652.6 1163.6 654.2 1163C655.7 1162.4 657.9 1159.4 660 1158C662.1 1156.6 664.2 1155.6 666.7 1154.7C669.2 1153.8 673.2 1152.4 675 1152.7C676.8 1152.9 677.4 1154.9 677.5 1156.3C677.6 1157.8 677.1 1159.9 675.8 1161.3C674.6 1162.7 672.1 1164 670 1164.7C667.9 1165.4 665.6 1165.1 663.3 1165.5C661.1 1165.9 658.5 1166.5 656.7 1167.2C654.9 1167.9 653.9 1167.9 652.5 1169.7C651.1 1171.5 649.9 1175.2 648.3 1178C646.8 1180.8 644.7 1183.8 643.3 1186.3C641.9 1188.8 641.4 1190.8 640 1193C638.6 1195.2 636.7 1197.7 635 1199.7C633.3 1201.6 631.9 1203.6 630 1204.7C628.1 1205.8 625.6 1205.8 623.3 1206.3C621.1 1206.9 618.1 1206.9 616.7 1208C615.3 1209.1 616.1 1211.9 615 1213C613.9 1214.1 611.7 1214.7 610 1214.7C608.3 1214.7 606.4 1212.4 605 1213C603.6 1213.6 603.1 1215.5 601.7 1218C600.3 1220.5 601.1 1226.3 596.7 1228C592.2 1229.7 577.8 1230.2 575 1228Z"/><path d="M520 1217.2C520 1217.2 528.6 1216.1 531.7 1216.3C534.7 1216.6 536.5 1216.9 538.3 1218.8C540.1 1220.8 545.6 1226.5 542.5 1228C539.4 1229.5 520 1228 520 1228L520 1217.2Z"/></g>
<g fill="#ea7457"><path d="M781.7 336.3C783.3 334.9 786.7 334.4 788.3 334.7C790 334.9 791.4 336.3 791.7 338C791.9 339.7 791.1 343 790 344.7C788.9 346.3 786.1 346.5 785 348C783.9 349.5 785 352.2 783.3 353.8C781.7 355.5 776.9 356.8 775 358C773.1 359.2 771.7 359.9 771.7 361.3C771.7 362.7 773.9 364.7 775 366.3C776.1 368 778.3 369.4 778.3 371.3C778.3 373.3 776.1 376.1 775 378C773.9 379.9 771.7 381.3 771.7 383C771.7 384.7 774.6 386.5 775 388C775.4 389.5 775 391.2 774.2 392.2C773.3 393.1 771.4 394.2 770 393.8C768.6 393.4 766.4 391.2 765.8 389.7C765.3 388.1 766 386.1 766.7 384.7C767.4 383.3 769.7 383 770 381.3C770.3 379.7 769.4 376.6 768.3 374.7C767.2 372.7 764.3 371.6 763.3 369.7C762.4 367.7 761.9 365.2 762.5 363C763.1 360.8 764.9 358.6 766.7 356.3C768.5 354.1 771.4 351.9 773.3 349.7C775.3 347.4 776.9 345.2 778.3 343C779.7 340.8 780 337.7 781.7 336.3Z"/><path d="M761.7 473C762.5 471.1 760.3 466.6 761.7 464.7C763.1 462.7 767.2 462.7 770 461.3C772.8 459.9 775.8 456.6 778.3 456.3C780.8 456.1 782.8 458.6 785 459.7C787.2 460.8 790 462.9 791.7 463C793.3 463.1 793.9 460.6 795 460.5C796.1 460.4 797.8 449.2 798.3 462.2C798.9 475.1 798.3 538 798.3 538L771.7 538C771.7 538 770.8 532.2 770 529.7C769.2 527.2 766.9 526.1 766.7 523C766.4 519.9 769.7 514.7 768.3 511.3C766.9 508 760.6 505.2 758.3 503C756.1 500.8 755 499.8 755 498C755 496.2 757.9 494.1 758.3 492.2C758.8 490.2 757.8 489 757.5 486.3C757.2 483.7 756 478.6 756.7 476.3C757.4 474.1 760.8 474.9 761.7 473Z"/><path d="M845.8 367.2C845.8 368 845.2 369.1 844.2 369.8C843.3 370.5 841.6 371.2 840.1 371.4C838.5 371.7 836.5 371.7 834.9 371.4C833.4 371.2 831.7 370.5 830.8 369.8C829.8 369.1 829.2 368 829.2 367.2C829.2 366.3 829.8 365.2 830.8 364.5C831.7 363.8 833.4 363.2 834.9 362.9C836.5 362.6 838.5 362.6 840.1 362.9C841.6 363.2 843.3 363.8 844.2 364.5C845.2 365.2 845.8 366.3 845.8 367.2Z"/><path d="M795.8 313C797.9 312.2 803.3 313 804.2 314.7C805 316.3 802.5 320.4 800.8 323C799.2 325.6 796.2 328.3 794.2 330.5C792.1 332.7 790.1 335.1 788.3 336.3C786.5 337.6 784.4 338.1 783.3 338C782.2 337.9 781.1 337.2 781.7 335.5C782.2 333.8 785 330.6 786.7 328C788.3 325.4 790.1 322.2 791.7 319.7C793.2 317.2 793.8 313.8 795.8 313Z"/></g>
<g fill="#f89540"><path d="M639.2 726.3C639.7 724.5 641.7 723.1 643.3 723.8C645 724.5 649 728.1 649.2 730.5C649.3 732.9 645.7 737.3 644.2 738C642.6 738.7 640.8 736.6 640 734.7C639.2 732.7 638.6 728.1 639.2 726.3Z"/><path d="M645 776.3C645.4 774.9 646.9 773.8 648.3 774.3C649.7 774.9 652.8 778.2 653.3 779.7C653.9 781.1 651.7 783 651.7 783L645.8 783C645.8 783 644.6 777.8 645 776.3Z"/></g>
<g fill="#ea7457"><path d="M631.7 727.2C631.7 728.1 631.6 729.3 631.4 730.1C631.3 730.9 631 731.6 630.7 731.9C630.5 732.2 630.2 732.2 629.9 731.9C629.7 731.6 629.4 730.9 629.3 730.1C629.1 729.3 629 728.1 629 727.2C629 726.2 629.1 725 629.3 724.2C629.4 723.4 629.7 722.7 629.9 722.4C630.2 722.1 630.5 722.1 630.7 722.4C631 722.7 631.3 723.4 631.4 724.2C631.6 725 631.7 726.2 631.7 727.2Z"/></g>
<g fill="#f89540"><path d="M275.8 901.3C275.8 899.4 278.5 897.4 280 898C281.5 898.6 283.1 902.4 285 904.7C286.9 906.9 289.7 908.8 291.7 911.3C293.6 913.8 295.7 916.9 296.7 919.7C297.6 922.4 298.3 926.3 297.5 928C296.7 929.7 293.3 930.2 291.7 929.7C290 929.1 288.8 926.9 287.5 924.7C286.2 922.4 285.4 918.8 284.2 916.3C282.9 913.8 281.4 912.2 280 909.7C278.6 907.2 275.8 903.3 275.8 901.3Z"/><path d="M297.3 863.2C297.6 863.6 297.6 864.2 297.4 864.7C297.2 865.2 296.8 865.9 296.3 866.4C295.7 866.8 295 867.3 294.3 867.5C293.6 867.7 292.8 867.8 292.3 867.7C291.7 867.6 291.2 867.2 291 866.8C290.8 866.4 290.7 865.8 290.9 865.3C291.1 864.8 291.6 864.1 292.1 863.6C292.6 863.2 293.4 862.7 294 862.5C294.7 862.3 295.5 862.2 296 862.3C296.6 862.4 297.1 862.8 297.3 863.2Z"/><path d="M280.8 867.2C280.8 868 280.7 869 280.6 869.6C280.5 870.3 280.2 870.9 280 871.1C279.8 871.4 279.5 871.4 279.3 871.1C279.1 870.9 278.9 870.3 278.7 869.6C278.6 869 278.5 868 278.5 867.2C278.5 866.4 278.6 865.4 278.7 864.7C278.9 864.1 279.1 863.5 279.3 863.2C279.5 863 279.8 863 280 863.2C280.2 863.5 280.5 864.1 280.6 864.7C280.7 865.4 280.8 866.4 280.8 867.2Z"/></g>
<g fill="#ea7457"><path d="M275 876.3C276.9 874.7 279.9 874.4 281.7 874.7C283.5 874.9 285.4 876.3 285.8 878C286.2 879.7 284.7 882.4 284.2 884.7C283.6 886.9 283.3 889.9 282.5 891.3C281.7 892.7 280.4 892.2 279.2 893C277.9 893.8 276.2 896.3 275 896.3C273.8 896.3 272.5 894.9 271.7 893C270.8 891.1 269.4 887.4 270 884.7C270.6 881.9 273.1 878 275 876.3Z"/></g>
<g fill="#f89540"><path d="M645.8 848C646.9 845.8 648.2 844 650 843C651.8 842 654.7 841.6 656.7 842.2C658.6 842.7 660.6 844.2 661.7 846.3C662.7 848.4 663.3 851.9 663 854.7C662.7 857.4 661.1 860.5 660 863C658.9 865.5 657.8 867.4 656.7 869.7C655.6 871.9 654 874.4 653.3 876.3C652.6 878.3 653.3 880.2 652.5 881.3C651.7 882.4 649.6 883.6 648.3 883C647.1 882.4 645.7 879.9 645 878C644.3 876.1 644.6 873.6 644.2 871.3C643.8 869.1 642.6 867.2 642.5 864.7C642.4 862.2 642.8 859.1 643.3 856.3C643.9 853.6 644.7 850.2 645.8 848Z"/><path d="M633.3 884.7C633.5 882.6 634.7 880.2 635.8 878.8C636.9 877.4 638.9 875.9 640 876.3C641.1 876.8 641.8 879.7 642.5 881.3C643.2 883 644.3 884.7 644.2 886.3C644 888 642.5 889.9 641.7 891.3C640.8 892.7 640.3 894.7 639.2 894.7C638.1 894.7 636 893 635 891.3C634 889.7 633.2 886.8 633.3 884.7Z"/><path d="M653.3 779.7C653.3 780.3 653 781 652.5 781.4C652.1 781.9 651.2 782.3 650.5 782.5C649.7 782.7 648.7 782.7 647.9 782.5C647.1 782.3 646.3 781.9 645.8 781.4C645.3 781 645 780.3 645 779.7C645 779.1 645.3 778.4 645.8 777.9C646.3 777.4 647.1 777 647.9 776.8C648.7 776.6 649.7 776.6 650.5 776.8C651.2 777 652.1 777.4 652.5 777.9C653 778.4 653.3 779.1 653.3 779.7Z"/></g>
<g fill="#ea7457"><path d="M530 1188C530 1188 526.4 1188.6 525 1189.7C523.6 1190.8 522.6 1192.4 521.7 1194.7C520.7 1196.9 519.7 1200.2 519.2 1203C518.6 1205.8 517.8 1209.2 518.3 1211.3C518.9 1213.4 520.6 1214.7 522.5 1215.5C524.4 1216.3 530 1216.3 530 1216.3L530 1188Z"/></g>
<g fill="#d6556d"><path d="M792.8 503C792.8 504 792.6 505.1 792.1 505.9C791.7 506.7 791 507.5 790.3 507.8C789.6 508.1 788.7 508.1 788 507.8C787.4 507.5 786.6 506.7 786.2 505.9C785.8 505.1 785.5 504 785.5 503C785.5 502 785.8 500.9 786.2 500.1C786.6 499.3 787.4 498.5 788 498.2C788.7 497.9 789.6 497.9 790.3 498.2C791 498.5 791.7 499.3 792.1 500.1C792.6 500.9 792.8 502 792.8 503Z"/><path d="M778 510.5C778 510.8 777.8 511.2 777.4 511.5C777.1 511.7 776.5 512 775.9 512.1C775.4 512.2 774.6 512.2 774.1 512.1C773.5 512 772.9 511.7 772.6 511.5C772.2 511.2 772 510.8 772 510.5C772 510.2 772.2 509.8 772.6 509.5C772.9 509.3 773.5 509 774.1 508.9C774.6 508.8 775.4 508.8 775.9 508.9C776.5 509 777.1 509.3 777.4 509.5C777.8 509.8 778 510.2 778 510.5Z"/></g>
<g fill="#feba2c"><path d="M278.3 902.2C278.8 901.8 280.4 903.1 281.7 904.7C282.9 906.2 284.6 909.1 285.8 911.3C287.1 913.6 288.3 915.5 289.2 918C290 920.5 291 924.8 290.8 926.3C290.7 927.9 289.2 928.3 288.3 927.2C287.5 926.1 286.8 922 285.8 919.7C284.9 917.3 283.6 915.1 282.5 913C281.4 910.9 279.9 909 279.2 907.2C278.5 905.4 277.9 902.6 278.3 902.2Z"/></g>
<g fill="#bf3984"><path d="M572.5 303.8C572.8 302.4 574 298.4 575 297.2C576 295.9 578.2 295.4 578.3 296.3C578.5 297.3 576.7 301.5 575.8 303C575 304.5 573.9 305.4 573.3 305.5C572.8 305.6 572.2 305.2 572.5 303.8Z"/><path d="M717.5 298C717.9 294.8 721.7 283 721.7 283L750.8 283C750.8 283 750.7 297.6 750 301.3C749.3 305.1 749.2 304.9 746.7 305.5C744.2 306.1 738.6 304.7 735 304.7C731.4 304.7 727.6 305.9 725 305.5C722.4 305.1 720.4 303.4 719.2 302.2C717.9 300.9 717.1 301.2 717.5 298Z"/><path d="M765 313C766.9 311.8 769.9 310.5 771.7 310.5C773.5 310.5 775.3 311.5 775.8 313C776.4 314.5 776 317.4 775 319.7C774 321.9 771.7 323.8 770 326.3C768.3 328.8 766.9 331.9 765 334.7C763.1 337.4 760.8 340.5 758.3 343C755.8 345.5 752.5 347.2 750 349.7C747.5 352.2 745.3 355.9 743.3 358C741.4 360.1 739.7 361.9 738.3 362.2C736.9 362.4 735.4 361.2 735 359.7C734.6 358.1 735 355.5 735.8 353C736.7 350.5 738.2 347.2 740 344.7C741.8 342.2 745.3 340.2 746.7 338C748.1 335.8 747.2 333.6 748.3 331.3C749.4 329.1 751.4 326.9 753.3 324.7C755.3 322.4 758.1 319.9 760 318C761.9 316.1 763.1 314.2 765 313Z"/><path d="M631.7 343C632.5 341.1 636.9 336.6 638.3 336.3C639.7 336.1 640 339.4 640 341.3C640 343.3 638.1 346.5 638.3 348C638.6 349.5 640 350.1 641.7 350.5C643.3 350.9 646.9 349.8 648.3 350.5C649.7 351.2 650.6 353.4 650 354.7C649.4 355.9 646.9 357.6 645 358C643.1 358.4 640.3 356.9 638.3 357.2C636.4 357.4 635.1 359 633.3 359.7C631.5 360.4 628.6 361.6 627.5 361.3C626.4 361.1 626 359.4 626.7 358C627.4 356.6 630.6 354.7 631.7 353C632.8 351.3 633.3 349.7 633.3 348C633.3 346.3 630.8 344.9 631.7 343Z"/><path d="M611.7 369.7C612.2 368.3 615 365.6 616.7 364.7C618.3 363.7 620 363.1 621.7 363.8C623.3 364.5 625.3 367.6 626.7 368.8C628.1 370.1 630.3 370.8 630 371.3C629.7 371.9 626.9 372.2 625 372.2C623.1 372.2 620.3 371.2 618.3 371.3C616.4 371.5 614.4 373.3 613.3 373C612.2 372.7 611.1 371.1 611.7 369.7Z"/><path d="M659.2 378.8C659.3 377.6 661.5 376.3 663.3 376.3C665.1 376.3 668.2 377.6 670 378.8C671.8 380.1 674.2 382.3 674.2 383.8C674.2 385.4 671.2 387.2 670 388C668.8 388.8 667.9 389.5 666.7 388.8C665.4 388.1 663.8 385.5 662.5 383.8C661.2 382.2 659 380.1 659.2 378.8Z"/><path d="M661.7 358C661.9 357.2 664.9 356.1 666.7 355.5C668.5 354.9 671.8 354.1 672.5 354.7C673.2 355.2 672.1 357.9 670.8 358.8C669.6 359.7 666.5 360.1 665 360C663.5 359.9 661.4 358.8 661.7 358Z"/><path d="M698.3 369.7C698.9 368.5 701.7 365.8 703.3 364.7C705 363.6 707.4 362.7 708.3 363C709.3 363.3 709.7 365.1 709.2 366.3C708.6 367.6 706.5 369.6 705 370.5C703.5 371.4 701.1 371.8 700 371.7C698.9 371.5 697.8 370.8 698.3 369.7Z"/><path d="M685.8 369.2C685.8 369.4 685.6 369.7 685.2 370C684.8 370.2 684.2 370.4 683.5 370.4C682.9 370.5 682.1 370.5 681.5 370.4C680.8 370.4 680.2 370.2 679.8 370C679.4 369.7 679.2 369.4 679.2 369.2C679.2 368.9 679.4 368.6 679.8 368.4C680.2 368.2 680.8 368 681.5 367.9C682.1 367.8 682.9 367.8 683.5 367.9C684.2 368 684.8 368.2 685.2 368.4C685.6 368.6 685.8 368.9 685.8 369.2Z"/><path d="M723.3 373C723.8 371.8 725.8 369.9 727.5 369.7C729.2 369.4 731.8 370.4 733.3 371.3C734.9 372.3 736.9 374.5 736.7 375.5C736.4 376.5 733.6 376.9 731.7 377.2C729.7 377.4 726.4 377.9 725 377.2C723.6 376.5 722.9 374.2 723.3 373Z"/><path d="M630.7 392.7C630.7 393.2 630.5 393.9 630.2 394.3C630 394.8 629.5 395.2 629.1 395.4C628.6 395.5 628 395.5 627.6 395.4C627.2 395.2 626.7 394.8 626.4 394.3C626.2 393.9 626 393.2 626 392.7C626 392.1 626.2 391.5 626.4 391C626.7 390.6 627.2 390.1 627.6 390C628 389.8 628.6 389.8 629.1 390C629.5 390.1 630 390.6 630.2 391C630.5 391.5 630.7 392.1 630.7 392.7Z"/><path d="M593.8 348C593.8 348.5 593.7 349 593.6 349.4C593.4 349.7 593.2 350.1 592.9 350.2C592.7 350.4 592.3 350.4 592.1 350.2C591.8 350.1 591.6 349.7 591.4 349.4C591.3 349 591.2 348.5 591.2 348C591.2 347.5 591.3 347 591.4 346.6C591.6 346.3 591.8 345.9 592.1 345.8C592.3 345.6 592.7 345.6 592.9 345.8C593.2 345.9 593.4 346.3 593.6 346.6C593.7 347 593.8 347.5 593.8 348Z"/><path d="M674.2 440.5C674.4 438.9 676.2 437.3 677.5 436.3C678.8 435.4 680.9 434.1 681.7 434.7C682.4 435.2 682.4 438 682 439.7C681.6 441.3 680.2 443.6 679.2 444.7C678.1 445.7 676.7 446.7 675.8 446C675 445.3 673.9 442.1 674.2 440.5Z"/><path d="M705.8 438.8C706.7 437 709.6 434.8 711.7 433C713.8 431.2 716.2 429.2 718.3 428C720.4 426.8 722.8 425.4 724.2 425.5C725.6 425.6 727.1 427.3 726.7 428.8C726.2 430.4 723.3 432.7 721.7 434.7C720 436.6 718.3 438.7 716.7 440.5C715 442.3 713.3 444.9 711.7 445.5C710 446.1 707.6 444.9 706.7 443.8C705.7 442.7 705 440.6 705.8 438.8Z"/><path d="M760.8 438.8C761.1 436.6 763.2 432.9 765 429.7C766.8 426.5 770 422.7 771.7 419.7C773.3 416.6 774.4 414.1 775 411.3C775.6 408.6 774.2 405.8 775 403C775.8 400.2 778.3 397.2 780 394.7C781.7 392.2 783.3 390.2 785 388C786.7 385.8 788.9 384.1 790 381.3C791.1 378.6 791.1 374.7 791.7 371.3C792.2 368 792.2 364.1 793.3 361.3C794.4 358.6 797.5 344.9 798.3 354.7C799.2 364.4 798.9 408.8 798.3 419.7C797.8 430.5 796.4 420.9 795 419.7C793.6 418.4 792.1 413.3 790 412.2C787.9 411.1 784.2 411.8 782.5 413C780.8 414.2 779.6 416.9 780 419.7C780.4 422.4 783.9 427.2 785 429.7C786.1 432.2 787.5 433.8 786.7 434.7C785.8 435.5 782.8 433.8 780 434.7C777.2 435.5 772.8 438.3 770 439.7C767.2 441.1 764.9 443.1 763.3 443C761.8 442.9 760.6 441.1 760.8 438.8Z"/><path d="M790 358L794.2 345.5C794.2 345.5 797.9 338.4 800 337.2C802.1 335.9 804.4 338.1 806.7 338C808.9 337.9 811.1 337.2 813.3 336.3C815.6 335.5 817.8 334.4 820 333C822.2 331.6 824.4 329.5 826.7 328C828.9 326.5 830.8 324.9 833.3 323.8C835.8 322.7 838.9 322.7 841.7 321.3C844.4 319.9 847.5 317.3 850 315.5C852.5 313.7 854.6 311.6 856.7 310.5C858.8 309.4 861.7 308.1 862.5 308.8C863.3 309.5 862.6 312.7 861.7 314.7C860.7 316.6 858.3 318.7 856.7 320.5C855 322.3 852.6 323.4 851.7 325.5C850.7 327.6 851.9 330.9 850.8 333C849.7 335.1 846.7 336.6 845 338C843.3 339.4 841.2 339.9 840.8 341.3C840.4 342.7 841 344.8 842.5 346.3C844 347.9 847.9 349.2 850 350.5C852.1 351.8 854 352.6 855 353.8C856 355.1 856.4 357 855.8 358C855.3 359 853.5 359.8 851.7 359.7C849.9 359.5 847.5 358.1 845 357.2C842.5 356.2 839.2 354.9 836.7 353.8C834.2 352.7 831.8 350.8 830 350.5C828.2 350.2 826.8 350.9 825.8 352.2C824.9 353.4 824.6 355.9 824.2 358C823.8 360.1 823.8 362.4 823.3 364.7C822.9 366.9 821.8 369.4 821.7 371.3C821.5 373.3 821.4 375.1 822.5 376.3C823.6 377.6 826.5 378.7 828.3 378.8C830.1 379 830.8 377.3 833.3 377.2C835.8 377 840.8 378 843.3 378C845.8 378 847.2 376.8 848.3 377.2C849.4 377.6 848.6 380.4 850 380.5C851.4 380.6 854.2 378.8 856.7 378C859.2 377.2 862.2 376.1 865 375.5C867.8 374.9 871.1 374.1 873.3 374.7C875.6 375.2 878.1 377.2 878.3 378.8C878.6 380.5 876.2 382.9 875 384.7C873.8 386.5 871.9 388 870.8 389.7C869.7 391.3 869.9 393.4 868.3 394.7C866.8 395.9 864.2 396.5 861.7 397.2C859.2 397.9 855.8 397.6 853.3 398.8C850.8 400.1 848.3 402.7 846.7 404.7C845 406.6 844.7 409.4 843.3 410.5C841.9 411.6 840.3 411.9 838.3 411.3C836.4 410.8 833.6 407.9 831.7 407.2C829.7 406.5 828.3 406.5 826.7 407.2C825 407.9 823.6 410.5 821.7 411.3C819.7 412.2 817.5 412.3 815 412.2C812.5 412 809.2 410.6 806.7 410.5C804.2 410.4 801.9 410.4 800 411.3C798.1 412.3 795 416.3 795 416.3L790 421.3L790 358Z"/><path d="M484.2 552.7C484.2 552.9 484 553.2 483.8 553.5C483.7 553.7 483.3 553.9 483 553.9C482.7 554 482.3 554 482 553.9C481.7 553.9 481.3 553.7 481.2 553.5C481 553.2 480.8 552.9 480.8 552.7C480.8 552.4 481 552.1 481.2 551.9C481.3 551.7 481.7 551.5 482 551.4C482.3 551.3 482.7 551.3 483 551.4C483.3 551.5 483.7 551.7 483.8 551.9C484 552.1 484.2 552.4 484.2 552.7Z"/><path d="M290.3 768C290.7 766.7 293.1 764.6 294.2 763.8C295.3 763.1 296.7 762.6 297 763.3C297.3 764 296.7 766.6 295.8 768C295 769.4 292.9 771.7 292 771.7C291.1 771.7 290 769.3 290.3 768Z"/><path d="M319.2 738C319.6 735.6 321 733.1 322.5 731.3C324 729.5 326.4 728 328.3 727.2C330.3 726.3 333.3 725.4 334.2 726.3C335 727.3 334.2 730.5 333.3 733C332.5 735.5 330.6 739 329.2 741.3C327.8 743.7 326.5 746.5 325 747.2C323.5 747.9 321 747 320 745.5C319 744 318.8 740.4 319.2 738Z"/><path d="M545.3 568.8C545.6 567.7 548.4 567.2 550 567.2C551.6 567.2 553.9 567.4 555 568.8C556.1 570.2 556.6 574 556.3 575.5C556.1 577 554.7 577.9 553.3 577.7C552 577.4 549.7 575.3 548.3 573.8C547 572.4 545.1 569.9 545.3 568.8Z"/><path d="M604.2 697.2C604.2 695.2 606.8 692.9 608.3 691.3C609.9 689.8 611.7 687.7 613.3 687.7C615 687.7 617.1 689.8 618.3 691.3C619.6 692.9 620.8 695.2 620.8 697.2C620.8 699.1 619.6 701.1 618.3 703C617.1 704.9 615 708.8 613.3 708.8C611.7 708.8 609.9 704.9 608.3 703C606.8 701.1 604.2 699.1 604.2 697.2Z"/><path d="M557.5 698C557.4 695.5 558.1 692.4 559.2 690.5C560.3 688.6 562.2 686.6 564.2 686.3C566.1 686.1 569 687.4 570.8 688.8C572.6 690.2 574.2 692.6 575 694.7C575.8 696.8 576.4 699.4 575.8 701.3C575.3 703.3 573.5 705.2 571.7 706.3C569.9 707.4 566.9 708.1 565 708C563.1 707.9 561.2 707.2 560 705.5C558.8 703.8 557.6 700.5 557.5 698Z"/><path d="M613.3 733.8C614 733.8 616.1 737.3 617.5 739.7C618.9 742 620.7 745.5 621.7 748C622.6 750.5 622.5 752.4 623.3 754.7C624.2 756.9 626 759.1 626.7 761.3C627.4 763.6 626.4 765.8 627.5 768C628.6 770.2 631.2 772.2 633.3 774.7C635.4 777.2 640 783 640 783L606.7 783C606.7 783 609.7 778.3 611.7 776.3C613.6 774.4 616.7 773.3 618.3 771.3C620 769.4 621.2 766.6 621.7 764.7C622.1 762.7 621.8 760.8 620.8 759.7C619.9 758.6 617.6 758.6 615.8 758C614 757.4 611.1 757.4 610 756.3C608.9 755.2 608.8 753 609.2 751.3C609.6 749.7 611.8 748.3 612.5 746.3C613.2 744.4 613.2 741.8 613.3 739.7C613.5 737.6 612.6 733.8 613.3 733.8Z"/><path d="M652.5 762.2C652.9 760.8 654.4 759.1 655.8 758.8C657.2 758.6 659.9 759.5 660.8 760.5C661.8 761.5 662.2 763 661.7 764.7C661.1 766.3 658.9 770.1 657.5 770.5C656.1 770.9 654.2 768.6 653.3 767.2C652.5 765.8 652.1 763.6 652.5 762.2Z"/><path d="M665.8 766.3C666.7 764.4 668.2 763.3 670 763C671.8 762.7 674.7 763.3 676.7 764.7C678.6 766.1 680.6 768.3 681.7 771.3C682.8 774.4 683.3 783 683.3 783L666.7 783C666.7 783 665.1 777.4 665 774.7C664.9 771.9 665 768.3 665.8 766.3Z"/><path d="M700 764.7C700.4 762.3 702.5 759.2 704.2 757.2C705.8 755.1 707.9 753.1 710 752.2C712.1 751.2 714.7 750.8 716.7 751.3C718.6 751.9 720.7 753.7 721.7 755.5C722.6 757.3 722.9 759.9 722.5 762.2C722.1 764.4 720.7 766.9 719.2 768.8C717.6 770.8 715.4 772.9 713.3 773.8C711.2 774.8 708.6 775.1 706.7 774.7C704.7 774.2 702.8 773 701.7 771.3C700.6 769.7 699.6 767 700 764.7Z"/><path d="M298.3 834.7C299.2 833.1 301.8 831.3 303.3 830.5C304.9 829.7 306.9 828.7 307.5 829.7C308.1 830.6 307.1 833.8 306.7 836.3C306.2 838.8 305.4 842.2 305 844.7C304.6 847.2 304.9 849.9 304.2 851.3C303.5 852.7 301.7 853.8 300.8 853C300 852.2 299.6 848.6 299.2 846.3C298.8 844.1 298.5 841.6 298.3 839.7C298.2 837.7 297.5 836.2 298.3 834.7Z"/><path d="M260.8 913C261.2 911.5 262.9 909.9 264.2 908.8C265.4 907.7 266.9 905.9 268.3 906.3C269.7 906.8 271.1 908.8 272.5 911.3C273.9 913.8 275.6 918.3 276.7 921.3C277.8 924.4 278.6 926.9 279.2 929.7C279.7 932.4 279.9 935.2 280 938C280.1 940.8 280.8 944 280 946.3C279.2 948.7 276.5 950.9 275 952.2C273.5 953.4 271.7 954.8 270.8 953.8C270 952.9 270.1 949 270 946.3C269.9 943.7 270.4 940.8 270 938C269.6 935.2 268.5 932.2 267.5 929.7C266.5 927.2 265.1 924.9 264.2 923C263.2 921.1 262.2 919.7 261.7 918C261.1 916.3 260.4 914.5 260.8 913Z"/><path d="M302 943C302.2 941.8 305 938.8 305.8 938.8C306.7 938.8 307.2 941.8 307 943C306.8 944.2 305.5 946.3 304.7 946.3C303.8 946.3 301.8 944.2 302 943Z"/><path d="M699.5 912.2C699.6 910.6 700.9 909 702.2 908.2C703.5 907.3 705.5 906.9 707.3 907C709.2 907.1 711.3 907.7 713.3 908.7C715.4 909.7 718 911.4 719.5 913C721 914.6 722.1 916.5 722.5 918.2C722.9 919.8 722.6 921.9 722 923C721.4 924.1 720.1 924.7 718.7 924.7C717.2 924.7 715.2 923.8 713.3 923C711.4 922.2 709.3 920.9 707.3 920C705.3 919.1 702.6 918.6 701.3 917.3C700 916 699.4 913.7 699.5 912.2Z"/><path d="M608.3 773L641.7 773C641.7 773 643.8 781.3 645 784.7C646.2 788 648.2 790.2 649.2 793C650.1 795.8 651 799 650.8 801.3C650.7 803.7 649.6 806.5 648.3 807.2C647.1 807.9 645 806.5 643.3 805.5C641.7 804.5 640.3 802.4 638.3 801.3C636.4 800.2 633.9 799.8 631.7 798.8C629.4 797.9 627.2 796.2 625 795.5C622.8 794.8 620 795.4 618.3 794.7C616.7 794 615.1 792.6 615 791.3C614.9 790.1 617.8 788.4 617.5 787.2C617.2 785.9 614.6 785.1 613.3 783.8C612.1 782.6 610.8 781.5 610 779.7C609.2 777.9 608.3 773 608.3 773Z"/><path d="M665.8 773L683.3 773C683.3 773 683.6 782.4 683.3 786.3C683.1 790.2 682.8 793.3 681.7 796.3C680.6 799.4 678.3 803.8 676.7 804.7C675 805.5 673.1 802.7 671.7 801.3C670.3 799.9 668.9 798.8 668.3 796.3C667.8 793.8 668.8 790.2 668.3 786.3C667.9 782.4 665.8 773 665.8 773Z"/><path d="M634 844.4C634.3 844.9 634.5 845.5 634.6 845.9C634.7 846.3 634.7 846.8 634.6 847C634.5 847.3 634.2 847.4 634 847.4C633.7 847.3 633.3 847.1 633 846.8C632.6 846.5 632.3 846 632 845.6C631.7 845.1 631.5 844.5 631.4 844.1C631.3 843.7 631.3 843.2 631.4 843C631.5 842.7 631.8 842.6 632 842.6C632.3 842.7 632.7 842.9 633 843.2C633.4 843.5 633.7 844 634 844.4Z"/><path d="M620.8 913.8C621 911.9 622.8 909.5 624.2 908C625.6 906.5 627.5 904.8 629.2 904.7C630.8 904.5 633.1 905.6 634.2 907.2C635.3 908.7 636 911.6 635.8 913.8C635.7 916.1 634.6 919 633.3 920.5C632.1 922 630 923.1 628.3 923C626.7 922.9 624.6 921.2 623.3 919.7C622.1 918.1 620.7 915.8 620.8 913.8Z"/><path d="M613.8 926.5C613.6 926.8 613.2 927.1 612.7 927.1C612.3 927.2 611.6 927.2 611.1 927C610.6 926.8 609.9 926.4 609.5 926C609.1 925.7 608.7 925.1 608.5 924.7C608.4 924.3 608.4 923.8 608.6 923.5C608.7 923.2 609.2 922.9 609.6 922.9C610 922.8 610.7 922.8 611.2 923C611.8 923.2 612.4 923.6 612.8 924C613.3 924.3 613.7 924.9 613.8 925.3C614 925.7 613.9 926.2 613.8 926.5Z"/><path d="M683 925C683 925.4 682.7 925.8 682.4 926.1C682 926.4 681.3 926.6 680.7 926.7C680.1 926.9 679.3 926.9 678.6 926.7C678 926.6 677.4 926.4 677 926.1C676.6 925.8 676.3 925.4 676.3 925C676.3 924.6 676.6 924.2 677 923.9C677.4 923.6 678 923.4 678.6 923.3C679.3 923.1 680.1 923.1 680.7 923.3C681.3 923.4 682 923.6 682.4 923.9C682.7 924.2 683 924.6 683 925Z"/><path d="M741 896.1C741.2 896.4 741.4 896.9 741.4 897.2C741.4 897.6 741.4 897.9 741.3 898.1C741.1 898.3 740.9 898.5 740.6 898.5C740.4 898.5 740 898.4 739.8 898.2C739.5 897.9 739.2 897.6 739 897.2C738.8 896.9 738.6 896.5 738.6 896.1C738.6 895.8 738.6 895.4 738.7 895.2C738.9 895 739.1 894.8 739.4 894.8C739.6 894.8 740 895 740.2 895.2C740.5 895.4 740.8 895.7 741 896.1Z"/><path d="M763.8 933C763.8 933.2 763.7 933.4 763.6 933.5C763.4 933.6 763.2 933.7 762.9 933.8C762.7 933.8 762.3 933.8 762.1 933.8C761.8 933.7 761.6 933.6 761.4 933.5C761.3 933.4 761.2 933.2 761.2 933C761.2 932.8 761.3 932.6 761.4 932.5C761.6 932.4 761.8 932.3 762.1 932.2C762.3 932.2 762.7 932.2 762.9 932.2C763.2 932.3 763.4 932.4 763.6 932.5C763.7 932.6 763.8 932.8 763.8 933Z"/><path d="M332 1148C332 1148.8 331.9 1149.8 331.8 1150.4C331.6 1151.1 331.4 1151.7 331.2 1152C331 1152.2 330.7 1152.2 330.5 1152C330.3 1151.7 330 1151.1 329.9 1150.4C329.8 1149.8 329.7 1148.8 329.7 1148C329.7 1147.2 329.8 1146.2 329.9 1145.6C330 1144.9 330.3 1144.3 330.5 1144C330.7 1143.8 331 1143.8 331.2 1144C331.4 1144.3 331.6 1144.9 331.8 1145.6C331.9 1146.2 332 1147.2 332 1148Z"/><path d="M638.4 1187.9C638 1188.7 637.4 1189.6 636.8 1190.2C636.3 1190.7 635.5 1191.1 635 1191.2C634.4 1191.2 633.9 1191 633.6 1190.5C633.3 1190.1 633.1 1189.3 633.2 1188.5C633.2 1187.7 633.5 1186.6 633.9 1185.8C634.3 1184.9 634.9 1184 635.5 1183.5C636.1 1182.9 636.8 1182.5 637.3 1182.5C637.9 1182.4 638.4 1182.7 638.7 1183.1C639 1183.6 639.2 1184.4 639.2 1185.2C639.1 1186 638.8 1187.1 638.4 1187.9Z"/></g>
<g fill="#d6556d"><path d="M811.3 359.3C811.3 360.7 810.8 362.3 810.1 363.4C809.3 364.6 808 365.6 806.7 366C805.5 366.4 803.8 366.4 802.6 366C801.4 365.6 800 364.6 799.3 363.4C798.5 362.3 798 360.7 798 359.3C798 358 798.5 356.3 799.3 355.2C800 354.1 801.4 353.1 802.6 352.7C803.8 352.3 805.5 352.3 806.7 352.7C808 353.1 809.3 354.1 810.1 355.2C810.8 356.3 811.3 358 811.3 359.3Z"/></g>
<g fill="#ea7457"><path d="M808.8 359.3C808.8 360.2 808.5 361.3 808 362C807.6 362.7 806.7 363.3 806 363.6C805.2 363.9 804.2 363.9 803.4 363.6C802.6 363.3 801.8 362.7 801.3 362C800.8 361.3 800.5 360.2 800.5 359.3C800.5 358.5 800.8 357.4 801.3 356.7C801.8 356 802.6 355.3 803.4 355.1C804.2 354.8 805.2 354.8 806 355.1C806.7 355.3 807.6 356 808 356.7C808.5 357.4 808.8 358.5 808.8 359.3Z"/></g>
<g fill="#d6556d"><path d="M801.7 388C801.7 386.7 803.3 385.6 805 384.7C806.7 383.8 809.4 383.2 811.7 382.7C813.9 382.1 816.1 381.4 818.3 381.3C820.6 381.2 824 381.2 825 382.2C826 383.1 825 385.6 824.2 387.2C823.3 388.7 822.1 390.3 820 391.3C817.9 392.4 814.2 393.1 811.7 393.3C809.2 393.6 806.7 393.6 805 392.7C803.3 391.8 801.7 389.3 801.7 388Z"/></g>
<g fill="#a11b9b"><path d="M753.3 331.3C754.2 329.4 756.4 326.6 758.3 324.7C760.3 322.7 763.6 320.1 765 319.7C766.4 319.2 766.9 320.5 766.7 322.2C766.4 323.8 764.7 327.3 763.3 329.7C761.9 332 759.7 334.7 758.3 336.3C756.9 338 755.9 339.7 755 339.7C754.1 339.7 753.3 337.7 753 336.3C752.7 334.9 752.4 333.3 753.3 331.3Z"/><path d="M807.5 344.7C808.1 343.6 809.6 342 811.7 341.3C813.8 340.6 817.8 340.2 820 340.5C822.2 340.8 824.4 341.5 825 343C825.6 344.5 824 347.4 823.3 349.7C822.6 351.9 821.7 354.1 820.8 356.3C820 358.6 819 360.6 818.3 363C817.6 365.4 817.5 369.2 816.7 370.5C815.8 371.8 813.8 371.8 813.3 370.5C812.9 369.2 813.8 365.6 814.2 363C814.6 360.4 816.2 356.9 815.8 354.7C815.4 352.4 812.9 350.8 811.7 349.7C810.4 348.6 809 348.8 808.3 348C807.6 347.2 806.9 345.8 807.5 344.7Z"/><path d="M798.3 373C798.5 372.1 801.2 371.5 803.3 371.3C805.4 371.2 810.3 371.5 810.8 372.2C811.4 372.9 808.1 374.8 806.7 375.5C805.3 376.2 803.9 377.1 802.5 376.7C801.1 376.2 798.2 373.9 798.3 373Z"/><path d="M804.2 401.3C805 400.8 807.9 400.2 810 400.5C812.1 400.8 815 403.4 816.7 403C818.3 402.6 818.3 399.9 820 398C821.7 396.1 824.9 393.4 826.7 391.3C828.5 389.2 829.6 387 830.8 385.5C832.1 384 832.9 382 834.2 382.2C835.4 382.3 836.8 384.8 838.3 386.3C839.9 387.9 841.7 389.7 843.3 391.3C845 393 847.4 394.7 848.3 396.3C849.3 398 849.6 399.7 849.2 401.3C848.8 403 847.4 405.2 845.8 406.3C844.3 407.4 842.1 408.3 840 408C837.9 407.7 835.3 405.5 833.3 404.7C831.4 403.8 830 402.7 828.3 403C826.7 403.3 825 405.9 823.3 406.3C821.7 406.8 820.3 405.9 818.3 405.5C816.4 405.1 813.9 404.1 811.7 403.8C809.4 403.6 806.2 404.2 805 403.8C803.8 403.4 803.3 401.9 804.2 401.3Z"/><path d="M320.8 738.8C321 737 322.9 734.4 324.2 733C325.4 731.6 327.5 730.1 328.3 730.5C329.2 730.9 329.4 733.6 329.2 735.5C328.9 737.4 327.6 740.8 326.7 742.2C325.7 743.6 324.3 744.4 323.3 743.8C322.4 743.3 320.7 740.6 320.8 738.8Z"/><path d="M560.8 698C561 696.3 561.5 693.4 562.5 692.2C563.5 690.9 565.3 690.2 566.7 690.5C568.1 690.8 570 692.3 570.8 693.8C571.7 695.4 572.1 697.9 571.7 699.7C571.2 701.5 569.6 703.8 568.3 704.7C567.1 705.5 565.3 705.1 564.2 704.7C563.1 704.2 562.2 703.3 561.7 702.2C561.1 701.1 560.7 699.7 560.8 698Z"/><path d="M670 774.7C670.4 773.3 672.1 770.8 673.3 770.5C674.6 770.2 676.7 771.5 677.5 773C678.3 774.5 678.9 778.3 678.3 779.7C677.8 781.1 675.4 781.5 674.2 781.3C672.9 781.2 671.5 779.9 670.8 778.8C670.1 777.7 669.6 776.1 670 774.7Z"/><path d="M703.3 764.7C703.8 763.1 705.8 760.4 707.5 758.8C709.2 757.3 711.5 755.6 713.3 755.5C715.1 755.4 717.5 756.6 718.3 758C719.2 759.4 719 762 718.3 763.8C717.6 765.6 715.8 767.7 714.2 768.8C712.5 769.9 709.9 770.6 708.3 770.5C706.8 770.4 705.5 769 704.7 768C703.8 767 702.9 766.2 703.3 764.7Z"/><path d="M702.2 913C702.3 911.9 703.5 910.6 704.7 910C705.8 909.4 707.4 908.9 709 909.2C710.6 909.4 712.7 910.4 714.3 911.3C715.9 912.2 717.7 913.4 718.7 914.7C719.7 915.9 720.3 917.8 720.3 919C720.3 920.2 719.7 921.3 718.7 921.7C717.7 922 715.9 921.7 714.3 921.2C712.7 920.7 710.8 919.4 709 918.7C707.2 917.9 705 917.4 703.8 916.5C702.7 915.6 702 914.1 702.2 913Z"/></g>
<g fill="#7e03a8"><path d="M830 396.3C830.4 395.5 833.1 394.5 835 394.7C836.9 394.8 839.9 396.1 841.7 397.2C843.5 398.3 845.7 400.1 845.8 401.3C846 402.6 843.9 404.2 842.5 404.7C841.1 405.1 839.2 404.7 837.5 403.8C835.8 403 833.8 400.9 832.5 399.7C831.2 398.4 829.6 397.2 830 396.3Z"/><path d="M322.5 738.8C322.7 737.6 324.2 735.2 325 734.7C325.8 734.1 326.9 734.5 327 735.5C327.1 736.5 326.4 739.4 325.8 740.5C325.3 741.6 324.2 742.4 323.7 742.2C323.1 741.9 322.3 740.1 322.5 738.8Z"/><path d="M562.5 697.2C562.5 695.9 563.3 693.8 564.2 693C565 692.2 566.7 692 567.5 692.7C568.3 693.4 569.3 695.7 569.2 697.2C569 698.6 567.5 700.8 566.7 701.3C565.8 701.9 564.9 701.2 564.2 700.5C563.5 699.8 562.5 698.4 562.5 697.2Z"/><path d="M711.5 762.5C711.6 762.8 711.7 763.2 711.5 763.6C711.4 764 711.1 764.5 710.7 764.8C710.3 765.1 709.7 765.5 709.2 765.6C708.8 765.8 708.2 765.8 707.8 765.8C707.4 765.7 707 765.4 706.9 765.2C706.7 764.9 706.7 764.4 706.8 764.1C706.9 763.7 707.3 763.2 707.7 762.9C708 762.5 708.6 762.2 709.1 762C709.6 761.9 710.1 761.8 710.5 761.9C710.9 762 711.3 762.2 711.5 762.5Z"/><path d="M706.5 913C706.9 912.3 708.8 911.6 710 911.7C711.2 911.8 712.8 912.6 713.8 913.5C714.8 914.4 715.9 915.8 716 916.8C716.1 917.8 715.5 919.2 714.7 919.5C713.8 919.8 712.1 919.2 710.8 918.7C709.6 918.1 708.1 916.9 707.3 916C706.6 915.1 706.1 913.7 706.5 913Z"/></g>
<g stroke="#aaaaaa" stroke-opacity="0.27" stroke-width="2" fill="none"><path d="M329 292.5V1223.0"/><path d="M485.1 292.5V1223.0"/><path d="M641.3 292.5V1223.0"/><path d="M797.5 292.5V1223.0"/><path d="M953.6 292.5V1223.0"/><path d="M1109.8 292.5V1223.0"/><path d="M1265.9 292.5V1223.0"/><path d="M229.5 366.7H1366.5"/><path d="M229.5 496.7H1366.5"/><path d="M229.5 626.8H1366.5"/><path d="M229.5 756.8H1366.5"/><path d="M229.5 886.8H1366.5"/><path d="M229.5 1016.8H1366.5"/><path d="M229.5 1146.9H1366.5"/></g>
<path fill="none" stroke="#000" stroke-width="1.9" stroke-linejoin="round" stroke-linecap="round" d="M530 318L525 320.5L521.7 319.7L518.3 316.3L511.7 316L506.7 317.2L498.3 316.7L495 318.8L493.7 323.8L495.8 328L493.7 332.2L490 336.3L486.7 340.5L485 344.7L486.7 348.8L490 351L498.3 351.3L503.3 354.3L510 353.8L515 356.3L520.8 357.2L525 360.5L530 363.8M230 525.5L233.3 529.7L240 530.5L245 533.8L250 528.8L255 527.2L260 521.3L264.2 519.7L265.8 523L275 523L281.7 526.3L287.5 530.5L292.5 528L298.3 521.3L300.8 513.8L308.3 514.7L315 517.7L318.3 519.7L318.3 528L324.2 530.5L326.7 536.3L330 538M542.5 293L543 301.3L542.5 309.7L538.3 314.7L533.3 317.7L528.3 318.3L525 320.5M525 361.3L530 364.7L535 369.7L538.3 374.7L539.2 378.8L543.3 383L546.7 384.3L548.3 389.7L552.5 393.3L558.3 395.5L564.2 398.8L564.2 404.7L570 406.3L575 409.7L577.5 418L580 426.3L582.5 433L586.7 439.7L588 444.7L587 448.8L590 454.7L594.2 462.2L599.2 467.2L603.3 470.5L602.5 473.8L605.8 478L609.2 476.3L612.5 473.5L616.7 474.3L620.8 476.8L625 476.3L629.2 478.8L631.7 480.5L630 485.5L630.8 489.7L629.2 494.7L628.7 503L630.8 508.8L635.8 514.7L638.3 517.2L639.2 522.2L642.5 524.7L655 525.5L671.7 525.5L685 526.3L691.7 528.8L698.3 533L705.8 538M535 538L545 526.3L556.7 515.5L571.7 508L588.3 502.2L602.5 497.7L608.3 495.5L610.8 494.3L611.7 496.3L610 499.7L615 500.5L619.2 501.3L618.3 506.3L616.7 508L619.2 512.2L622.5 516.3L625.8 518L626.7 513.8L629.2 513L630 515.5L636.7 515.8M1071.7 293.8L1085 298.3L1100 303.5M878.3 538L888.3 533.5L895 538M958.3 538L978.3 535.5L995 533L999.2 530.5L1001.7 523.8L1011.7 514.7L1033.3 504.3L1045 501.7L1055.8 498.8L1078.3 500L1100 501.3M1100 303.5L1211.7 341L1264.2 341M1295.8 293.8L1264.2 341L1236.7 366.3L1181.7 418L1105.8 501.3L1095 500.5M1368.3 335.5L1365 338L1360.8 343L1360 349.7L1360.8 352.2L1357.5 358L1355 364.7L1350 373L1345 378.8L1340 385.5L1335 393L1330 403L1325.8 413L1320.8 423.8L1322 429.7L1320 435.5L1315 443.8L1308.3 454.7L1302.5 463.8L1299.2 471.3L1294.2 477.2L1288.3 486.3L1282.5 493L1276.7 500.5L1272.5 508L1268.3 516.3L1263.3 523.8L1256.7 531.3L1250.8 538M325 533L327.5 537.2L331.7 540.5L335.8 543.8L339.2 549.7L345 551.3L351.7 554.3L356.7 555.5L358 561.3L358.3 568.8L363.3 567.7L368.3 566.3L370.8 570.5L374.2 573.8M374.2 573.8L375.8 568.8L378.3 564.7L385 561.3L390 559.3L396.7 560.5L403.3 563.8L408.3 566.3L410.8 564.7L416.7 563L422.5 558L426.7 563L429.2 568.8L435 570L439.2 573.8L442.5 573.8L441.7 568.8L448.3 564.7L454.2 562.2L463.3 561.3L471.7 560.5L480 558L484.2 554.7L488.3 557.2L493.3 560.5L501.7 561.7L510 561.7L515 558.8L530 543.8M374.2 573.8L376.7 577.2L375 581.3L371.7 586.3L369.7 592.2L368 598L370.8 601.3L373.3 606.3L371.7 612.2L368.7 618L366.7 623.8L366.3 628.8L370.8 629.7L373.3 633.8L377.5 631.3L381.7 634.7L385 637.7L390 637.7L391.7 641.3L395.8 644.7L393.3 649.7L388.3 656.3L381.7 664.7L373.3 671.3L365 678L360 684.7L353.3 693L348.3 693.8L343.3 695.5L340.8 699.7L340 704.7L336.7 708.8L330 710.5L325.8 713.8L325 719.7L325.8 726.3L323.3 733L320.8 739.7L319.2 746.3L315 749.7L313.3 756.3L312.5 766.3L310.8 774.7L310 779.7L311.7 783M525 548.8L537.5 537.2L541.7 532.2M537.5 537.2L540 543L541.7 551.3L545 555.5L545.8 559.7L551.7 562.2L557.5 563.8L560 567.2L560.3 573L557.5 577.2L559.2 583L560.8 591.3L565.8 595.5L568.3 603L571.7 607.2L575 608L578.3 614.7L580.8 619.7L583.3 623L585 628L582.5 633L585 639.7L587.5 646.3L588.3 654.7L589.7 657.2L588.3 664.7L588 671.3L583.3 675.5L580.8 680.5L578 684.7L578.7 689.7L577.5 693L571.7 693.8L565.8 697.2L561.7 700.5L560.8 706.3L557.5 713L552.5 717.2L550 722.2L545 724.7L542.5 731.3L540.8 736.3L541.7 739.7L536.7 744.7L531.7 751.3L534.2 761.3L533.3 773L532.5 783M698.3 533L708.3 540.5L721.7 549.7L735 558L745 564.7L750 568.3L761.7 568L770 568.8L771.7 567.2L774.2 568.8L780 568.8L785 572.2L793.3 573.5L800 573L808.3 575.5L813.3 574.7L820 576.7L825 579.7L827.5 573.8L830 571.7M795 573L801.7 573L808.3 576L813.3 575.5L821.7 576.7L825 579.7L827.5 573.8L835.8 566.3L839.2 559.7L840.8 555.5L858.3 547.2L870 542.2L888.3 534.3L895 540.5L901.7 545.5L905.8 549.7L911.7 551.7L921.7 551L931.7 549.3L938.3 548.8L945.8 550.5L949.2 546.3L949.2 544.7L958.3 538.3L968.3 537.7L980 535.5L991.7 533.8L997.5 533M945.8 550.5L933.3 568.8L920 588.8L911.7 597.2L899.7 609.3L899.7 699.7L900 783M1100 665.5L1088.3 673.8L1076.7 683L1065 693L1055 701.3L1046.7 707.2L1036.7 716.3L1025 728L1015 738.8L1005 749.7L995 759.7L986.7 767.2L980.8 773.8L975.8 779.7L973.3 783M1260.8 528L1255.8 533L1243.3 545.5L1238.3 552.2L1226.7 563.8L1215 575.5L1205 587.2L1195 597.2L1185 606.3L1176.7 614.7L1170 621.3L1164.2 628.3L1153.3 635.5L1138.3 643.8L1122.5 653L1110 658.3L1095 670L1090 673.8M310 778L310.8 784.7L309.2 791.3L308.3 798L306.3 804.7L305.8 811.3L306.7 819.7L307.5 828M307.5 828L311.7 827.2L315.8 826.3L320.8 825.5L322.5 829.7L325 833L331.7 829.7L338.3 825.5L341.7 821.3L344.2 817.2L346.7 812.2L352.5 812.2M352.5 812.2L361.7 811.3L366.7 808.8L371.7 808L373.3 809.2L530 809.2M352.5 812.2L355 818L358.3 824.7L365 828.8L368.3 833L369.2 838L372.5 841.3L372.5 849.7L371.7 856.3L373.3 861.3L375 864.7L374.2 871.3L373.3 878L370 879.7L363.3 879.3L358.3 881.3M358.3 881.3L353.3 878L348.3 876.7L344.2 878.8L340 878L335.8 883L331.7 880.5L326.3 877.2L325.8 884.7L325 894.7L321.7 900.5L315 901.3L308.3 902.2L301.7 903L295.8 903.3L294.2 898L292.5 894.7L285 892.2L280 892.2L278.3 898M307.5 828L301.7 831.3L295 835.5L290.8 840.5L285.8 848L283.7 854.7L284.2 861.3L285 868L282.5 873L277.5 874.7L273.3 878L270 882.2L270 888L271.7 894.7L275 897.2L278.3 898M278.3 898L277 902.2L280 906.3L284.2 911.3L289.2 914.7L289.2 920.5L288 928L288.3 936.3L289.2 944.7L288.3 953L289.2 959.7L292.5 965.5L295.8 972.2L298 981.3L298.7 988M358.3 881.3L355 888L350.8 894.7L355.8 895.5L351.7 899.7L350.8 905.5L356.7 909.7L365 911.3L372.5 911.3L370.8 913.8L373.3 919.7L371.7 927.2L366.7 928L361.7 930.5L363.3 933.8L358.3 937.2L353.3 939.7L350 946.3L349.2 953L345 955.5L340 961.3L337.5 968L331.7 975.5L325 981.3L318.3 985.5L315.8 988.8L298.7 988M298.7 988L297.5 994.7L295 1001.3L293.3 1008L294.2 1014.7L296.7 1021.3L299.2 1028M533.3 777.2L532 788L532 799.7L532.5 808.8M525 809.2L532.5 808.8L537.5 808.8L698.7 900L727.3 915.2L728.5 921.7L729.8 927.7L727.3 930.8L724.2 933L723.3 935.5L724.2 938.5L727.3 939.5L730.3 940.7L732 945L733.3 947.2L807 999.7M830 972L827.8 978L826 985L821.7 991.8L818.3 995.3L814.8 996.2L810.5 996.2L807 999.7L808.7 1004L806.2 1009.2L803.5 1013.5L804.3 1019.7L801.8 1024L800 1030M980.8 773L976.7 781.3L968.3 790.5L961.7 798L956.7 800L955 803L952.5 805.5L951.7 809.7L948.3 817.2L945 818.8L941.7 827.2L935 836.3L930 843L923.3 851.3L916.7 858L911.7 857.2L908.3 859.7L903.3 857.2L900 861.3L901.7 868L896.7 874.7L890 876.3L891.7 881.3L885.8 884.7L881.7 888.8L875 888L868.3 890.5L861.7 894.7L858.3 901.3L858.7 909.7L861.3 911.3L858 916.3L856.7 924.7L850.8 928.8L847.5 932.2L843.3 941.3L842.5 948L839.2 956.3L835 963L830.8 969.7L830 972M900 777.2L900 802.2L930 839.7L930 843M795 991.3L807.5 999.7M893.3 859.7L896.7 864.7L895 858L899.2 861.3L901.7 855.5L900 863L905 861.3L910 864.7L905 868L900 868.8L898.3 873L895.8 874.7M832.5 1010.5L837.5 1011.3L842.5 1010.5L843.3 1014.7L841.7 1019.7L842.5 1024.7L840.8 1028M832.5 1010.5L833.3 1013.8L832.5 1018L834.2 1023L831.7 1028M297.5 1022.2L300.8 1028L303.3 1036.3L306.7 1044.7L309.2 1053L307.5 1058.8L303.3 1064.7L301.7 1069.7L303.3 1076.3L305 1083.8L309.2 1090.5L313.3 1099.7L320 1106.3L329.2 1111.3L335 1116.3L341.7 1124.7L346.7 1133.8L350 1143L351.3 1149.7L356.7 1158.8L362.5 1168L365.8 1176.3L368.3 1183L371.7 1191.3L376.7 1198L381.7 1203L386.7 1205L390.8 1202.7L394.2 1204.7L399.2 1203.3L403.3 1206.3L408.3 1208.8L410 1214.7L415 1219.7L418.3 1221L421.7 1218.8L426.7 1220L430.8 1221.7M368.3 1183L271.7 1197.7L274.2 1203L273.3 1208.8L269.2 1215.5L263.3 1222.2M803.3 1022.2L800 1029.7L797.5 1039.7L793.3 1048L789.2 1058L785.8 1069.7L788.3 1078L790 1086.3L794.2 1091.3L798.3 1093L805 1099.7L810.8 1106.3L813.3 1113L821.7 1114.7L825.8 1118.8L826.7 1126.3L821.7 1131.3L815.8 1138L814.2 1144.7L811.7 1153L813.3 1159.7L810.8 1163L818.3 1162.2L820.8 1169.7L820 1178L815.8 1184.7L812.5 1188L814.2 1196.3L816.7 1204.7L820.8 1211.3L818.3 1218L823.3 1220.5L826.7 1222.2M814.2 1053.8L815.8 1058L816.7 1064.7L819.2 1071.3L823.3 1074.7L825.8 1079.7L827 1088L825 1092.2L821.7 1091.3L818.3 1087.2L815 1085.5L811.7 1080.5L808.3 1078.8L806.7 1073L807.5 1066.3L806.7 1061.3L809.2 1057.2L811.7 1058.8ZM832.5 1018L830.8 1026.3L833.3 1030.5L830 1033L830.8 1037.2L826.7 1038L830.8 1041.7L835 1040.5L839.2 1036.3L842.5 1029.7L843.3 1018M845 1153.8L843.3 1161.3L840 1166.3L836.7 1169.7L838.7 1172.2L835 1177.7L833.3 1175.5L834.2 1172.2L827.5 1169.7L832.5 1165.5L837.5 1161.3L841.7 1157.2ZM826.3 968L828.3 965.5L827.5 963L830.8 963.8L832.5 960.5L835 959.7L834.2 963L835.3 965.5L832.5 966.3L830.8 969.7M808.3 1001.3L806.7 1003.3L808.7 1004.7L806 1007.2L808 1009.3L804.3 1011.3L806.3 1013.8L803 1015.5L805 1018.8L802 1020.5L803.7 1023L800.8 1026.3"/>
</g>
<rect x="229.5" y="292.5" width="1137.0" height="930.5" fill="none" stroke="#000" stroke-width="3.2"/>
<text transform="translate(797.5 210) scale(1 1.05)" font-size="50.17" text-anchor="middle" xml:space="preserve">Temp(°C) @ 20250321_09</text>
<text transform="translate(797.5 267) scale(1 1.05)" font-size="50.17" text-anchor="middle" xml:space="preserve"> Simulation Time: 20250319_12</text>
<text transform="translate(329 1277) scale(1 1.085)" font-size="41.8" text-anchor="middle" xml:space="preserve">30°E</text>
<text transform="translate(485.1 1277) scale(1 1.085)" font-size="41.8" text-anchor="middle" xml:space="preserve">33°E</text>
<text transform="translate(641.3 1277) scale(1 1.085)" font-size="41.8" text-anchor="middle" xml:space="preserve">36°E</text>
<text transform="translate(797.5 1277) scale(1 1.085)" font-size="41.8" text-anchor="middle" xml:space="preserve">39°E</text>
<text transform="translate(953.6 1277) scale(1 1.085)" font-size="41.8" text-anchor="middle" xml:space="preserve">42°E</text>
<text transform="translate(1109.8 1277) scale(1 1.085)" font-size="41.8" text-anchor="middle" xml:space="preserve">45°E</text>
<text transform="translate(1265.9 1277) scale(1 1.085)" font-size="41.8" text-anchor="middle" xml:space="preserve">48°E</text>
<text transform="translate(208.5 379.4) scale(1 1.085)" font-size="41.8" text-anchor="end" xml:space="preserve">7.5°N</text>
<text transform="translate(208.5 509.4) scale(1 1.085)" font-size="41.8" text-anchor="end" xml:space="preserve">5°N</text>
<text transform="translate(208.5 639.5) scale(1 1.085)" font-size="41.8" text-anchor="end" xml:space="preserve">2.5°N</text>
<text transform="translate(208.5 769.5) scale(1 1.085)" font-size="41.8" text-anchor="end" xml:space="preserve">0°</text>
<text transform="translate(208.5 899.5) scale(1 1.085)" font-size="41.8" text-anchor="end" xml:space="preserve">2.5°S</text>
<text transform="translate(208.5 1029.5) scale(1 1.085)" font-size="41.8" text-anchor="end" xml:space="preserve">5°S</text>
<text transform="translate(208.5 1159.6) scale(1 1.085)" font-size="41.8" text-anchor="end" xml:space="preserve">7.5°S</text>
<rect x="1437.0" y="232.8" width="57.0" height="105.5" fill="#f7e425"/><rect x="1437.0" y="337.8" width="57.0" height="105.5" fill="#feba2c"/><rect x="1437.0" y="442.8" width="57.0" height="105.5" fill="#f89540"/><rect x="1437.0" y="547.8" width="57.0" height="105.5" fill="#ea7457"/><rect x="1437.0" y="652.8" width="57.0" height="105.5" fill="#d6556d"/><rect x="1437.0" y="757.8" width="57.0" height="105.5" fill="#bf3984"/><rect x="1437.0" y="862.8" width="57.0" height="105.5" fill="#a11b9b"/><rect x="1437.0" y="967.8" width="57.0" height="105.5" fill="#7e03a8"/><rect x="1437.0" y="1072.8" width="57.0" height="105.5" fill="#5601a4"/><rect x="1437.0" y="1177.8" width="57.0" height="105.5" fill="#2a0593"/><path d="M1437.0 233.3L1465.5 180.5L1494.0 233.3Z" fill="#f0f921"/><path d="M1437.0 1282.3L1465.5 1334.5L1494.0 1282.3Z" fill="#0d0887"/><path d="M1437.0 232.8L1465.5 180.5L1494.0 232.8L1494.0 1282.8L1465.5 1334.5L1437.0 1282.8Z" fill="none" stroke="#000" stroke-width="3.2" stroke-linejoin="miter"/>
<path d="M1495.5 337.8H1510.5" stroke="#000" stroke-width="3"/><text transform="translate(1524.3 353.3) scale(1 1.085)" font-size="41.8" text-anchor="start" xml:space="preserve">40</text>
<path d="M1495.5 547.8H1510.5" stroke="#000" stroke-width="3"/><text transform="translate(1524.3 563.3) scale(1 1.085)" font-size="41.8" text-anchor="start" xml:space="preserve">30</text>
<path d="M1495.5 757.8H1510.5" stroke="#000" stroke-width="3"/><text transform="translate(1524.3 773.3) scale(1 1.085)" font-size="41.8" text-anchor="start" xml:space="preserve">20</text>
<path d="M1495.5 967.8H1510.5" stroke="#000" stroke-width="3"/><text transform="translate(1524.3 983.3) scale(1 1.085)" font-size="41.8" text-anchor="start" xml:space="preserve">10</text>
<path d="M1495.5 1177.8H1510.5" stroke="#000" stroke-width="3"/><text transform="translate(1524.3 1193.3) scale(1 1.085)" font-size="41.8" text-anchor="start" xml:space="preserve">0</text>
</svg></body></html>
